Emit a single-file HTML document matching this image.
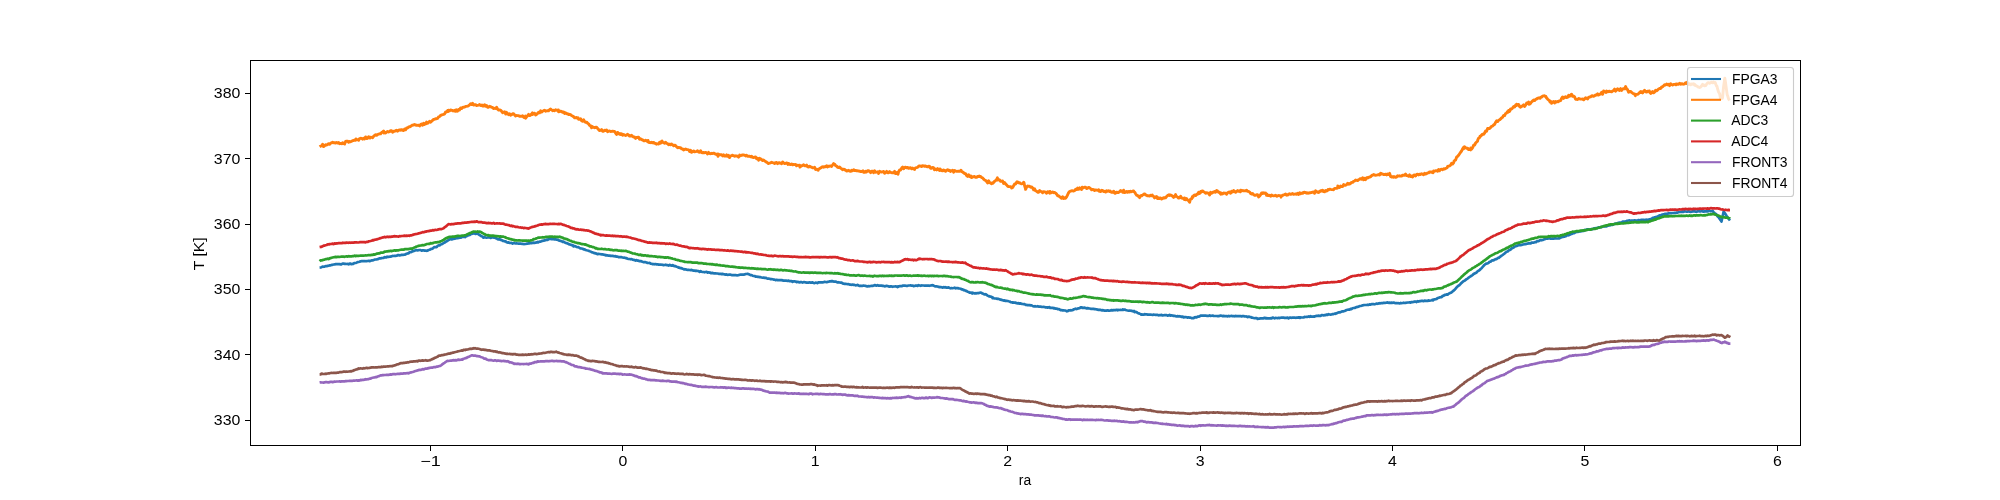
<!DOCTYPE html>
<html><head><meta charset="utf-8"><style>
html,body{margin:0;padding:0;background:#fff;}
svg{display:block;filter:grayscale(0);}
text{font-family:"Liberation Sans",sans-serif;fill:#000;}
</style></head><body>
<svg width="2000" height="500" viewBox="0 0 2000 500">
<rect x="0" y="0" width="2000" height="500" fill="#fff"/>
<defs><clipPath id="ax"><rect x="250" y="60" width="1550" height="385"/></clipPath></defs>
<g clip-path="url(#ax)" fill="none" stroke-width="2.08" stroke-linejoin="round" stroke-linecap="butt">
<path d="M319.6,267.6 L320.6,267.5 L321.6,267.2 L322.6,266.6 L323.6,266.8 L324.6,266.6 L325.6,266.1 L326.6,266.2 L327.6,265.9 L328.6,265.7 L329.6,265.4 L330.6,265.3 L331.6,264.9 L332.6,264.8 L333.6,264.5 L334.6,264.5 L335.0,264.3 L335.6,264.2 L336.6,264.1 L337.6,264.2 L338.6,264.2 L339.6,264.1 L340.6,264.4 L341.6,264.3 L342.6,263.5 L343.6,263.6 L344.6,263.9 L345.6,263.9 L346.6,264.0 L347.6,263.9 L348.6,264.3 L349.6,263.6 L350.6,263.7 L351.6,264.2 L352.6,263.8 L353.2,263.8 L353.6,263.5 L354.6,263.0 L355.6,263.0 L356.6,262.7 L357.6,262.1 L358.6,262.0 L359.6,261.8 L360.6,261.3 L361.6,261.2 L362.6,261.2 L363.6,261.1 L364.6,261.0 L365.6,261.2 L366.6,261.2 L367.6,261.0 L368.6,260.8 L369.6,261.1 L370.0,260.8 L370.6,260.9 L371.6,260.3 L372.6,260.5 L373.6,260.1 L374.6,259.6 L375.6,259.5 L376.6,259.4 L377.6,259.2 L378.6,258.7 L379.6,258.4 L380.6,258.5 L381.6,258.1 L382.6,258.0 L383.6,257.9 L384.6,257.2 L385.6,257.3 L386.6,257.3 L386.8,256.9 L387.6,256.7 L388.6,256.9 L389.6,256.7 L390.6,256.7 L391.6,256.3 L392.6,255.9 L393.6,256.0 L394.6,255.8 L395.6,255.9 L396.6,255.7 L397.6,255.2 L398.6,255.1 L399.6,255.4 L400.6,255.2 L401.6,254.8 L402.6,254.8 L403.6,254.8 L404.6,254.6 L405.0,254.7 L405.6,254.3 L406.6,253.8 L407.6,253.4 L408.6,253.3 L409.6,252.2 L410.6,252.2 L411.6,251.9 L412.6,251.2 L413.6,251.1 L414.6,250.5 L415.6,250.4 L416.2,250.0 L416.6,250.2 L417.6,250.3 L418.6,250.2 L419.6,250.0 L420.6,250.0 L421.6,250.7 L422.6,250.4 L423.6,250.3 L424.6,250.6 L425.6,250.5 L426.6,250.8 L427.4,250.7 L427.6,250.6 L428.6,250.0 L429.6,249.8 L430.6,249.1 L431.6,248.9 L432.6,248.7 L433.6,247.6 L434.6,247.0 L435.6,247.1 L436.6,247.1 L437.6,245.9 L438.6,245.4 L439.6,245.3 L440.6,244.6 L441.4,244.3 L441.6,244.2 L442.6,243.8 L443.6,243.0 L444.6,242.6 L445.6,241.9 L446.6,241.2 L447.6,240.7 L448.6,240.0 L449.6,239.6 L449.8,239.3 L450.6,239.1 L451.6,239.5 L452.6,239.0 L453.6,238.8 L454.6,238.7 L455.6,238.4 L456.6,238.2 L457.6,238.2 L458.6,238.0 L459.6,237.5 L460.6,237.7 L461.6,237.2 L462.6,237.0 L463.6,236.8 L464.6,236.7 L465.2,237.0 L465.6,236.3 L466.6,236.1 L467.6,235.3 L468.6,235.3 L469.6,235.0 L470.6,234.4 L471.6,233.9 L472.6,233.7 L473.6,233.3 L474.6,233.5 L475.6,233.9 L476.6,233.7 L477.6,233.7 L477.8,233.9 L478.6,234.4 L479.6,235.0 L480.6,235.6 L481.6,236.3 L482.6,236.6 L483.4,237.6 L483.6,237.3 L484.6,237.2 L485.6,237.5 L486.6,237.7 L487.6,237.5 L488.6,237.4 L489.6,237.2 L490.6,238.0 L491.6,237.6 L492.6,237.2 L493.2,237.2 L493.6,237.6 L494.6,237.6 L495.6,238.2 L496.6,238.4 L497.6,239.1 L498.6,239.4 L499.6,239.0 L500.6,239.9 L501.6,239.9 L502.6,240.8 L503.6,240.9 L504.6,241.3 L505.6,241.3 L506.6,242.2 L507.6,242.6 L508.6,242.3 L509.6,242.9 L510.0,242.9 L510.6,243.0 L511.6,242.9 L512.6,243.6 L513.6,243.1 L514.6,243.3 L515.6,243.5 L516.6,243.4 L517.6,243.5 L518.6,243.6 L519.6,243.7 L520.6,243.6 L521.6,243.8 L522.6,243.9 L523.6,244.0 L524.0,244.1 L524.6,244.0 L525.6,244.0 L526.6,243.7 L527.6,243.6 L528.6,243.4 L529.6,243.3 L530.6,243.0 L531.6,243.2 L532.6,242.8 L533.6,242.7 L534.6,242.8 L535.6,242.7 L536.6,242.4 L537.6,241.9 L538.0,242.4 L538.6,242.2 L539.6,241.6 L540.6,241.7 L541.6,241.1 L542.6,240.8 L543.6,240.7 L544.6,240.4 L545.6,240.2 L546.6,239.5 L547.6,239.9 L548.6,239.2 L549.6,238.7 L550.0,239.0 L550.6,238.9 L551.6,239.1 L552.6,239.1 L553.6,239.2 L554.6,239.4 L555.6,239.3 L556.6,239.7 L557.0,239.5 L557.6,239.7 L558.6,240.2 L559.6,240.7 L560.6,240.9 L561.6,241.2 L562.6,241.8 L563.6,241.7 L564.6,242.3 L565.6,242.9 L566.6,243.0 L567.6,243.6 L568.6,244.0 L569.6,244.5 L570.6,244.6 L571.0,244.8 L571.6,245.2 L572.6,245.0 L573.6,246.4 L574.6,246.0 L575.6,246.3 L576.6,247.0 L577.6,247.2 L578.6,247.2 L579.6,248.0 L580.6,248.4 L581.6,248.5 L582.6,248.8 L583.6,249.3 L584.6,249.4 L585.6,250.0 L586.6,250.3 L587.6,250.5 L588.6,250.7 L589.6,251.3 L590.6,251.5 L591.6,252.2 L592.6,252.4 L593.6,252.9 L594.6,253.1 L595.6,253.4 L596.2,253.4 L596.6,253.8 L597.6,254.2 L598.6,253.9 L599.6,254.0 L600.6,254.2 L601.6,254.3 L602.6,254.4 L603.6,254.7 L604.6,254.8 L605.6,255.3 L606.6,255.2 L607.6,255.4 L608.6,255.7 L609.6,255.5 L610.6,256.0 L611.6,255.8 L612.6,255.9 L613.6,256.1 L614.6,256.3 L615.6,256.2 L616.6,256.7 L617.6,256.5 L618.6,257.2 L619.6,257.1 L620.6,257.1 L621.6,257.2 L622.6,257.5 L623.6,257.7 L624.2,257.6 L624.6,257.7 L625.6,258.1 L626.6,258.2 L627.6,258.7 L628.6,259.0 L629.6,259.0 L630.6,259.3 L631.6,259.1 L632.6,259.7 L633.6,259.8 L634.6,260.1 L635.6,260.6 L636.6,260.0 L637.6,260.7 L638.6,260.7 L639.6,261.2 L640.6,261.1 L641.6,261.4 L642.6,261.8 L643.6,262.1 L644.6,262.2 L645.6,262.2 L646.6,262.5 L647.6,263.0 L648.6,263.0 L649.6,262.9 L650.6,263.6 L651.6,263.8 L652.6,264.1 L653.6,264.0 L654.6,264.3 L655.6,264.0 L656.6,264.4 L657.6,264.3 L658.6,264.6 L659.6,264.7 L660.6,264.5 L661.6,264.7 L662.6,264.8 L663.6,265.1 L664.6,265.0 L665.6,264.7 L666.6,265.1 L667.6,265.2 L668.6,265.6 L669.6,264.9 L670.6,265.2 L671.6,265.7 L672.6,265.2 L673.2,265.3 L673.6,265.7 L674.6,266.2 L675.6,266.2 L676.6,266.8 L677.6,267.0 L678.6,267.6 L679.6,267.7 L680.6,268.2 L681.6,268.2 L682.6,268.7 L683.6,269.0 L684.4,269.5 L684.6,269.4 L685.6,269.3 L686.6,269.7 L687.6,269.9 L688.6,269.8 L689.6,270.0 L690.6,270.1 L691.6,269.9 L692.6,270.4 L693.6,270.6 L694.6,270.5 L695.6,271.0 L696.6,270.7 L697.6,271.0 L698.6,271.1 L699.6,271.8 L700.6,271.2 L701.6,271.7 L702.6,272.0 L703.6,272.0 L704.6,272.3 L705.6,272.0 L706.6,271.8 L707.6,272.6 L708.6,272.3 L709.6,272.6 L710.6,272.6 L711.0,273.1 L711.6,273.1 L712.6,272.9 L713.6,273.3 L714.6,273.3 L715.6,273.3 L716.6,273.5 L717.6,273.5 L718.6,273.8 L719.6,273.8 L720.6,273.8 L721.6,274.2 L722.6,273.9 L723.6,274.2 L724.6,274.4 L725.6,274.7 L726.6,274.4 L727.6,274.9 L728.6,274.7 L729.6,274.7 L730.6,274.7 L731.6,275.1 L732.6,275.1 L733.6,275.0 L734.6,275.1 L734.8,275.2 L735.6,275.1 L736.6,275.3 L737.6,275.3 L738.6,275.1 L739.6,274.8 L740.6,274.6 L741.6,274.6 L742.6,274.6 L743.6,274.7 L744.6,274.4 L745.6,274.0 L746.6,274.0 L747.4,273.8 L747.6,273.8 L748.6,274.2 L749.6,274.6 L750.6,275.2 L751.6,275.1 L752.6,275.7 L753.6,276.0 L754.6,276.0 L755.6,276.6 L756.6,276.7 L757.2,276.6 L757.6,276.8 L758.6,276.9 L759.6,277.1 L760.6,277.2 L761.6,277.5 L762.6,277.7 L763.6,277.6 L764.6,277.9 L765.6,277.8 L766.6,278.3 L767.6,278.6 L768.6,278.6 L769.6,278.8 L770.6,279.1 L771.6,279.0 L772.6,279.2 L773.6,279.5 L774.0,279.7 L774.6,279.6 L775.6,280.2 L776.6,279.8 L777.6,280.1 L778.6,280.2 L779.6,280.1 L780.6,280.0 L781.6,280.1 L782.6,280.4 L783.6,280.7 L784.6,280.7 L785.6,280.7 L786.6,280.7 L787.6,281.0 L788.6,280.6 L789.6,281.2 L790.6,281.2 L791.6,281.1 L792.6,281.9 L793.6,281.3 L794.6,281.4 L795.6,281.5 L796.6,282.1 L797.6,281.8 L798.6,282.2 L799.6,282.3 L800.0,282.3 L800.6,282.0 L801.6,282.1 L802.6,282.6 L803.6,282.1 L804.6,282.2 L805.6,282.4 L806.6,282.6 L807.6,282.5 L808.6,282.6 L809.6,282.3 L810.6,282.7 L811.6,282.7 L812.6,282.3 L813.6,283.0 L814.6,283.1 L815.6,282.6 L816.6,282.8 L817.6,283.1 L818.2,282.5 L818.6,282.4 L819.6,282.4 L820.6,282.4 L821.6,282.3 L822.6,282.4 L823.6,282.2 L824.6,281.8 L825.6,282.0 L826.6,282.2 L827.6,281.9 L828.6,281.7 L829.6,281.4 L830.6,281.5 L831.6,281.0 L832.2,281.3 L832.6,281.2 L833.6,281.6 L834.6,281.7 L835.6,281.6 L836.6,282.0 L837.6,282.4 L838.6,282.2 L839.6,282.5 L840.6,282.6 L841.6,282.7 L842.6,283.4 L843.6,283.7 L844.6,283.8 L845.6,283.8 L846.6,284.0 L847.6,284.2 L848.6,284.2 L849.6,284.6 L850.6,284.7 L851.6,284.8 L852.6,284.6 L853.6,284.9 L854.6,284.9 L855.6,285.4 L856.6,285.2 L857.6,284.9 L858.6,285.5 L859.6,285.9 L860.6,285.7 L861.6,285.9 L862.6,285.8 L863.6,285.5 L864.6,285.7 L865.6,285.9 L866.6,286.2 L867.2,286.4 L867.6,286.4 L868.6,286.1 L869.6,286.3 L870.6,286.0 L871.6,285.8 L872.6,286.0 L873.6,285.6 L874.6,285.1 L875.6,285.4 L876.6,285.7 L877.6,285.1 L878.6,285.7 L879.6,285.7 L880.6,285.6 L881.6,285.6 L882.6,285.9 L883.6,285.9 L884.6,286.3 L885.6,286.2 L886.6,285.8 L887.6,286.0 L888.6,286.4 L889.6,286.7 L890.6,286.4 L891.6,286.4 L892.6,286.8 L893.6,286.5 L894.6,286.5 L895.6,286.3 L896.6,286.5 L897.6,287.1 L898.0,286.4 L898.6,286.6 L899.6,286.1 L900.6,286.2 L901.6,286.2 L902.6,285.7 L903.6,285.7 L904.6,285.7 L905.6,285.7 L906.6,285.9 L907.6,285.8 L908.6,285.5 L909.6,285.5 L910.6,285.4 L911.6,285.7 L912.6,285.5 L913.6,286.1 L914.6,286.0 L915.6,285.6 L916.6,285.5 L917.6,285.9 L918.6,285.2 L919.6,285.5 L920.6,285.8 L921.6,285.4 L922.6,285.5 L923.6,285.5 L924.6,285.7 L925.6,285.6 L926.6,285.7 L927.6,285.7 L928.6,285.6 L929.6,285.8 L930.6,285.5 L931.6,285.3 L932.6,285.2 L933.0,285.3 L933.6,285.6 L934.6,286.2 L935.6,286.3 L936.6,286.4 L937.6,286.5 L938.6,286.9 L939.6,287.1 L940.0,287.2 L940.6,287.0 L941.6,287.3 L942.6,287.6 L943.6,287.1 L944.6,287.5 L945.6,287.2 L946.6,287.7 L947.6,287.6 L948.6,287.4 L949.6,287.9 L950.6,288.3 L951.6,288.0 L952.6,288.2 L953.6,288.0 L954.6,287.7 L955.6,288.3 L956.6,288.1 L957.6,288.0 L958.6,288.5 L959.6,288.5 L960.6,288.7 L961.6,289.4 L962.6,289.4 L963.6,290.1 L964.6,290.2 L965.6,290.8 L966.6,290.9 L967.6,291.8 L968.6,292.0 L969.6,292.6 L970.6,292.5 L971.6,293.0 L972.2,293.5 L972.6,292.7 L973.6,293.0 L974.6,293.4 L975.6,293.2 L976.6,293.3 L977.6,293.0 L978.6,293.1 L979.6,292.8 L980.6,292.6 L981.6,293.0 L982.6,293.6 L983.6,294.0 L984.6,294.4 L985.6,294.2 L986.6,294.9 L987.6,295.6 L988.6,296.1 L989.6,296.4 L990.6,296.7 L991.6,296.8 L992.6,298.1 L993.2,297.7 L993.6,298.3 L994.6,298.5 L995.6,298.5 L996.6,298.6 L997.6,298.9 L998.6,298.9 L999.6,299.4 L1000.6,299.6 L1001.6,299.9 L1002.6,300.2 L1003.6,300.6 L1004.6,300.4 L1005.6,301.0 L1006.6,300.8 L1007.6,301.0 L1008.6,301.3 L1009.6,301.5 L1010.6,302.1 L1011.6,302.3 L1012.6,302.6 L1012.8,302.4 L1013.6,302.6 L1014.6,302.6 L1015.6,302.7 L1016.6,303.2 L1017.6,303.3 L1018.6,303.2 L1019.6,303.7 L1020.6,303.4 L1021.6,303.9 L1022.6,304.0 L1023.6,304.2 L1024.6,304.2 L1025.6,304.8 L1026.6,304.9 L1027.6,305.2 L1028.6,305.2 L1029.6,305.1 L1030.6,305.4 L1031.6,305.4 L1032.6,305.9 L1033.6,306.3 L1034.6,306.3 L1035.2,306.2 L1035.6,306.3 L1036.6,306.5 L1037.6,306.2 L1038.6,306.6 L1039.6,306.7 L1040.6,306.7 L1041.6,306.8 L1042.6,307.0 L1043.6,306.9 L1044.6,307.0 L1045.6,307.4 L1046.6,307.3 L1047.6,307.7 L1048.6,307.3 L1049.6,307.2 L1050.0,307.8 L1050.6,307.9 L1051.6,307.8 L1052.6,307.8 L1053.6,308.3 L1054.6,308.2 L1055.6,308.7 L1056.6,308.5 L1057.6,309.1 L1058.6,309.0 L1059.6,309.5 L1060.6,310.1 L1061.6,310.0 L1062.6,310.4 L1063.6,310.3 L1064.6,310.5 L1065.6,310.5 L1066.6,311.3 L1066.8,311.1 L1067.6,311.2 L1068.6,310.4 L1069.6,310.4 L1070.6,310.2 L1071.6,310.3 L1072.6,310.1 L1073.6,309.4 L1074.6,309.1 L1075.6,308.7 L1076.6,309.1 L1077.6,308.6 L1078.6,308.3 L1079.6,308.2 L1080.6,307.4 L1081.6,307.4 L1082.2,307.8 L1082.6,307.7 L1083.6,307.8 L1084.6,307.7 L1085.6,308.1 L1086.6,308.5 L1087.6,308.0 L1088.6,308.4 L1089.6,308.5 L1090.6,308.8 L1091.6,308.8 L1092.6,308.9 L1093.6,308.9 L1094.6,309.2 L1095.6,309.2 L1096.6,309.4 L1097.6,309.6 L1098.6,309.9 L1099.6,309.7 L1100.6,309.9 L1101.6,310.3 L1102.6,310.2 L1103.6,310.3 L1104.6,310.7 L1105.6,310.7 L1106.0,310.7 L1106.6,310.7 L1107.6,310.3 L1108.6,310.6 L1109.6,310.7 L1110.6,310.5 L1111.6,310.0 L1112.6,310.4 L1113.6,310.1 L1114.6,310.1 L1115.6,310.1 L1116.6,309.8 L1117.6,310.3 L1118.6,309.9 L1119.6,310.0 L1120.6,309.9 L1121.6,310.0 L1122.6,309.9 L1122.8,309.4 L1123.6,309.8 L1124.6,309.5 L1125.6,310.0 L1126.6,310.3 L1127.6,310.5 L1128.6,310.7 L1129.6,310.5 L1130.6,310.7 L1131.6,310.8 L1132.6,311.2 L1133.6,311.4 L1134.0,311.0 L1134.6,312.1 L1135.6,311.8 L1136.6,312.2 L1137.6,312.9 L1138.6,313.3 L1139.6,313.8 L1140.6,314.0 L1141.0,314.6 L1141.6,314.3 L1142.6,314.7 L1143.6,314.7 L1144.6,314.2 L1145.6,314.3 L1146.6,314.3 L1147.6,314.6 L1148.6,314.6 L1149.6,314.7 L1150.6,314.5 L1151.6,314.8 L1152.6,315.0 L1153.6,314.5 L1154.6,314.7 L1155.6,314.9 L1156.6,314.8 L1157.6,314.9 L1158.6,315.3 L1159.6,315.2 L1160.6,315.2 L1161.6,314.9 L1162.6,315.5 L1163.6,315.2 L1164.6,315.0 L1165.6,315.1 L1166.6,315.1 L1167.6,315.7 L1168.6,315.3 L1169.0,315.3 L1169.6,314.9 L1170.6,315.6 L1171.6,315.4 L1172.6,315.5 L1173.6,316.0 L1174.6,315.8 L1175.6,316.2 L1176.6,316.4 L1177.6,316.0 L1178.6,316.4 L1179.6,316.2 L1180.6,316.6 L1181.6,317.0 L1182.6,316.6 L1183.6,317.4 L1184.6,317.1 L1185.6,317.0 L1186.6,317.3 L1187.6,317.6 L1188.6,317.3 L1189.6,317.7 L1190.6,317.6 L1191.6,318.2 L1192.6,318.1 L1192.8,318.0 L1193.6,318.1 L1194.6,317.3 L1195.6,317.2 L1196.6,317.4 L1197.6,316.7 L1198.6,316.7 L1199.6,316.2 L1200.6,315.7 L1201.2,315.6 L1201.6,315.7 L1202.6,315.6 L1203.6,315.6 L1204.6,315.6 L1205.6,315.5 L1206.6,315.8 L1207.6,315.9 L1208.6,315.9 L1209.6,315.4 L1210.6,316.0 L1211.6,315.8 L1212.6,315.6 L1213.6,315.9 L1214.6,316.0 L1215.6,316.0 L1216.6,316.0 L1217.6,316.1 L1218.6,316.1 L1219.6,315.9 L1220.6,315.5 L1221.6,315.8 L1222.6,316.1 L1223.6,315.9 L1224.6,316.1 L1225.6,316.2 L1226.6,316.0 L1227.6,316.4 L1228.6,315.9 L1229.6,316.3 L1230.6,316.0 L1231.6,315.9 L1232.6,316.2 L1233.6,316.0 L1234.6,316.3 L1235.6,315.9 L1236.6,316.2 L1237.6,316.0 L1238.6,316.1 L1239.6,316.1 L1240.6,316.0 L1241.6,316.4 L1242.6,316.0 L1243.6,316.1 L1244.6,316.5 L1245.6,316.5 L1246.0,316.4 L1246.6,316.5 L1247.6,317.1 L1248.6,316.6 L1249.6,316.9 L1250.6,317.0 L1251.6,317.6 L1252.6,317.7 L1253.6,318.0 L1254.6,318.2 L1255.6,318.1 L1256.6,318.2 L1257.2,318.3 L1257.6,318.9 L1258.6,318.7 L1259.6,318.6 L1260.6,318.3 L1261.6,318.4 L1262.6,318.3 L1263.6,318.3 L1264.6,317.8 L1265.6,318.3 L1266.6,318.2 L1267.6,318.3 L1268.6,318.3 L1269.6,318.4 L1270.6,318.2 L1271.6,318.3 L1272.6,317.6 L1273.6,317.9 L1274.6,318.4 L1275.6,317.8 L1276.6,318.0 L1277.6,318.2 L1278.6,317.8 L1279.6,318.1 L1280.6,317.7 L1281.6,317.5 L1282.6,317.6 L1283.6,317.5 L1284.6,317.9 L1285.6,317.8 L1286.6,317.9 L1287.6,317.6 L1288.6,318.3 L1289.6,317.7 L1290.6,317.7 L1291.6,317.8 L1292.6,317.6 L1293.6,317.5 L1294.6,317.6 L1295.6,317.8 L1296.6,317.7 L1297.6,317.7 L1298.6,317.4 L1299.6,317.4 L1300.0,317.9 L1300.6,317.4 L1301.6,317.5 L1302.6,317.5 L1303.6,317.5 L1304.6,316.9 L1305.6,317.0 L1306.6,316.9 L1307.6,316.9 L1308.6,316.4 L1309.6,316.8 L1310.6,316.2 L1311.6,316.7 L1312.6,316.7 L1313.6,316.6 L1314.0,316.3 L1314.6,316.6 L1315.6,316.1 L1316.6,315.9 L1317.6,315.8 L1318.6,315.7 L1319.6,315.8 L1320.6,315.8 L1321.6,315.1 L1322.6,315.2 L1323.6,315.4 L1324.6,315.1 L1325.6,315.1 L1326.6,314.5 L1327.6,314.9 L1328.6,314.2 L1329.6,314.5 L1330.6,314.6 L1331.6,314.5 L1332.6,314.1 L1333.6,314.1 L1334.6,313.6 L1335.0,313.6 L1335.6,313.8 L1336.6,313.2 L1337.6,312.9 L1338.6,312.3 L1339.6,312.4 L1340.6,312.1 L1341.6,311.6 L1342.6,311.3 L1343.6,311.4 L1344.6,310.9 L1345.6,310.5 L1346.6,310.0 L1347.6,309.8 L1348.6,309.6 L1349.6,309.6 L1350.6,308.9 L1351.6,309.1 L1352.6,308.2 L1353.6,308.0 L1354.6,308.0 L1355.6,307.5 L1356.6,307.1 L1357.6,306.9 L1358.6,306.7 L1359.6,306.0 L1360.6,306.0 L1361.6,305.7 L1362.6,305.3 L1363.0,305.4 L1363.6,305.1 L1364.6,305.0 L1365.6,305.0 L1366.6,305.0 L1367.6,304.7 L1368.6,304.9 L1369.6,304.3 L1370.6,304.7 L1371.6,304.1 L1372.6,304.1 L1373.6,304.1 L1374.6,304.3 L1375.6,304.0 L1376.6,303.6 L1377.6,303.8 L1378.6,303.4 L1379.6,303.2 L1380.6,303.3 L1381.6,303.1 L1382.6,303.2 L1383.6,302.8 L1384.6,302.8 L1385.6,302.8 L1386.6,302.6 L1386.8,302.5 L1387.6,302.4 L1388.6,302.8 L1389.6,302.7 L1390.6,302.8 L1391.6,302.7 L1392.6,302.8 L1393.6,302.6 L1394.6,302.9 L1395.6,303.1 L1396.6,303.0 L1397.6,303.2 L1398.6,303.2 L1399.6,303.4 L1400.6,303.2 L1400.8,302.9 L1401.6,303.2 L1402.6,303.0 L1403.6,302.7 L1404.6,303.0 L1405.6,302.8 L1406.6,302.7 L1407.6,302.5 L1408.6,302.5 L1409.6,302.4 L1410.6,302.6 L1411.6,302.0 L1412.6,302.1 L1413.6,302.0 L1414.6,301.5 L1415.6,301.5 L1416.6,302.1 L1417.6,301.2 L1418.6,301.6 L1419.6,301.2 L1420.6,301.1 L1421.6,300.8 L1422.6,300.9 L1423.6,301.2 L1424.6,300.6 L1425.6,300.9 L1426.6,300.8 L1427.6,301.0 L1428.6,300.4 L1429.6,300.7 L1430.6,300.5 L1431.6,300.2 L1432.6,299.8 L1433.0,300.4 L1433.6,299.6 L1434.6,299.4 L1435.6,299.2 L1436.6,298.9 L1437.6,298.1 L1438.6,297.8 L1439.6,297.4 L1440.6,297.2 L1441.6,297.1 L1442.6,295.8 L1443.6,296.0 L1444.6,294.8 L1445.6,295.0 L1446.6,294.3 L1447.6,294.6 L1448.6,293.8 L1449.6,293.2 L1450.6,292.8 L1451.2,292.6 L1451.6,292.4 L1452.6,291.4 L1453.6,290.6 L1454.6,289.8 L1455.6,288.7 L1456.6,287.4 L1457.6,286.4 L1458.6,285.6 L1459.6,285.0 L1460.6,283.8 L1461.6,282.8 L1462.4,282.2 L1462.6,281.8 L1463.6,281.1 L1464.6,280.7 L1465.6,279.9 L1466.6,279.1 L1467.6,278.6 L1468.6,277.7 L1469.6,277.0 L1470.6,276.3 L1471.6,275.8 L1472.6,275.0 L1473.6,274.0 L1474.6,273.5 L1475.6,273.0 L1476.6,272.5 L1477.6,271.2 L1478.6,270.8 L1479.2,270.2 L1479.6,270.1 L1480.6,269.0 L1481.6,268.2 L1482.6,267.0 L1483.6,265.8 L1484.6,264.8 L1485.6,264.0 L1486.6,263.5 L1487.6,263.4 L1488.6,262.8 L1489.6,261.8 L1490.6,261.6 L1491.6,260.8 L1492.6,260.3 L1493.6,260.3 L1494.6,259.8 L1495.6,259.0 L1496.6,259.1 L1497.6,258.1 L1498.6,257.6 L1498.8,257.8 L1499.6,257.2 L1500.6,256.4 L1501.6,255.7 L1502.6,255.0 L1503.6,254.2 L1504.6,253.5 L1505.6,252.5 L1506.6,251.8 L1507.6,251.5 L1508.6,250.5 L1509.6,250.1 L1510.6,249.5 L1511.6,248.5 L1512.6,247.9 L1513.6,247.5 L1514.6,246.5 L1515.0,246.5 L1515.6,246.3 L1516.6,245.9 L1517.6,245.6 L1518.6,245.2 L1519.6,245.0 L1520.6,245.1 L1521.6,244.9 L1522.6,244.5 L1523.6,244.5 L1524.6,244.1 L1525.6,244.2 L1526.6,243.8 L1527.6,243.6 L1528.6,243.4 L1529.6,243.2 L1530.6,243.5 L1531.6,242.5 L1532.6,242.6 L1533.6,242.6 L1534.6,242.3 L1535.6,241.9 L1536.0,242.2 L1536.6,241.5 L1537.6,241.1 L1538.6,241.2 L1539.6,240.5 L1540.6,240.0 L1541.6,240.3 L1542.6,240.0 L1543.6,239.7 L1544.6,239.1 L1545.6,238.9 L1546.6,238.4 L1547.2,238.7 L1547.6,238.6 L1548.6,238.5 L1549.6,238.0 L1550.6,238.6 L1551.6,238.7 L1552.6,238.6 L1553.6,238.6 L1554.6,238.4 L1555.6,238.3 L1556.6,238.5 L1557.6,238.5 L1558.4,238.4 L1558.6,238.3 L1559.6,238.3 L1560.6,237.4 L1561.6,237.3 L1562.6,236.8 L1563.6,236.8 L1564.6,236.6 L1565.6,236.2 L1566.6,235.7 L1567.6,235.0 L1568.6,235.3 L1569.6,234.7 L1570.6,234.2 L1571.6,233.9 L1572.6,233.5 L1573.6,233.3 L1574.6,232.9 L1575.6,232.4 L1576.6,231.7 L1577.6,231.8 L1578.0,231.8 L1578.6,231.7 L1579.6,231.3 L1580.6,231.3 L1581.6,231.2 L1582.6,230.7 L1583.6,230.9 L1584.6,230.0 L1585.6,229.9 L1586.6,229.8 L1587.6,229.3 L1588.6,229.4 L1589.6,229.6 L1590.6,229.4 L1591.6,229.0 L1592.6,229.1 L1593.6,228.6 L1594.6,228.3 L1595.6,228.2 L1596.6,228.0 L1597.6,227.9 L1598.6,227.3 L1599.6,227.6 L1600.6,227.1 L1601.6,227.2 L1602.6,226.5 L1603.6,226.5 L1604.6,226.4 L1605.6,226.4 L1606.0,225.9 L1606.6,226.3 L1607.6,225.8 L1608.6,225.4 L1609.6,225.5 L1610.6,225.0 L1611.6,224.9 L1612.6,224.9 L1613.6,224.4 L1614.6,223.9 L1615.6,223.6 L1616.6,223.6 L1617.6,223.3 L1618.6,222.8 L1619.6,222.6 L1620.6,222.6 L1621.6,222.7 L1622.6,221.5 L1623.6,221.9 L1624.6,221.5 L1625.6,221.4 L1626.6,221.2 L1627.0,220.9 L1627.6,220.7 L1628.6,220.5 L1629.6,220.4 L1630.6,221.0 L1631.6,220.6 L1632.6,220.5 L1633.6,220.5 L1634.6,220.3 L1635.6,220.6 L1636.6,220.7 L1637.6,220.6 L1638.6,220.0 L1639.6,220.6 L1640.6,220.1 L1641.6,219.8 L1642.6,219.9 L1643.6,219.9 L1644.6,220.1 L1645.6,219.8 L1646.6,219.7 L1647.6,219.9 L1648.0,220.3 L1648.6,219.5 L1649.6,219.4 L1650.6,219.0 L1651.6,219.1 L1652.6,217.9 L1653.6,218.1 L1654.6,217.3 L1655.6,217.1 L1656.6,216.8 L1657.6,217.1 L1658.6,216.0 L1659.6,215.4 L1660.6,215.7 L1661.6,214.9 L1662.6,214.6 L1663.6,214.3 L1664.6,214.0 L1664.8,213.9 L1665.6,213.9 L1666.6,213.8 L1667.6,213.7 L1668.6,213.4 L1669.6,213.2 L1670.6,213.0 L1671.6,213.2 L1672.6,213.0 L1673.6,213.0 L1674.6,212.9 L1675.6,213.0 L1676.6,212.6 L1677.6,212.6 L1678.6,212.1 L1679.6,212.0 L1680.6,212.0 L1681.6,211.7 L1682.6,212.0 L1683.0,211.5 L1683.6,211.8 L1684.6,211.3 L1685.6,211.5 L1686.6,211.6 L1687.6,211.6 L1688.6,211.3 L1689.6,211.7 L1690.6,211.8 L1691.6,211.7 L1692.6,211.4 L1693.6,211.4 L1694.6,211.3 L1695.6,211.6 L1696.6,211.8 L1697.6,211.3 L1698.6,211.1 L1699.6,211.4 L1700.6,211.5 L1701.6,210.8 L1702.6,211.4 L1703.6,211.7 L1704.6,211.4 L1705.6,211.4 L1706.6,211.3 L1707.6,211.4 L1708.6,211.0 L1709.6,211.0 L1710.6,211.2 L1711.6,211.0 L1712.4,211.2 L1712.6,210.9 L1713.6,212.3 L1714.6,213.1 L1715.6,213.8 L1716.6,214.6 L1717.6,216.4 L1718.6,217.2 L1719.6,218.7 L1720.6,220.1 L1721.5,221.5 L1721.6,220.9 L1722.6,216.5 L1723.6,211.7 L1724.6,212.9 L1725.6,214.2 L1726.6,216.1 L1727.6,217.2 L1728.6,218.6 L1729.6,220.0 L1730.0,220.5" stroke="#1f77b4" stroke-width="2.7"/>
<path d="M319.6,146.8 L320.6,146.1 L321.6,145.9 L322.6,144.3 L323.6,146.6 L324.6,145.9 L325.6,144.7 L326.6,145.1 L327.6,144.5 L328.6,143.7 L329.6,144.3 L330.6,143.2 L331.6,142.9 L332.6,142.3 L333.6,142.8 L334.6,142.6 L335.6,143.1 L336.6,142.5 L337.6,143.1 L338.6,142.6 L339.6,143.7 L340.6,143.4 L341.6,143.7 L342.0,143.7 L342.6,142.7 L343.6,143.5 L344.6,144.0 L345.6,141.5 L346.6,141.2 L347.6,141.1 L348.6,142.2 L349.6,141.5 L350.6,141.8 L351.6,141.3 L352.6,140.7 L353.6,140.5 L354.6,140.0 L355.6,140.3 L356.0,139.0 L356.6,139.3 L357.6,139.6 L358.6,140.3 L359.6,138.6 L360.6,138.3 L361.6,138.4 L362.6,139.2 L363.6,138.3 L364.6,139.0 L365.6,136.9 L366.6,138.6 L367.6,138.3 L368.6,136.7 L369.6,137.5 L370.0,138.0 L370.6,137.1 L371.6,137.3 L372.6,137.8 L373.6,136.2 L374.6,135.5 L375.6,134.8 L376.6,135.3 L377.6,134.5 L378.6,134.1 L379.6,133.8 L380.6,133.9 L381.6,132.5 L382.6,131.9 L383.6,131.0 L384.0,133.0 L384.6,132.3 L385.6,133.0 L386.6,132.0 L387.6,131.4 L388.6,132.0 L389.6,131.6 L390.6,130.7 L391.6,130.8 L392.6,132.3 L393.6,131.3 L394.6,131.3 L395.6,130.7 L396.6,130.3 L397.6,131.2 L398.6,130.4 L399.6,129.9 L400.6,130.2 L401.6,129.6 L402.6,130.1 L403.6,130.6 L404.6,128.9 L405.6,129.8 L406.6,128.0 L407.6,128.0 L408.6,126.9 L409.6,126.8 L410.6,126.4 L411.6,125.6 L412.0,125.3 L412.6,125.2 L413.6,125.0 L414.6,124.4 L415.6,125.0 L416.6,125.3 L417.6,125.4 L418.6,125.1 L419.6,126.0 L420.6,124.6 L421.6,124.0 L422.6,125.2 L423.6,123.3 L424.6,124.4 L425.6,123.1 L426.0,123.8 L426.6,122.1 L427.6,123.3 L428.6,122.2 L429.6,121.2 L430.6,122.3 L431.6,121.3 L432.6,120.3 L433.6,119.4 L434.6,119.3 L435.6,118.7 L436.6,118.7 L437.6,118.3 L438.6,116.9 L439.6,116.5 L440.0,116.3 L440.6,115.3 L441.6,115.0 L442.6,114.6 L443.6,114.3 L444.6,113.9 L445.6,111.9 L446.6,112.0 L447.6,110.6 L448.4,111.5 L448.6,110.3 L449.6,110.7 L450.6,110.0 L451.6,110.1 L452.6,110.8 L453.6,110.6 L454.6,111.1 L455.4,110.1 L455.6,111.3 L456.6,109.9 L457.6,111.1 L458.6,109.5 L459.6,109.9 L460.6,107.9 L461.6,108.6 L462.6,107.4 L463.6,107.2 L464.6,107.1 L465.6,106.4 L466.6,106.4 L467.6,106.2 L468.6,105.7 L469.6,104.9 L470.6,103.7 L470.8,103.9 L471.6,104.4 L472.6,103.3 L473.6,105.1 L474.6,104.6 L475.6,104.7 L476.6,105.5 L477.6,105.4 L478.6,105.2 L479.6,104.6 L480.6,105.5 L481.6,105.6 L482.0,104.9 L482.6,106.1 L483.6,106.0 L484.6,104.7 L485.6,106.2 L486.6,105.6 L487.6,107.2 L488.6,107.2 L489.6,106.3 L490.6,106.6 L491.6,107.4 L492.6,107.4 L493.6,108.6 L494.6,108.4 L495.6,108.0 L496.0,108.5 L496.6,107.3 L497.6,109.2 L498.6,110.0 L499.6,109.9 L500.6,110.1 L501.6,111.3 L502.6,112.7 L503.6,112.1 L504.6,111.8 L505.6,113.9 L506.6,112.4 L507.2,114.1 L507.6,113.5 L508.6,114.6 L509.6,113.7 L510.6,115.2 L511.6,114.7 L512.6,113.7 L513.6,113.7 L514.6,114.9 L515.6,116.0 L516.6,115.5 L517.6,115.6 L518.6,115.6 L519.6,116.4 L520.6,116.3 L521.6,116.4 L522.6,115.8 L523.6,117.3 L524.6,117.6 L525.4,116.1 L525.6,118.2 L526.6,116.8 L527.6,115.7 L528.6,114.4 L529.6,115.6 L530.6,115.1 L531.6,114.0 L532.4,112.9 L532.6,114.6 L533.6,113.4 L534.6,113.2 L535.6,115.0 L536.6,114.3 L537.6,113.4 L538.6,112.3 L539.6,112.8 L540.6,110.8 L541.6,112.0 L542.6,111.2 L543.6,110.7 L544.6,110.3 L545.6,111.3 L546.6,110.8 L547.6,110.6 L548.6,110.8 L549.6,109.6 L550.0,109.3 L550.6,109.0 L551.6,109.9 L552.6,110.7 L553.6,110.2 L554.6,110.8 L555.6,109.8 L556.6,110.3 L557.6,110.2 L558.4,110.0 L558.6,111.9 L559.6,111.7 L560.6,111.1 L561.6,111.5 L562.6,112.3 L563.6,111.9 L564.6,113.4 L565.6,112.8 L566.6,113.7 L567.6,113.7 L568.6,114.5 L569.6,114.3 L570.6,114.6 L571.0,115.1 L571.6,115.5 L572.6,116.1 L573.6,116.6 L574.6,117.9 L575.6,117.8 L576.6,117.5 L577.6,118.4 L578.0,117.7 L578.6,119.3 L579.6,119.4 L580.6,118.8 L581.6,120.7 L582.6,121.3 L583.6,119.8 L584.6,121.6 L585.6,122.4 L586.6,122.1 L587.6,123.2 L588.6,123.9 L589.6,125.4 L590.6,125.8 L591.6,127.8 L592.0,126.3 L592.6,127.4 L593.6,127.2 L594.6,127.7 L595.6,127.3 L596.6,127.3 L597.6,128.4 L598.6,129.7 L599.6,130.6 L600.4,130.4 L600.6,130.3 L601.6,129.6 L602.6,131.2 L603.6,131.2 L604.6,130.2 L605.6,130.6 L606.6,130.1 L607.6,131.7 L608.6,131.2 L609.6,131.0 L610.2,131.3 L610.6,131.5 L611.6,131.3 L612.6,131.1 L613.6,131.4 L614.6,131.4 L615.6,133.1 L616.6,134.5 L617.6,132.4 L618.6,133.8 L619.6,134.3 L620.0,133.6 L620.6,134.4 L621.6,133.8 L622.6,135.3 L623.6,134.4 L624.6,135.0 L625.6,135.5 L626.6,134.9 L627.6,134.3 L628.6,135.2 L629.6,136.1 L630.6,135.8 L631.2,136.0 L631.6,135.4 L632.6,136.4 L633.6,137.1 L634.6,137.0 L635.6,138.4 L636.6,137.5 L637.6,137.3 L638.6,137.3 L639.6,139.2 L640.6,138.8 L641.6,139.8 L642.6,139.8 L643.6,140.8 L644.6,140.9 L645.6,140.2 L646.6,140.9 L647.6,141.7 L648.0,140.5 L648.6,142.3 L649.6,142.5 L650.6,142.7 L651.6,142.3 L652.6,142.9 L653.6,142.4 L654.6,143.4 L655.6,143.4 L656.4,144.1 L656.6,143.6 L657.6,143.8 L658.6,144.0 L659.6,142.2 L660.6,143.3 L661.6,141.2 L662.0,141.0 L662.6,142.4 L663.6,142.7 L664.6,143.2 L665.6,142.2 L666.6,143.4 L667.6,143.7 L668.6,144.7 L669.6,144.1 L670.6,144.7 L671.6,144.1 L671.8,144.6 L672.6,144.7 L673.6,145.8 L674.6,145.1 L675.6,145.6 L676.6,146.8 L677.6,147.8 L678.6,147.4 L679.6,147.7 L680.6,147.6 L681.6,148.9 L682.6,148.9 L683.6,149.9 L684.6,149.4 L685.6,149.0 L686.6,149.5 L687.6,149.6 L688.6,149.8 L689.6,151.6 L690.0,151.5 L690.6,150.3 L691.6,152.3 L692.6,151.5 L693.6,150.9 L694.6,151.8 L695.6,151.6 L696.6,151.3 L697.6,150.8 L698.6,152.1 L699.6,152.3 L700.6,150.7 L701.6,152.7 L702.6,152.9 L703.6,152.4 L704.0,152.8 L704.6,152.6 L705.6,152.4 L706.6,152.8 L707.6,154.0 L708.6,152.4 L709.6,153.6 L710.6,153.7 L711.6,153.3 L712.6,153.5 L713.6,153.1 L714.6,153.6 L715.6,154.2 L716.6,154.5 L717.6,153.9 L718.0,156.3 L718.6,154.2 L719.6,154.8 L720.6,154.7 L721.6,154.7 L722.6,155.9 L723.6,154.9 L724.6,156.1 L725.6,156.1 L726.6,154.9 L727.6,156.3 L728.6,155.4 L729.6,157.6 L730.6,155.8 L731.6,155.6 L732.6,155.2 L733.6,155.7 L734.6,156.2 L734.8,156.0 L735.6,155.8 L736.6,156.0 L737.6,156.2 L738.6,157.1 L739.6,155.1 L740.6,155.7 L741.6,155.4 L742.6,154.9 L743.6,155.0 L744.6,155.1 L745.6,156.0 L746.0,155.4 L746.6,155.3 L747.6,156.2 L748.6,156.3 L749.6,156.2 L750.6,156.8 L751.6,156.3 L752.6,157.4 L753.6,157.5 L754.6,157.2 L755.6,157.0 L756.6,158.8 L757.6,158.2 L758.6,160.2 L759.6,158.2 L760.0,159.2 L760.6,158.7 L761.6,159.7 L762.6,160.5 L763.6,160.0 L764.6,160.9 L765.6,161.6 L766.6,162.1 L767.6,162.9 L768.4,163.5 L768.6,163.4 L769.6,163.1 L770.6,162.8 L771.6,162.3 L772.6,162.6 L773.6,162.8 L774.6,163.5 L775.6,162.9 L776.6,162.4 L777.6,163.6 L778.6,162.8 L779.6,162.8 L780.6,163.2 L781.6,163.7 L782.6,162.0 L783.6,162.8 L784.6,163.6 L785.6,163.3 L786.6,163.0 L787.6,163.3 L788.0,164.4 L788.6,163.4 L789.6,164.3 L790.6,164.6 L791.6,164.0 L792.6,164.8 L793.6,164.4 L794.6,164.6 L795.6,164.4 L796.6,165.8 L797.6,165.3 L798.6,165.4 L799.6,165.2 L800.0,167.1 L800.6,166.4 L801.6,165.8 L802.6,165.4 L803.6,164.8 L804.6,165.8 L805.6,165.8 L806.6,165.1 L807.6,166.9 L808.6,167.0 L809.6,166.2 L810.6,166.8 L811.6,167.2 L812.6,167.8 L813.6,167.9 L814.6,167.3 L815.6,169.5 L816.6,169.1 L817.6,170.0 L818.2,170.2 L818.6,169.0 L819.6,168.6 L820.6,168.0 L821.0,167.8 L821.6,167.2 L822.6,166.8 L823.6,167.2 L824.6,166.6 L825.6,166.7 L826.6,165.8 L827.6,167.0 L828.0,166.3 L828.6,166.3 L829.6,166.2 L830.6,165.9 L831.6,166.4 L832.6,165.0 L833.6,163.6 L834.3,164.2 L834.6,164.1 L835.6,165.7 L836.6,166.1 L837.6,167.1 L837.8,167.4 L838.6,167.6 L839.6,167.1 L840.6,168.1 L841.6,168.8 L842.6,169.8 L843.6,169.2 L844.6,169.4 L845.6,170.3 L846.2,170.4 L846.6,171.1 L847.6,170.6 L848.6,170.3 L849.6,171.2 L850.6,171.4 L851.6,170.3 L852.6,170.7 L853.6,169.7 L854.6,170.6 L855.6,170.4 L856.6,170.8 L857.6,170.8 L858.6,171.0 L859.6,171.2 L860.6,171.6 L861.6,171.5 L862.6,171.1 L863.0,170.7 L863.6,172.3 L864.6,172.4 L865.6,171.3 L866.6,171.9 L867.6,170.7 L868.6,170.7 L869.6,171.5 L870.6,172.6 L871.6,171.1 L872.6,171.2 L873.6,172.7 L874.6,170.7 L875.6,172.2 L876.6,172.1 L877.6,171.8 L878.4,172.0 L878.6,173.5 L879.6,171.3 L880.6,171.9 L881.6,172.0 L882.6,171.8 L883.6,171.5 L884.6,173.3 L885.6,172.5 L886.6,171.4 L886.8,172.1 L887.6,172.7 L888.6,172.7 L889.6,171.6 L890.6,172.4 L891.6,172.7 L892.6,172.7 L893.6,172.7 L894.6,171.4 L895.6,173.6 L896.6,172.6 L897.6,173.6 L898.0,174.2 L898.6,171.7 L899.6,169.9 L900.6,170.0 L901.6,168.3 L902.2,167.4 L902.6,167.1 L903.6,168.8 L904.6,167.6 L905.6,167.1 L906.6,167.8 L907.6,167.4 L908.6,168.3 L909.6,168.0 L910.6,167.7 L911.6,168.8 L912.6,168.1 L913.6,169.0 L914.6,169.4 L914.8,168.5 L915.6,167.8 L916.6,167.6 L917.6,167.4 L918.6,166.2 L919.0,166.0 L919.6,165.9 L920.6,166.2 L921.6,166.5 L922.6,165.7 L923.6,165.9 L924.6,166.3 L925.6,166.0 L926.6,166.5 L927.6,166.8 L928.6,166.6 L928.8,166.2 L929.6,166.4 L930.6,168.3 L931.6,168.2 L932.6,167.4 L933.6,167.9 L934.4,169.8 L934.6,169.7 L935.6,169.1 L936.6,169.9 L937.6,168.6 L938.6,169.8 L939.6,170.4 L940.0,169.0 L940.6,169.7 L941.6,170.6 L942.6,170.9 L943.6,169.9 L944.6,170.5 L945.6,171.3 L946.6,170.2 L947.6,169.7 L948.6,170.5 L949.6,170.3 L950.6,171.4 L951.6,170.7 L952.6,170.2 L953.6,172.2 L954.6,170.5 L955.6,171.1 L956.6,171.3 L957.6,171.4 L958.6,171.1 L959.6,171.4 L960.6,171.0 L961.0,170.2 L961.6,171.4 L962.6,172.0 L963.6,172.7 L964.6,173.5 L965.6,173.7 L966.6,175.6 L967.6,176.4 L968.6,174.7 L969.6,176.7 L970.6,176.9 L970.8,175.9 L971.6,177.6 L972.6,176.8 L973.6,176.8 L974.6,176.5 L975.6,177.4 L976.6,177.3 L977.6,176.5 L978.6,176.6 L979.2,176.0 L979.6,176.4 L980.6,176.5 L981.6,177.6 L982.6,177.8 L983.6,179.1 L984.6,180.0 L985.6,180.4 L986.6,181.5 L987.6,183.0 L988.6,180.8 L989.6,182.7 L990.6,183.0 L991.6,183.7 L991.8,183.3 L992.6,183.4 L993.6,182.4 L994.6,181.3 L995.6,180.6 L996.6,179.5 L997.4,177.8 L997.6,180.0 L998.6,179.7 L999.6,180.0 L1000.6,181.3 L1001.6,181.3 L1002.6,181.0 L1003.6,183.5 L1004.6,182.5 L1005.6,184.0 L1006.6,184.8 L1007.6,186.1 L1008.6,186.6 L1009.6,186.6 L1010.6,186.7 L1011.4,187.4 L1011.6,188.1 L1012.6,187.5 L1013.6,185.7 L1014.6,184.0 L1015.6,184.0 L1016.6,182.2 L1017.0,181.8 L1017.6,182.0 L1018.6,182.7 L1019.6,182.8 L1020.6,183.5 L1021.6,183.9 L1022.6,183.7 L1023.6,182.2 L1024.0,182.7 L1024.6,185.8 L1025.4,188.3 L1025.6,189.4 L1026.6,187.1 L1027.6,186.0 L1028.2,186.1 L1028.6,186.4 L1029.6,186.3 L1030.6,187.3 L1031.6,187.0 L1032.6,187.8 L1033.6,189.7 L1034.6,188.8 L1035.6,190.8 L1036.6,191.3 L1037.6,192.0 L1038.0,192.3 L1038.6,192.2 L1039.6,190.6 L1040.6,191.4 L1041.6,191.7 L1042.6,192.7 L1043.6,191.6 L1044.6,191.9 L1045.6,192.2 L1046.6,193.3 L1047.6,191.7 L1048.6,191.9 L1049.6,193.1 L1050.0,191.5 L1050.6,193.0 L1051.6,192.6 L1052.6,191.9 L1053.6,192.7 L1054.6,192.4 L1055.6,193.1 L1056.6,194.1 L1057.6,195.7 L1058.6,195.7 L1059.6,196.7 L1060.5,197.2 L1060.6,197.5 L1061.6,198.3 L1062.6,196.7 L1063.6,198.4 L1064.6,197.8 L1065.4,198.3 L1065.6,198.2 L1066.6,196.8 L1067.6,194.8 L1068.6,192.7 L1069.6,191.5 L1070.6,191.1 L1071.6,190.8 L1072.6,190.8 L1073.6,191.0 L1074.6,190.4 L1075.2,190.3 L1075.6,189.3 L1076.6,189.6 L1077.6,188.1 L1078.6,189.3 L1079.6,187.9 L1080.6,188.8 L1081.6,189.4 L1082.2,187.2 L1082.6,188.2 L1083.6,187.7 L1084.6,187.2 L1085.6,187.1 L1086.4,188.0 L1086.6,188.6 L1087.6,188.2 L1088.6,187.4 L1089.6,187.9 L1090.6,188.6 L1091.6,189.8 L1092.6,189.4 L1093.6,189.7 L1094.6,190.5 L1095.6,189.9 L1096.6,190.2 L1097.6,190.4 L1098.6,189.7 L1099.0,191.2 L1099.6,191.2 L1100.6,191.5 L1101.6,190.3 L1102.6,190.5 L1103.6,191.6 L1104.6,191.3 L1105.6,192.0 L1106.6,190.7 L1107.6,191.3 L1108.6,190.8 L1109.6,191.5 L1110.2,191.0 L1110.6,191.7 L1111.6,192.4 L1112.6,192.4 L1113.6,191.2 L1114.6,193.2 L1115.6,193.2 L1115.8,192.4 L1116.6,192.2 L1117.6,192.5 L1118.6,192.5 L1119.6,191.6 L1120.6,190.6 L1121.6,191.4 L1122.6,191.1 L1122.8,192.4 L1123.6,190.2 L1124.6,192.6 L1125.6,192.2 L1126.6,191.4 L1127.6,192.3 L1128.6,191.5 L1129.6,192.1 L1130.6,191.2 L1131.6,191.7 L1132.6,191.2 L1133.6,190.9 L1134.0,191.7 L1134.6,192.1 L1135.6,193.8 L1136.6,195.3 L1137.6,195.4 L1138.6,196.5 L1139.6,197.6 L1140.6,195.6 L1141.6,195.9 L1142.4,195.1 L1142.6,195.1 L1143.6,194.4 L1144.6,193.9 L1145.6,194.9 L1146.6,195.3 L1147.6,195.9 L1148.6,195.8 L1149.6,196.0 L1150.6,195.3 L1151.6,195.8 L1152.2,195.0 L1152.6,195.7 L1153.6,196.4 L1154.6,197.9 L1155.6,196.9 L1156.6,196.5 L1157.6,198.6 L1158.6,197.8 L1159.2,198.6 L1159.6,198.4 L1160.6,197.9 L1161.6,199.1 L1162.6,198.5 L1163.6,197.7 L1164.6,198.0 L1164.8,197.6 L1165.6,197.7 L1166.6,196.5 L1167.6,195.6 L1168.6,195.0 L1169.0,194.8 L1169.6,195.4 L1170.6,194.9 L1171.6,195.6 L1172.6,196.1 L1173.6,197.4 L1174.6,196.7 L1175.6,194.6 L1176.0,196.2 L1176.6,196.4 L1177.6,197.1 L1178.6,198.1 L1179.6,197.8 L1180.6,196.3 L1181.6,198.1 L1182.6,198.2 L1183.6,198.6 L1184.4,199.4 L1184.6,198.0 L1185.6,199.8 L1186.6,198.6 L1187.6,200.1 L1188.6,200.7 L1189.6,202.3 L1190.0,200.7 L1190.6,199.1 L1191.6,198.9 L1192.6,196.4 L1192.8,197.4 L1193.6,195.6 L1194.6,194.9 L1195.6,195.6 L1196.6,194.3 L1197.6,194.3 L1198.6,192.3 L1199.6,193.5 L1200.6,191.6 L1201.2,192.1 L1201.6,191.1 L1202.6,190.9 L1203.6,191.8 L1204.6,192.3 L1205.6,193.3 L1206.6,192.7 L1207.6,193.1 L1208.6,193.2 L1209.6,194.9 L1210.6,192.3 L1211.6,193.3 L1212.6,192.2 L1213.6,192.2 L1214.6,191.5 L1215.6,192.2 L1216.6,190.5 L1217.6,191.1 L1218.6,192.3 L1219.6,192.3 L1220.6,194.0 L1220.8,194.3 L1221.6,193.1 L1222.6,193.9 L1223.6,193.0 L1224.6,193.2 L1225.6,193.1 L1226.6,194.1 L1227.6,192.8 L1228.6,192.2 L1229.6,192.0 L1230.6,193.2 L1231.6,191.3 L1232.0,192.0 L1232.6,192.0 L1233.6,190.5 L1234.6,191.5 L1235.6,192.2 L1236.6,191.5 L1237.6,190.6 L1238.6,191.4 L1239.6,191.1 L1240.4,191.8 L1240.6,190.2 L1241.6,190.4 L1242.6,190.7 L1243.6,190.7 L1244.6,190.9 L1245.6,190.8 L1246.0,190.5 L1246.6,190.2 L1247.6,191.4 L1248.6,191.4 L1249.6,192.1 L1250.2,192.7 L1250.6,193.5 L1251.6,194.1 L1252.6,193.4 L1253.6,194.6 L1254.6,195.3 L1255.6,195.2 L1256.6,194.7 L1257.6,194.8 L1258.6,197.0 L1259.6,196.0 L1260.6,194.7 L1261.6,192.9 L1262.6,193.4 L1262.8,193.0 L1263.6,192.8 L1264.6,193.4 L1265.6,193.0 L1266.6,195.3 L1267.0,194.1 L1267.6,195.5 L1268.6,195.6 L1269.6,195.3 L1270.6,196.2 L1271.6,195.1 L1272.6,195.7 L1273.6,195.9 L1274.6,195.6 L1275.6,195.3 L1276.6,196.3 L1277.6,195.9 L1278.6,195.5 L1279.6,195.6 L1280.6,195.8 L1281.0,197.2 L1281.6,195.8 L1282.6,195.4 L1283.6,194.8 L1284.6,194.6 L1285.6,194.1 L1286.6,195.2 L1287.6,195.0 L1288.6,194.2 L1289.6,193.8 L1290.6,194.4 L1291.6,194.1 L1292.6,193.5 L1293.6,194.4 L1294.6,194.2 L1295.6,193.9 L1296.6,194.3 L1297.6,193.3 L1298.6,194.4 L1299.6,192.8 L1300.0,193.7 L1300.6,193.7 L1301.6,193.1 L1302.6,193.4 L1303.6,192.4 L1304.6,192.2 L1305.6,192.9 L1306.6,192.6 L1307.0,193.3 L1307.6,192.9 L1308.6,193.2 L1309.6,192.8 L1310.6,192.7 L1311.6,192.5 L1312.6,192.1 L1313.6,191.9 L1314.6,193.3 L1315.6,190.8 L1316.6,191.7 L1317.6,192.3 L1318.2,191.8 L1318.6,192.4 L1319.6,191.8 L1320.6,190.6 L1321.6,191.0 L1322.6,190.2 L1323.6,191.6 L1324.6,191.7 L1325.6,190.5 L1326.6,191.0 L1327.6,190.3 L1328.0,189.6 L1328.6,190.0 L1329.6,189.1 L1330.6,189.4 L1331.6,189.6 L1332.6,189.6 L1333.6,189.7 L1334.6,188.4 L1335.6,188.4 L1336.6,188.3 L1337.6,188.1 L1337.8,186.0 L1338.6,186.9 L1339.6,187.5 L1340.6,186.0 L1341.6,186.5 L1342.6,186.5 L1343.6,184.6 L1344.6,185.2 L1345.6,185.2 L1346.6,184.7 L1347.6,183.4 L1348.6,184.2 L1349.0,183.5 L1349.6,184.1 L1350.6,183.4 L1351.6,182.4 L1352.6,182.4 L1353.6,181.4 L1354.6,181.0 L1355.6,180.0 L1356.6,180.4 L1357.6,180.6 L1358.6,179.7 L1359.6,179.2 L1360.2,178.6 L1360.6,178.6 L1361.6,179.2 L1362.6,177.8 L1363.6,179.8 L1364.6,178.4 L1365.6,179.6 L1365.8,179.0 L1366.6,177.7 L1367.6,178.0 L1368.6,177.3 L1369.6,177.0 L1370.6,176.8 L1371.6,175.6 L1372.6,175.1 L1372.8,175.2 L1373.6,174.5 L1374.6,175.1 L1375.6,175.2 L1376.6,175.1 L1377.6,174.9 L1378.6,174.5 L1379.6,175.1 L1380.6,173.2 L1381.6,174.1 L1382.6,174.0 L1383.6,174.6 L1384.0,174.4 L1384.6,174.6 L1385.6,174.2 L1386.6,174.9 L1387.6,173.9 L1388.6,174.6 L1389.6,173.4 L1390.6,176.5 L1391.6,177.1 L1392.6,176.6 L1393.6,177.2 L1393.8,176.6 L1394.6,176.7 L1395.6,177.4 L1396.6,176.9 L1397.6,175.8 L1398.6,176.1 L1399.6,175.8 L1400.6,176.1 L1401.6,176.0 L1402.6,175.2 L1403.6,175.1 L1404.6,175.2 L1405.6,174.1 L1406.6,175.6 L1407.6,175.6 L1408.6,176.3 L1409.6,174.9 L1410.6,176.6 L1411.6,176.0 L1412.0,176.6 L1412.6,177.0 L1413.6,175.1 L1414.6,174.9 L1415.6,176.0 L1416.6,174.4 L1417.6,174.2 L1418.6,174.9 L1419.6,174.1 L1420.4,174.5 L1420.6,174.2 L1421.6,173.8 L1422.6,174.2 L1423.6,174.8 L1424.6,173.3 L1425.6,174.0 L1426.6,173.7 L1427.6,172.9 L1428.6,172.9 L1429.6,171.9 L1430.6,171.9 L1431.6,172.3 L1432.6,172.0 L1433.0,172.7 L1433.6,171.0 L1434.6,171.3 L1435.6,170.8 L1436.6,170.8 L1437.6,171.3 L1438.6,169.6 L1439.6,170.6 L1440.6,169.4 L1441.6,169.3 L1442.6,169.8 L1443.6,168.8 L1444.6,169.1 L1445.6,168.5 L1446.6,168.0 L1447.0,167.8 L1447.6,166.5 L1448.6,166.2 L1449.6,165.9 L1450.6,165.1 L1451.6,163.3 L1452.6,163.9 L1453.6,162.8 L1454.0,161.3 L1454.6,160.6 L1455.6,160.0 L1456.6,157.2 L1457.6,156.3 L1458.6,155.2 L1459.6,153.7 L1460.6,152.2 L1461.6,151.0 L1462.6,148.8 L1463.6,147.4 L1463.8,148.7 L1464.6,146.8 L1465.6,147.7 L1466.6,148.3 L1467.6,148.2 L1468.6,149.6 L1469.6,149.2 L1470.6,149.9 L1470.8,148.0 L1471.6,149.1 L1472.6,147.7 L1473.6,145.2 L1474.6,145.0 L1475.6,143.0 L1476.6,142.0 L1477.6,141.1 L1477.8,139.8 L1478.6,138.2 L1479.6,137.6 L1480.0,136.4 L1480.6,136.1 L1481.6,135.1 L1482.6,134.1 L1483.6,134.2 L1484.6,133.0 L1485.6,131.0 L1486.6,131.2 L1487.6,128.5 L1488.4,128.4 L1488.6,128.5 L1489.6,128.5 L1490.6,127.4 L1491.6,126.4 L1492.6,126.0 L1493.6,124.9 L1494.6,124.4 L1495.6,122.3 L1496.6,120.9 L1496.8,121.5 L1497.6,121.6 L1498.6,120.3 L1499.6,119.8 L1500.6,118.9 L1501.6,117.9 L1502.6,117.2 L1503.6,115.4 L1504.6,115.6 L1505.6,113.5 L1506.6,113.1 L1507.6,111.5 L1508.0,112.3 L1508.6,110.5 L1509.6,111.4 L1510.6,108.9 L1511.6,109.0 L1512.6,107.9 L1513.6,106.6 L1514.6,107.0 L1515.6,105.1 L1516.4,105.5 L1516.6,104.1 L1517.6,104.8 L1518.6,104.5 L1519.6,106.5 L1520.6,107.2 L1521.6,106.4 L1522.6,105.8 L1523.6,104.9 L1524.6,106.5 L1525.6,105.1 L1526.6,103.1 L1527.6,103.6 L1528.6,101.9 L1529.0,104.2 L1529.6,104.1 L1530.6,103.3 L1531.6,101.8 L1532.6,101.0 L1533.6,100.0 L1534.6,100.6 L1535.6,99.3 L1536.6,99.0 L1537.6,98.3 L1538.6,97.9 L1539.6,98.1 L1540.2,98.3 L1540.6,97.3 L1541.6,97.0 L1542.6,96.2 L1543.6,95.9 L1544.6,95.8 L1545.6,96.8 L1545.8,96.4 L1546.6,98.0 L1547.6,99.1 L1548.6,100.0 L1549.6,100.9 L1550.0,101.9 L1550.6,101.3 L1551.6,103.2 L1552.6,102.1 L1553.6,101.6 L1554.6,103.0 L1555.6,101.5 L1556.6,102.0 L1557.6,101.4 L1558.4,101.7 L1558.6,101.1 L1559.6,100.9 L1560.6,100.7 L1561.6,98.3 L1562.6,97.0 L1563.6,98.4 L1564.0,97.4 L1564.6,97.6 L1565.6,96.7 L1566.6,97.5 L1567.6,97.4 L1568.6,95.3 L1569.6,96.2 L1570.6,95.1 L1571.6,94.2 L1571.7,95.0 L1572.6,96.3 L1573.6,96.0 L1574.6,96.9 L1575.6,99.3 L1576.6,99.4 L1577.6,99.5 L1578.6,98.5 L1579.6,98.8 L1580.6,99.1 L1581.6,99.1 L1582.6,99.0 L1583.6,99.8 L1584.6,98.9 L1585.6,97.8 L1586.4,98.1 L1586.6,98.5 L1587.6,98.9 L1588.6,97.3 L1589.6,97.0 L1590.6,96.8 L1591.6,96.0 L1592.0,95.7 L1592.6,95.9 L1593.6,96.4 L1594.6,95.7 L1595.6,95.0 L1596.6,95.1 L1597.6,93.8 L1598.6,94.9 L1599.6,94.4 L1600.6,93.8 L1601.6,92.4 L1602.6,94.3 L1603.6,91.0 L1604.6,91.8 L1605.6,91.6 L1606.0,92.4 L1606.6,91.0 L1607.6,91.9 L1608.6,91.5 L1609.6,91.2 L1610.6,91.7 L1611.6,91.9 L1612.6,91.1 L1613.6,90.5 L1614.6,89.1 L1615.6,91.2 L1616.6,89.9 L1617.6,88.8 L1618.6,89.9 L1619.6,90.5 L1620.0,89.4 L1620.6,88.6 L1621.6,90.4 L1622.6,89.1 L1623.6,88.6 L1624.6,88.8 L1625.6,86.5 L1626.6,88.8 L1627.6,89.7 L1628.6,92.2 L1629.6,91.5 L1629.8,91.7 L1630.6,91.5 L1631.6,92.3 L1632.6,93.1 L1633.6,93.8 L1634.6,94.0 L1635.4,95.7 L1635.6,94.7 L1636.6,94.4 L1637.6,94.4 L1638.6,93.6 L1639.6,92.5 L1640.6,91.6 L1641.0,92.6 L1641.6,91.7 L1642.6,92.9 L1643.6,91.4 L1644.6,90.4 L1645.6,91.6 L1646.6,92.1 L1647.6,91.1 L1648.6,91.2 L1649.4,91.0 L1649.6,92.3 L1650.6,93.3 L1650.8,93.4 L1651.6,92.6 L1652.6,91.5 L1653.6,92.8 L1654.6,92.1 L1655.6,90.3 L1656.6,90.7 L1657.6,90.0 L1658.6,89.0 L1659.6,88.5 L1660.6,88.6 L1661.6,86.9 L1662.0,87.1 L1662.6,86.8 L1663.6,85.8 L1664.6,84.7 L1664.8,84.8 L1665.6,85.0 L1666.6,84.1 L1667.6,84.7 L1668.6,84.3 L1669.6,85.6 L1670.6,83.8 L1671.6,84.5 L1672.6,85.1 L1673.6,84.5 L1674.6,84.4 L1675.6,84.3 L1676.0,84.8 L1676.6,83.9 L1677.6,84.4 L1678.6,84.3 L1679.6,83.3 L1680.6,84.2 L1681.6,83.7 L1682.6,84.0 L1683.6,84.2 L1684.6,83.8 L1685.6,82.7 L1686.6,83.5 L1687.2,82.3 L1687.6,82.9 L1688.6,84.5 L1689.6,83.7 L1690.6,84.8 L1691.6,83.9 L1692.6,84.2 L1693.6,83.7 L1694.6,85.1 L1694.8,84.4 L1695.6,85.4 L1696.6,86.0 L1697.6,86.6 L1698.6,87.1 L1699.6,87.5 L1700.6,86.9 L1701.6,85.9 L1702.6,84.4 L1703.6,85.4 L1704.4,85.8 L1704.6,85.2 L1705.6,85.6 L1706.6,84.1 L1707.6,82.9 L1708.6,82.6 L1709.6,83.3 L1710.6,82.7 L1711.6,82.1 L1712.6,82.8 L1713.6,82.0 L1714.6,83.0 L1715.2,82.6 L1715.6,83.7 L1716.6,86.3 L1717.0,86.3 L1717.6,89.0 L1718.6,92.0 L1719.6,93.7 L1720.6,98.6 L1721.6,97.1 L1722.4,98.3 L1722.6,97.1 L1723.6,86.5 L1724.6,79.8 L1724.8,78.1 L1725.6,83.1 L1726.6,90.6 L1727.2,94.9 L1727.6,95.7 L1728.6,99.0 L1729.6,100.6" stroke="#ff7f0e" stroke-width="2.9"/>
<path d="M319.6,261.2 L320.6,260.3 L321.6,260.5 L322.6,260.1 L323.6,259.8 L324.6,259.6 L325.6,259.1 L326.6,259.1 L327.6,258.7 L328.6,259.1 L329.6,258.4 L330.6,258.1 L331.6,257.8 L332.6,257.5 L333.6,257.2 L334.6,257.0 L335.0,257.1 L335.6,256.9 L336.6,257.1 L337.6,256.8 L338.6,256.8 L339.6,257.0 L340.6,256.8 L341.6,256.6 L342.6,256.6 L343.6,256.7 L344.6,256.8 L345.6,256.5 L346.6,256.4 L347.6,256.6 L348.6,256.2 L349.6,256.3 L350.6,256.4 L351.6,256.3 L352.6,256.2 L353.6,256.2 L354.6,255.6 L355.6,256.2 L356.0,255.9 L356.6,255.7 L357.6,255.9 L358.6,255.9 L359.6,255.7 L360.6,255.5 L361.6,255.6 L362.6,255.6 L363.6,255.7 L364.6,255.5 L365.6,255.4 L366.6,255.5 L367.6,255.2 L368.6,255.0 L369.6,255.2 L370.6,255.1 L371.6,254.9 L372.6,254.8 L372.8,254.9 L373.6,254.3 L374.6,254.6 L375.6,254.3 L376.6,253.7 L377.6,253.7 L378.6,253.3 L379.6,253.3 L380.6,252.6 L381.6,252.6 L382.6,252.6 L383.6,252.4 L384.6,251.6 L385.6,251.6 L386.6,251.5 L386.8,251.3 L387.6,251.5 L388.6,251.0 L389.6,251.1 L390.6,250.8 L391.6,251.1 L392.6,250.8 L393.6,250.6 L394.6,250.3 L395.6,250.7 L396.6,250.4 L397.6,250.3 L398.6,250.3 L399.6,250.0 L400.6,249.8 L401.6,249.6 L402.6,249.5 L403.6,249.7 L404.6,249.2 L405.6,249.2 L406.6,249.2 L407.6,249.1 L408.6,249.1 L409.6,248.7 L410.6,248.5 L411.6,248.6 L412.0,248.8 L412.6,248.4 L413.6,247.9 L414.6,247.4 L415.6,247.0 L416.6,246.5 L417.6,246.2 L418.6,245.8 L419.6,245.7 L420.6,245.5 L421.6,245.4 L422.6,245.1 L423.6,245.3 L424.6,244.9 L425.6,244.7 L426.6,244.0 L427.6,244.0 L428.6,243.8 L429.6,243.8 L430.6,243.1 L431.6,243.5 L432.6,243.2 L433.6,242.7 L434.6,242.5 L435.6,242.4 L436.6,242.3 L437.6,242.2 L438.6,242.2 L439.6,241.7 L440.0,241.7 L440.6,241.3 L441.6,241.0 L442.6,240.3 L443.6,239.9 L444.6,239.0 L445.6,238.6 L446.6,237.9 L447.6,237.8 L448.4,237.2 L448.6,237.0 L449.6,236.9 L450.6,236.9 L451.6,236.7 L452.6,236.5 L453.6,236.6 L454.6,236.8 L455.6,236.3 L456.6,236.1 L457.6,235.9 L458.6,235.8 L459.6,236.0 L460.6,235.9 L461.6,235.7 L462.6,235.6 L463.6,235.5 L464.6,235.4 L465.2,235.1 L465.6,235.1 L466.6,234.7 L467.6,234.1 L468.6,233.7 L469.6,233.2 L470.6,232.8 L471.6,232.5 L472.6,231.9 L473.6,231.5 L474.6,231.7 L475.6,231.7 L476.6,231.9 L477.6,231.4 L478.6,231.8 L479.6,231.7 L480.6,231.8 L481.6,232.5 L482.6,233.1 L483.6,233.7 L484.6,234.1 L485.6,234.9 L486.2,235.0 L486.6,235.0 L487.6,235.3 L488.6,235.2 L489.6,235.7 L490.6,235.6 L491.6,235.9 L492.6,235.6 L493.6,235.7 L494.6,235.9 L495.6,236.1 L496.6,236.0 L497.6,236.2 L498.6,236.3 L499.6,236.6 L500.6,236.4 L501.6,236.7 L502.6,236.6 L503.0,236.6 L503.6,236.8 L504.6,237.0 L505.6,237.5 L506.6,238.0 L507.6,238.2 L508.6,238.5 L509.6,239.0 L510.6,239.1 L511.6,239.4 L512.6,239.7 L513.6,239.8 L514.2,240.3 L514.6,240.0 L515.6,240.4 L516.6,240.3 L517.6,240.5 L518.6,240.4 L519.6,240.3 L520.6,240.5 L521.6,240.5 L522.6,240.6 L523.6,240.6 L524.6,240.7 L525.6,240.7 L526.6,240.6 L527.6,240.8 L528.6,240.5 L529.6,240.9 L530.6,240.4 L531.6,240.3 L532.6,240.0 L533.6,239.1 L534.6,239.1 L535.6,238.7 L536.6,238.2 L537.6,238.0 L538.0,237.7 L538.6,237.5 L539.6,237.6 L540.6,237.5 L541.6,237.5 L542.6,237.2 L543.6,237.4 L544.6,237.3 L545.6,236.9 L546.6,236.9 L547.6,236.9 L548.6,236.7 L549.6,237.0 L550.0,236.7 L550.6,236.6 L551.6,236.6 L552.6,236.7 L553.6,237.1 L554.6,236.7 L555.6,236.8 L556.6,236.8 L557.6,236.8 L558.6,237.1 L559.6,236.7 L559.8,236.9 L560.6,237.1 L561.6,237.5 L562.6,237.6 L563.6,238.4 L564.6,238.5 L565.6,238.9 L566.6,239.1 L567.6,239.5 L568.6,240.1 L569.6,240.5 L570.6,240.8 L571.6,241.3 L572.6,241.6 L573.6,241.8 L574.6,242.3 L575.2,242.5 L575.6,242.5 L576.6,242.8 L577.6,243.1 L578.6,243.2 L579.6,243.3 L580.6,243.7 L581.6,244.1 L582.6,244.0 L583.6,244.2 L584.6,244.4 L585.0,244.7 L585.6,244.4 L586.6,245.1 L587.6,245.5 L588.6,245.6 L589.6,246.3 L590.6,246.4 L591.6,246.6 L592.6,247.1 L593.6,247.1 L594.6,247.6 L595.6,248.3 L596.6,248.2 L597.6,249.0 L598.6,248.8 L599.6,249.0 L600.6,249.0 L601.6,248.7 L602.6,249.0 L603.6,249.2 L604.6,249.1 L605.6,249.2 L606.6,249.5 L607.6,249.5 L608.6,249.4 L609.6,249.6 L610.6,249.9 L611.6,249.8 L612.6,250.1 L613.6,250.3 L614.6,250.2 L615.6,250.1 L616.6,250.1 L617.6,250.4 L618.6,250.6 L619.6,250.6 L620.6,250.8 L621.6,250.7 L622.6,250.9 L623.6,250.9 L624.6,251.0 L625.6,250.9 L626.6,251.1 L627.6,251.6 L628.6,251.8 L629.6,252.1 L630.6,252.6 L631.6,252.8 L632.6,253.5 L633.6,253.5 L634.6,253.5 L635.6,254.0 L636.6,254.2 L637.6,254.3 L638.6,254.9 L639.6,254.9 L640.6,254.6 L641.6,255.3 L642.6,255.2 L643.6,255.6 L644.6,255.4 L645.6,255.4 L646.6,255.9 L647.6,255.6 L648.6,255.9 L649.6,256.2 L650.6,256.1 L651.6,256.1 L652.6,256.3 L653.6,256.5 L654.6,256.3 L655.6,256.6 L656.6,256.7 L657.6,257.1 L658.6,256.8 L659.6,256.8 L660.6,257.1 L661.6,257.0 L662.6,257.2 L663.6,257.3 L664.6,257.6 L665.6,257.4 L666.6,257.6 L667.6,257.3 L668.6,257.6 L669.0,258.0 L669.6,257.8 L670.6,258.1 L671.6,258.3 L672.6,258.8 L673.6,259.0 L674.6,259.0 L675.6,259.6 L676.6,259.8 L677.6,260.1 L678.6,260.1 L679.6,260.7 L680.6,260.8 L681.6,261.0 L682.6,261.2 L683.6,261.5 L684.4,261.8 L684.6,261.7 L685.6,262.0 L686.6,262.0 L687.6,262.2 L688.6,262.2 L689.6,262.2 L690.6,262.0 L691.6,262.4 L692.6,262.6 L693.6,262.6 L694.6,262.7 L695.6,262.6 L696.6,262.7 L697.6,262.7 L698.6,263.2 L699.6,263.1 L700.6,263.1 L701.6,263.1 L702.6,263.3 L703.6,263.6 L704.6,263.6 L705.6,263.5 L706.6,263.9 L707.6,264.0 L708.6,264.0 L709.6,264.1 L710.6,264.2 L711.0,264.2 L711.6,264.3 L712.6,264.2 L713.6,264.6 L714.6,264.6 L715.6,265.0 L716.6,264.5 L717.6,265.0 L718.6,265.2 L719.6,265.1 L720.6,265.4 L721.6,265.5 L722.6,265.6 L723.6,265.6 L724.6,265.8 L725.6,266.1 L726.6,266.2 L727.6,266.2 L728.6,266.3 L729.6,266.5 L730.6,266.7 L731.6,266.5 L732.6,266.6 L733.6,266.9 L734.6,266.9 L735.6,267.1 L736.6,267.3 L737.6,267.5 L738.6,267.4 L739.0,267.7 L739.6,267.4 L740.6,267.8 L741.6,267.5 L742.6,267.6 L743.6,268.0 L744.6,267.9 L745.6,267.9 L746.6,268.0 L747.6,268.2 L748.6,268.2 L749.6,268.2 L750.6,268.5 L751.6,268.2 L752.6,268.3 L753.6,268.4 L754.6,268.7 L755.6,268.7 L756.6,268.8 L757.6,268.7 L758.6,268.8 L759.6,269.0 L760.6,268.8 L761.6,269.1 L762.6,269.1 L763.6,269.0 L764.6,269.1 L765.6,269.2 L766.6,269.5 L767.6,269.7 L768.6,269.4 L769.6,269.4 L770.6,269.2 L771.6,269.6 L772.6,269.6 L773.6,269.5 L774.0,269.8 L774.6,269.5 L775.6,269.8 L776.6,269.9 L777.6,269.7 L778.6,270.1 L779.6,270.2 L780.6,269.9 L781.6,269.9 L782.6,270.3 L783.6,270.3 L784.6,270.1 L785.6,270.3 L786.6,270.4 L787.6,270.5 L788.6,270.7 L789.6,270.7 L790.6,271.0 L790.8,270.9 L791.6,270.9 L792.6,271.2 L793.6,271.4 L794.6,271.5 L795.6,271.4 L796.6,271.9 L797.6,272.0 L798.6,272.4 L799.6,272.3 L800.0,272.5 L800.6,272.5 L801.6,272.7 L802.6,272.5 L803.6,272.4 L804.6,272.6 L805.6,272.5 L806.6,272.6 L807.6,272.6 L808.6,272.6 L809.6,272.9 L810.6,272.6 L811.6,272.7 L812.6,272.7 L813.6,272.8 L814.6,272.6 L815.6,272.7 L816.6,272.8 L817.6,272.9 L818.6,272.8 L819.6,272.8 L820.6,272.8 L821.6,273.0 L822.6,273.2 L823.6,273.0 L824.6,273.0 L825.6,273.1 L826.6,272.9 L827.6,273.0 L828.6,273.0 L829.6,273.1 L830.6,273.1 L831.6,273.0 L832.6,273.3 L833.6,273.5 L834.6,273.2 L835.6,273.3 L836.6,273.3 L837.6,273.4 L837.8,273.1 L838.6,273.7 L839.6,273.6 L840.6,274.0 L841.6,274.0 L842.6,274.1 L843.6,274.3 L844.6,274.7 L845.6,274.6 L846.6,274.9 L847.6,275.0 L848.6,274.9 L849.6,275.4 L850.6,275.3 L851.6,275.3 L852.6,275.5 L853.6,275.2 L854.6,275.4 L855.6,275.7 L856.6,275.6 L857.6,275.2 L858.6,275.0 L859.6,275.4 L860.6,275.8 L861.6,275.6 L862.6,275.7 L863.6,275.8 L864.6,275.6 L865.6,275.8 L866.6,276.0 L867.6,276.0 L868.6,276.0 L869.6,275.9 L870.6,276.1 L871.6,276.0 L872.6,276.3 L872.8,276.5 L873.6,276.0 L874.6,275.7 L875.6,276.0 L876.6,276.1 L877.6,276.2 L878.6,276.1 L879.6,275.8 L880.6,275.8 L881.6,276.1 L882.6,275.7 L883.6,276.1 L884.6,275.8 L885.6,276.0 L886.6,275.9 L887.6,275.9 L888.6,275.9 L889.6,275.6 L890.6,275.8 L891.6,275.7 L892.6,275.8 L893.6,275.9 L894.6,275.6 L895.6,275.5 L896.6,275.5 L897.6,275.6 L898.6,275.7 L899.6,275.5 L900.6,275.7 L901.6,275.6 L902.6,275.5 L903.6,275.3 L904.6,275.6 L905.6,275.6 L906.6,275.3 L907.6,275.7 L908.6,275.8 L909.6,275.6 L910.6,275.7 L911.6,276.0 L912.6,275.8 L913.6,275.5 L914.6,275.7 L915.6,275.6 L916.6,275.7 L917.6,275.3 L918.6,275.8 L919.6,275.6 L920.6,275.8 L921.6,275.7 L922.6,275.9 L923.6,275.7 L924.6,275.7 L925.6,275.9 L926.6,276.0 L927.6,275.8 L928.6,276.1 L929.6,275.9 L930.6,275.8 L931.6,276.1 L932.6,275.8 L933.6,276.1 L934.6,275.9 L935.6,276.0 L936.6,275.8 L937.6,275.9 L938.6,276.2 L939.6,276.0 L940.6,276.0 L941.6,276.0 L942.6,276.1 L943.6,275.9 L944.6,275.9 L945.6,276.1 L946.6,276.1 L947.6,276.2 L948.6,276.4 L949.6,276.5 L950.6,276.6 L951.6,276.9 L952.6,277.0 L953.6,277.1 L954.6,277.0 L955.6,277.0 L956.6,277.0 L957.6,277.2 L958.6,277.1 L959.6,277.4 L960.6,278.0 L961.6,278.6 L962.6,278.9 L963.6,279.0 L964.6,279.6 L965.6,279.8 L966.6,280.5 L967.6,280.8 L968.6,281.3 L969.6,282.0 L970.6,282.2 L970.8,282.4 L971.6,282.1 L972.6,282.1 L973.6,282.4 L974.6,282.5 L975.6,282.2 L976.6,282.3 L977.6,282.1 L978.6,282.3 L979.6,282.5 L980.6,282.4 L981.6,282.3 L982.6,282.2 L983.6,282.5 L984.6,282.6 L984.8,282.6 L985.6,282.9 L986.6,283.0 L987.6,283.9 L988.6,284.0 L989.6,284.4 L990.6,284.9 L991.6,284.9 L992.6,285.6 L993.6,286.0 L994.6,286.5 L995.6,287.0 L996.0,287.1 L996.6,286.8 L997.6,287.2 L998.6,287.5 L999.6,287.7 L1000.6,287.7 L1001.6,287.8 L1002.6,288.3 L1003.6,288.5 L1004.6,288.6 L1005.6,288.5 L1006.6,289.2 L1007.6,288.7 L1008.6,289.3 L1009.6,289.8 L1010.6,289.7 L1011.6,289.9 L1012.6,289.9 L1012.8,290.3 L1013.6,290.1 L1014.6,290.5 L1015.6,290.7 L1016.6,290.8 L1017.6,291.3 L1018.6,291.1 L1019.6,291.5 L1020.6,291.8 L1021.6,291.9 L1022.6,292.3 L1023.6,292.6 L1024.6,292.6 L1025.6,292.8 L1026.6,293.0 L1027.6,293.2 L1028.6,293.6 L1029.6,293.7 L1030.6,294.0 L1031.6,294.1 L1032.4,294.2 L1032.6,294.4 L1033.6,294.2 L1034.6,294.5 L1035.6,294.7 L1036.6,294.4 L1037.6,294.6 L1038.6,294.5 L1039.6,294.7 L1040.6,294.6 L1041.6,294.9 L1042.6,294.9 L1043.6,295.1 L1044.6,295.4 L1045.6,295.2 L1046.6,295.4 L1047.6,295.3 L1048.6,295.4 L1049.6,295.3 L1050.0,295.2 L1050.6,295.6 L1051.6,296.1 L1052.6,296.1 L1053.6,296.2 L1054.6,296.7 L1055.6,296.6 L1056.6,296.8 L1057.6,296.9 L1058.6,297.2 L1059.6,297.5 L1060.6,298.0 L1061.6,297.9 L1062.6,298.0 L1063.6,298.3 L1064.6,298.6 L1065.6,298.5 L1066.6,299.0 L1067.5,299.3 L1067.6,299.2 L1068.6,299.1 L1069.6,298.6 L1070.6,298.4 L1071.6,298.7 L1072.6,298.5 L1073.6,297.9 L1074.6,298.0 L1075.6,297.8 L1076.6,297.7 L1077.6,297.5 L1078.6,297.2 L1079.6,297.1 L1080.6,296.9 L1081.6,296.7 L1082.6,296.3 L1083.6,296.0 L1084.6,296.4 L1085.6,296.4 L1086.6,296.8 L1087.6,297.0 L1088.6,297.1 L1089.6,297.1 L1090.6,297.3 L1091.6,297.6 L1092.6,297.5 L1093.6,297.9 L1094.6,298.0 L1095.6,298.0 L1096.6,298.3 L1097.6,298.1 L1098.6,298.5 L1099.6,298.4 L1100.6,298.5 L1101.6,298.6 L1102.6,299.0 L1103.6,298.9 L1104.6,299.2 L1105.6,299.1 L1106.6,299.6 L1107.6,299.9 L1108.6,299.8 L1109.6,300.1 L1110.6,300.1 L1111.6,300.4 L1112.6,300.3 L1113.0,300.1 L1113.6,300.6 L1114.6,300.4 L1115.6,300.3 L1116.6,300.4 L1117.6,300.3 L1118.6,300.6 L1119.6,300.5 L1120.6,301.0 L1121.6,300.9 L1122.6,300.6 L1123.6,300.7 L1124.6,300.9 L1125.6,300.7 L1126.6,301.1 L1127.6,301.1 L1128.6,301.1 L1129.6,301.2 L1130.6,301.4 L1131.6,301.6 L1132.6,301.6 L1133.6,301.5 L1134.6,301.7 L1135.6,301.5 L1136.6,301.7 L1137.6,301.6 L1138.6,301.9 L1139.6,301.6 L1140.6,301.7 L1141.6,301.9 L1142.6,302.1 L1143.6,301.8 L1144.6,302.0 L1145.6,302.2 L1146.6,302.3 L1147.6,302.2 L1148.0,302.3 L1148.6,302.3 L1149.6,302.6 L1150.6,302.5 L1151.6,302.2 L1152.6,302.1 L1153.6,302.5 L1154.6,302.7 L1155.6,302.6 L1156.6,302.7 L1157.6,302.6 L1158.6,302.5 L1159.6,302.8 L1160.6,302.8 L1161.6,302.9 L1162.6,302.6 L1163.6,302.9 L1164.6,302.8 L1165.6,303.0 L1166.6,302.9 L1167.6,302.9 L1168.6,302.9 L1169.6,303.3 L1170.6,303.1 L1171.6,303.0 L1172.6,303.0 L1173.6,303.1 L1174.6,303.5 L1175.6,303.0 L1176.6,303.2 L1177.6,303.5 L1178.6,303.6 L1178.8,303.4 L1179.6,303.7 L1180.6,303.8 L1181.6,304.0 L1182.6,304.0 L1183.6,304.4 L1184.6,304.4 L1185.6,304.8 L1186.6,304.5 L1187.6,305.0 L1188.6,304.8 L1189.6,305.0 L1190.6,305.4 L1191.4,305.4 L1191.6,305.5 L1192.6,305.2 L1193.6,305.5 L1194.6,305.2 L1195.6,304.9 L1196.6,305.0 L1197.6,304.9 L1198.6,304.6 L1199.6,304.7 L1200.6,304.8 L1201.6,304.5 L1202.6,304.3 L1203.6,304.1 L1204.0,304.2 L1204.6,303.9 L1205.6,303.7 L1206.6,304.1 L1207.6,304.1 L1208.6,304.6 L1209.6,304.4 L1210.6,304.3 L1211.6,304.3 L1212.6,304.6 L1213.6,304.5 L1214.6,304.6 L1215.6,304.7 L1216.6,304.8 L1217.6,304.8 L1218.0,304.8 L1218.6,305.0 L1219.6,304.9 L1220.6,304.3 L1221.6,304.9 L1222.6,304.4 L1223.6,304.5 L1224.6,304.1 L1225.6,304.2 L1226.6,304.1 L1227.6,304.0 L1228.6,304.0 L1229.6,303.9 L1230.6,303.6 L1231.6,303.8 L1232.6,304.0 L1233.6,304.1 L1234.6,304.0 L1235.6,304.1 L1236.6,304.2 L1237.6,304.2 L1238.6,304.2 L1239.6,304.8 L1240.6,304.6 L1241.6,304.7 L1242.6,304.7 L1243.6,305.1 L1244.6,305.2 L1245.6,305.0 L1246.0,305.2 L1246.6,305.1 L1247.6,305.7 L1248.6,305.8 L1249.6,305.7 L1250.6,306.2 L1251.6,306.3 L1252.6,306.5 L1253.6,306.7 L1254.6,306.7 L1255.6,306.9 L1256.6,307.3 L1257.6,307.4 L1258.6,307.5 L1259.6,307.9 L1260.6,307.6 L1261.6,307.5 L1262.6,307.5 L1263.6,307.7 L1264.6,307.7 L1265.6,307.6 L1266.6,307.7 L1267.6,307.3 L1268.6,307.5 L1269.6,307.4 L1270.6,307.5 L1271.6,307.6 L1272.6,307.2 L1273.6,307.9 L1274.6,307.3 L1275.6,307.5 L1276.6,307.5 L1277.6,307.5 L1278.6,307.4 L1279.6,307.0 L1280.6,307.2 L1281.6,307.5 L1282.6,307.2 L1283.6,307.2 L1284.6,307.0 L1285.6,307.5 L1286.6,307.4 L1287.6,307.2 L1288.0,307.3 L1288.6,307.2 L1289.6,307.0 L1290.6,307.0 L1291.6,307.0 L1292.6,307.0 L1293.6,307.0 L1294.6,306.8 L1295.6,306.6 L1296.6,306.6 L1297.6,306.4 L1298.6,306.2 L1299.6,306.5 L1300.0,306.2 L1300.6,306.3 L1301.6,306.4 L1302.6,306.1 L1303.6,306.3 L1304.6,306.2 L1305.6,306.1 L1306.6,306.2 L1307.6,306.0 L1308.6,305.7 L1309.6,306.0 L1310.6,305.9 L1311.2,306.1 L1311.6,306.0 L1312.6,305.6 L1313.6,305.5 L1314.6,305.5 L1315.6,305.2 L1316.6,304.9 L1317.6,304.7 L1318.6,304.4 L1319.6,304.2 L1320.6,304.1 L1321.0,303.9 L1321.6,303.9 L1322.6,303.6 L1323.6,303.4 L1324.6,303.2 L1325.6,303.3 L1326.6,303.5 L1327.6,303.3 L1328.6,302.9 L1329.6,302.7 L1330.6,302.9 L1331.6,302.8 L1332.6,302.4 L1333.6,302.6 L1334.6,302.4 L1335.6,302.4 L1336.6,302.2 L1337.6,302.1 L1338.6,301.9 L1339.6,301.6 L1340.6,301.6 L1341.6,301.4 L1342.0,301.6 L1342.6,301.1 L1343.6,300.6 L1344.6,300.5 L1345.6,300.2 L1346.6,299.8 L1347.6,299.3 L1348.6,298.5 L1349.6,298.2 L1350.6,297.8 L1351.6,297.5 L1352.6,296.7 L1353.6,296.6 L1354.6,296.2 L1355.6,295.9 L1356.6,295.9 L1357.6,296.0 L1358.6,295.7 L1359.6,295.7 L1360.6,295.5 L1361.6,295.3 L1362.6,295.2 L1363.6,294.9 L1364.6,295.0 L1365.6,294.6 L1366.6,294.5 L1367.6,294.5 L1368.6,294.2 L1369.6,294.2 L1370.0,294.3 L1370.6,294.0 L1371.6,293.9 L1372.6,294.0 L1373.6,293.8 L1374.6,293.4 L1375.6,293.3 L1376.6,293.6 L1377.6,293.3 L1378.6,292.9 L1379.6,292.9 L1380.6,293.0 L1381.6,292.7 L1382.6,292.8 L1383.6,292.7 L1384.6,292.6 L1385.6,292.3 L1386.6,292.4 L1387.6,292.5 L1388.6,292.0 L1389.6,292.2 L1390.6,292.3 L1391.6,292.4 L1392.6,292.5 L1393.6,292.5 L1394.6,292.7 L1395.6,293.1 L1396.6,293.3 L1397.6,293.5 L1398.0,293.5 L1398.6,293.5 L1399.6,293.3 L1400.6,293.2 L1401.6,293.3 L1402.6,293.4 L1403.6,293.3 L1404.6,293.0 L1405.6,293.1 L1406.6,293.0 L1407.6,293.2 L1408.6,293.0 L1409.2,293.1 L1409.6,293.1 L1410.6,292.9 L1411.6,292.9 L1412.6,292.3 L1413.6,292.0 L1414.6,292.3 L1415.6,292.2 L1416.6,292.0 L1417.6,291.6 L1418.6,291.5 L1419.6,291.3 L1420.6,290.9 L1421.6,290.8 L1422.6,290.8 L1423.2,290.5 L1423.6,290.8 L1424.6,290.2 L1425.6,290.2 L1426.6,290.3 L1427.6,289.9 L1428.6,289.7 L1429.6,289.5 L1430.6,289.5 L1431.6,289.7 L1432.6,289.4 L1433.6,289.3 L1434.6,289.0 L1435.6,289.0 L1436.6,288.8 L1437.6,288.5 L1438.6,288.4 L1439.6,288.4 L1440.6,288.4 L1441.4,288.1 L1441.6,288.1 L1442.6,287.9 L1443.6,287.0 L1444.6,286.5 L1445.6,286.5 L1446.6,285.9 L1447.6,285.4 L1448.6,285.1 L1449.6,284.5 L1450.6,284.2 L1451.6,283.7 L1452.6,283.4 L1453.6,282.7 L1454.6,282.3 L1455.6,282.0 L1456.6,281.5 L1456.8,281.6 L1457.6,280.7 L1458.6,279.7 L1459.6,278.9 L1460.6,277.9 L1461.6,276.8 L1462.6,275.9 L1463.6,275.0 L1464.6,274.1 L1465.6,273.3 L1466.6,272.5 L1467.6,271.5 L1468.0,271.3 L1468.6,270.8 L1469.6,270.0 L1470.6,269.7 L1471.6,269.0 L1472.6,268.1 L1473.6,267.6 L1474.6,267.1 L1475.6,266.4 L1476.6,265.9 L1477.6,265.2 L1478.6,264.6 L1479.6,263.9 L1480.6,263.4 L1481.6,262.5 L1482.6,261.9 L1483.6,260.8 L1484.6,260.4 L1485.6,259.7 L1486.6,258.9 L1487.6,258.1 L1488.6,257.4 L1489.0,256.9 L1489.6,256.5 L1490.6,255.9 L1491.2,255.5 L1491.6,255.5 L1492.6,254.7 L1493.6,254.5 L1494.6,253.7 L1495.6,253.3 L1496.6,253.0 L1497.6,252.7 L1498.6,252.0 L1499.6,251.3 L1500.6,251.2 L1501.6,250.7 L1502.4,250.1 L1502.6,250.0 L1503.6,249.6 L1504.6,249.2 L1505.6,248.7 L1506.6,247.9 L1507.6,247.9 L1508.6,247.1 L1509.6,246.5 L1510.6,246.1 L1511.6,245.5 L1512.6,245.3 L1513.6,244.6 L1514.6,243.9 L1515.0,243.6 L1515.6,243.5 L1516.6,243.2 L1517.6,243.1 L1518.6,242.6 L1519.6,242.7 L1520.6,242.1 L1521.6,241.8 L1522.6,241.7 L1523.6,241.0 L1524.6,240.9 L1525.6,240.8 L1526.6,240.4 L1527.6,240.2 L1528.6,239.9 L1529.6,239.5 L1530.6,239.3 L1531.6,238.8 L1532.6,238.5 L1533.6,238.7 L1534.6,238.0 L1535.6,237.8 L1536.6,237.8 L1537.6,237.5 L1538.6,237.0 L1538.8,236.9 L1539.6,237.0 L1540.6,236.8 L1541.6,236.9 L1542.6,236.8 L1543.6,236.8 L1544.6,236.8 L1545.6,236.8 L1546.6,236.9 L1547.6,236.8 L1548.6,236.2 L1549.6,236.6 L1550.6,236.2 L1551.6,236.1 L1552.6,236.4 L1553.6,236.1 L1554.6,236.1 L1555.6,236.3 L1556.6,236.0 L1557.6,235.9 L1558.6,236.0 L1559.6,236.1 L1559.8,236.0 L1560.6,235.4 L1561.6,235.2 L1562.6,234.9 L1563.6,234.9 L1564.6,234.4 L1565.6,234.1 L1566.6,233.8 L1567.6,233.3 L1568.6,233.0 L1569.6,232.7 L1570.6,232.2 L1571.6,232.0 L1572.4,231.8 L1572.6,231.5 L1573.6,231.7 L1574.6,231.5 L1575.6,231.5 L1576.6,231.1 L1577.6,231.1 L1578.6,231.1 L1579.6,230.9 L1580.6,230.6 L1581.6,230.6 L1582.6,230.6 L1583.6,230.3 L1584.6,230.2 L1585.6,230.4 L1586.6,229.9 L1587.6,229.8 L1588.6,229.5 L1589.6,229.5 L1590.6,229.7 L1591.6,229.3 L1592.6,229.0 L1593.6,228.9 L1594.6,228.9 L1594.8,229.0 L1595.6,228.6 L1596.6,228.5 L1597.6,228.0 L1598.6,227.8 L1599.6,227.5 L1600.6,227.3 L1601.6,226.8 L1602.6,226.5 L1603.6,226.3 L1604.6,225.8 L1605.6,225.7 L1606.6,225.4 L1607.6,225.2 L1608.6,224.8 L1608.8,224.7 L1609.6,224.6 L1610.6,224.4 L1611.6,224.4 L1612.6,224.4 L1613.6,224.3 L1614.6,224.0 L1615.6,224.0 L1616.6,223.6 L1617.6,224.0 L1618.6,223.7 L1619.6,223.7 L1620.6,223.4 L1621.6,223.5 L1622.6,223.5 L1623.6,223.4 L1624.6,223.0 L1625.6,223.2 L1626.6,223.0 L1627.6,222.8 L1628.6,222.9 L1629.6,222.7 L1630.6,222.6 L1631.6,222.4 L1632.6,222.5 L1633.6,222.3 L1634.0,222.3 L1634.6,222.1 L1635.6,222.2 L1636.6,222.3 L1637.6,222.4 L1638.6,222.2 L1639.6,222.3 L1640.6,222.1 L1641.6,221.9 L1642.6,222.1 L1643.6,221.9 L1644.6,222.1 L1645.6,222.1 L1646.6,221.9 L1647.6,221.9 L1648.0,222.3 L1648.6,221.7 L1649.6,221.4 L1650.6,221.1 L1651.6,220.7 L1652.6,220.4 L1653.6,220.1 L1654.6,219.3 L1655.6,219.6 L1656.6,218.9 L1657.6,218.5 L1658.6,218.4 L1659.6,218.0 L1660.6,217.5 L1661.6,217.4 L1662.6,216.9 L1663.6,216.6 L1664.6,216.1 L1664.8,216.2 L1665.6,216.3 L1666.6,216.3 L1667.6,216.3 L1668.6,216.3 L1669.6,216.2 L1670.6,216.1 L1671.6,216.1 L1672.6,216.3 L1673.6,216.1 L1674.6,216.1 L1675.6,216.0 L1676.6,216.0 L1677.6,216.0 L1678.6,215.9 L1679.6,215.9 L1680.6,215.8 L1681.6,215.7 L1682.6,215.9 L1683.6,215.9 L1684.6,215.9 L1685.6,215.8 L1686.6,215.6 L1687.6,215.8 L1688.6,215.8 L1689.6,215.4 L1690.6,215.8 L1691.6,215.7 L1692.6,215.8 L1693.6,215.4 L1694.6,215.3 L1695.6,215.6 L1696.6,215.2 L1697.6,215.4 L1698.6,215.3 L1699.6,215.3 L1700.6,215.1 L1701.6,215.3 L1702.6,215.5 L1703.6,215.4 L1704.0,215.4 L1704.6,215.2 L1705.6,215.3 L1706.6,215.0 L1707.6,214.9 L1708.6,214.4 L1709.6,214.5 L1710.6,214.2 L1711.6,214.3 L1712.6,214.1 L1713.6,213.8 L1713.8,213.9 L1714.6,214.4 L1715.6,214.7 L1716.6,215.1 L1717.6,215.3 L1718.6,215.7 L1719.6,216.1 L1720.6,216.6 L1720.8,216.9 L1721.6,216.9 L1722.6,217.1 L1723.6,217.1 L1724.6,217.5 L1725.6,217.6 L1726.6,217.6 L1727.6,217.8 L1728.6,218.2 L1729.6,218.3 L1730.0,218.7" stroke="#2ca02c" stroke-width="2.7"/>
<path d="M319.6,247.1 L320.6,246.9 L321.6,246.8 L322.6,246.3 L323.6,245.7 L324.6,245.6 L325.6,245.2 L326.6,245.0 L327.6,244.4 L328.6,244.4 L329.4,244.1 L329.6,244.3 L330.6,244.0 L331.6,244.0 L332.6,243.6 L333.6,244.1 L334.6,243.4 L335.6,243.7 L336.6,243.4 L337.6,243.3 L338.6,243.2 L339.6,243.1 L340.6,243.2 L341.6,243.0 L342.0,243.2 L342.6,242.7 L343.6,242.9 L344.6,242.8 L345.6,243.0 L346.6,242.5 L347.6,242.7 L348.6,242.8 L349.6,242.5 L350.6,242.8 L351.6,242.6 L352.6,242.7 L353.6,242.7 L354.6,242.4 L355.6,242.3 L356.6,242.4 L357.6,242.5 L358.6,242.5 L359.6,242.2 L360.6,242.2 L361.6,242.1 L362.6,242.1 L363.6,242.1 L364.6,242.1 L365.6,242.4 L366.6,241.9 L367.2,242.0 L367.6,242.0 L368.6,241.4 L369.6,241.2 L370.6,241.0 L371.6,240.8 L372.6,240.2 L373.6,240.3 L374.6,239.8 L375.6,239.6 L376.6,239.4 L377.6,239.1 L378.6,238.8 L379.6,238.4 L380.6,238.1 L381.6,237.8 L382.6,237.4 L383.6,237.4 L384.0,237.0 L384.6,236.9 L385.6,237.3 L386.6,236.9 L387.6,236.7 L388.6,237.1 L389.6,236.7 L390.6,236.9 L391.6,236.6 L392.6,236.6 L393.6,236.3 L394.6,236.2 L395.6,236.3 L396.6,236.4 L397.6,236.5 L398.6,236.7 L399.6,236.1 L400.6,236.3 L401.6,236.0 L402.6,236.0 L403.6,235.8 L404.6,235.7 L405.6,235.8 L406.6,235.7 L407.6,235.8 L408.6,235.6 L409.2,235.9 L409.6,235.6 L410.6,235.4 L411.6,235.3 L412.6,234.9 L413.6,234.6 L414.6,234.3 L415.6,234.1 L416.6,234.0 L417.6,233.7 L418.6,233.4 L419.6,233.2 L420.6,232.8 L421.6,232.7 L422.6,232.1 L423.6,232.3 L424.6,231.9 L425.6,231.6 L426.0,231.6 L426.6,231.4 L427.6,231.2 L428.6,231.2 L429.6,230.9 L430.6,230.6 L431.6,230.6 L432.6,230.1 L433.6,230.4 L434.6,230.0 L435.6,229.8 L436.6,230.0 L437.6,229.8 L438.6,229.3 L439.6,229.2 L440.6,229.1 L441.6,229.1 L442.6,228.6 L442.8,228.6 L443.6,228.2 L444.6,227.3 L445.6,226.7 L446.6,225.9 L447.6,224.9 L448.4,224.4 L448.6,224.1 L449.6,224.3 L450.6,224.5 L451.6,224.0 L452.6,224.2 L453.6,224.1 L454.6,223.8 L455.6,223.7 L456.6,223.6 L457.6,223.4 L458.6,223.3 L459.6,223.3 L460.6,223.3 L461.6,223.2 L462.6,222.8 L463.6,223.0 L464.6,222.6 L465.6,222.6 L466.6,222.6 L467.6,222.4 L468.6,222.3 L469.6,222.2 L470.6,222.0 L471.6,221.9 L472.6,221.8 L473.6,221.9 L474.6,221.6 L475.0,221.9 L475.6,221.7 L476.6,221.3 L477.6,221.8 L478.6,222.2 L479.6,222.1 L480.6,222.1 L481.6,222.2 L482.6,222.6 L483.6,222.7 L484.6,222.7 L485.6,222.8 L486.6,223.1 L487.6,223.1 L488.6,222.9 L489.0,223.2 L489.6,223.2 L490.6,223.2 L491.6,223.3 L492.6,223.3 L493.6,222.9 L494.6,223.6 L495.6,223.5 L496.6,223.4 L497.6,223.4 L498.6,223.5 L499.6,223.4 L500.6,223.6 L501.6,223.6 L502.6,223.6 L503.0,223.6 L503.6,223.8 L504.6,224.3 L505.6,224.6 L506.6,224.7 L507.6,224.9 L508.6,225.0 L509.6,225.5 L510.6,225.9 L511.6,225.6 L512.6,226.3 L513.6,226.1 L514.6,226.6 L515.6,227.0 L516.6,226.8 L517.6,226.9 L518.6,227.3 L519.6,227.5 L520.6,227.4 L521.6,227.8 L522.6,227.6 L523.6,228.1 L524.6,227.9 L525.6,228.0 L526.6,228.2 L527.6,228.3 L528.2,228.6 L528.6,228.5 L529.6,228.0 L530.6,227.6 L531.6,227.1 L532.6,226.9 L533.6,226.7 L534.6,226.4 L535.6,226.1 L536.6,225.8 L537.6,225.5 L538.6,225.0 L539.6,224.7 L540.6,224.7 L540.8,224.6 L541.6,224.4 L542.6,224.6 L543.6,224.2 L544.6,224.2 L545.6,223.9 L546.6,224.2 L547.6,224.0 L548.6,224.1 L549.6,223.9 L550.0,223.8 L550.6,223.8 L551.6,224.0 L552.6,223.8 L553.6,223.8 L554.6,223.9 L555.6,224.0 L556.6,224.0 L557.6,224.2 L558.6,223.9 L559.6,224.1 L560.6,223.8 L561.2,224.0 L561.6,224.1 L562.6,224.7 L563.6,224.9 L564.6,225.1 L565.6,225.6 L566.6,226.0 L567.6,226.2 L568.6,226.6 L569.6,226.9 L570.6,227.8 L571.6,227.8 L572.6,228.3 L573.6,228.3 L574.6,228.7 L575.2,229.1 L575.6,229.1 L576.6,229.4 L577.6,229.2 L578.6,229.6 L579.6,229.8 L580.6,229.6 L581.6,230.0 L582.6,229.8 L583.6,230.1 L584.6,230.2 L585.6,230.5 L586.6,230.3 L587.6,230.5 L587.8,230.7 L588.6,230.6 L589.6,231.2 L590.6,231.4 L591.6,231.8 L592.6,232.4 L593.6,232.7 L594.6,233.4 L595.6,233.6 L596.6,233.9 L597.6,234.1 L598.6,234.4 L599.6,234.8 L600.4,234.8 L600.6,235.4 L601.6,235.1 L602.6,235.1 L603.6,235.2 L604.6,235.5 L605.6,235.6 L606.6,235.4 L607.6,235.6 L608.6,235.6 L609.6,235.5 L610.6,235.8 L611.6,235.8 L612.6,235.7 L613.6,236.1 L614.6,235.8 L615.6,236.1 L616.6,236.0 L617.6,236.1 L618.6,236.2 L619.6,236.4 L620.6,236.2 L621.6,236.4 L622.6,236.8 L623.6,236.5 L624.6,236.6 L625.6,236.8 L626.6,236.7 L627.0,236.9 L627.6,236.9 L628.6,237.3 L629.6,237.5 L630.6,237.6 L631.6,238.2 L632.6,238.3 L633.6,238.5 L634.6,238.7 L635.6,239.0 L636.6,239.3 L637.6,239.7 L638.6,240.1 L639.6,240.0 L640.6,240.4 L641.6,240.9 L642.6,241.0 L643.6,241.3 L644.6,241.7 L645.6,241.8 L646.6,242.1 L647.6,242.3 L648.0,242.7 L648.6,242.6 L649.6,242.4 L650.6,242.7 L651.6,242.5 L652.6,242.9 L653.6,242.9 L654.6,242.8 L655.6,242.9 L656.6,242.7 L657.6,243.2 L658.6,243.1 L659.6,243.1 L660.6,243.4 L661.6,243.2 L662.6,243.3 L663.6,243.3 L664.6,243.3 L665.6,243.9 L666.6,243.6 L667.6,243.7 L668.6,243.9 L669.6,243.4 L670.6,243.9 L671.6,244.0 L672.6,243.9 L673.2,244.2 L673.6,243.9 L674.6,244.4 L675.6,244.8 L676.6,244.6 L677.6,244.9 L678.6,245.3 L679.6,245.6 L680.6,245.7 L681.6,246.1 L682.6,246.3 L683.6,246.3 L684.6,246.7 L685.6,246.8 L686.6,246.9 L687.6,247.1 L688.6,247.8 L689.6,247.9 L690.0,248.3 L690.6,247.8 L691.6,248.0 L692.6,248.2 L693.6,248.2 L694.6,248.4 L695.6,248.4 L696.6,248.4 L697.6,248.2 L698.6,248.5 L699.6,249.0 L700.6,248.9 L701.6,249.1 L702.6,248.9 L703.6,249.0 L704.0,248.9 L704.6,249.2 L705.6,249.2 L706.6,249.3 L707.6,249.6 L708.6,249.2 L709.6,249.5 L710.6,249.3 L711.6,249.7 L712.6,249.5 L713.6,249.7 L714.6,249.7 L715.6,250.0 L716.6,249.8 L717.6,249.8 L718.6,249.8 L719.6,250.1 L720.6,250.0 L721.6,250.1 L722.6,250.2 L723.6,250.4 L724.6,250.2 L725.6,250.5 L726.6,250.7 L727.6,250.3 L728.6,250.8 L729.6,251.0 L730.6,250.6 L731.6,250.8 L732.0,250.6 L732.6,250.9 L733.6,250.9 L734.6,251.1 L735.6,251.0 L736.6,251.2 L737.6,251.3 L738.6,251.4 L739.6,251.5 L740.6,251.7 L741.6,251.6 L742.6,251.9 L743.6,252.1 L744.6,251.8 L745.6,252.3 L746.6,252.2 L747.6,252.3 L748.6,252.4 L749.6,252.5 L750.6,252.7 L751.6,252.9 L752.6,252.9 L753.6,253.4 L754.6,253.3 L755.6,253.6 L756.6,253.9 L757.6,253.7 L758.6,254.2 L759.6,254.5 L760.6,254.3 L761.6,254.6 L762.6,254.7 L763.6,254.9 L764.6,255.0 L765.6,255.1 L766.6,255.5 L767.6,255.7 L768.4,255.7 L768.6,255.9 L769.6,255.9 L770.6,255.9 L771.6,255.7 L772.6,256.2 L773.6,256.1 L774.6,255.6 L775.6,255.8 L776.6,256.0 L777.6,256.2 L778.6,256.3 L779.6,256.1 L780.6,256.2 L781.6,256.3 L782.6,256.1 L783.6,256.4 L784.6,256.3 L785.6,256.4 L786.6,256.4 L787.6,256.3 L788.6,256.4 L789.6,256.6 L790.6,256.6 L791.6,256.6 L792.6,256.9 L793.6,256.7 L794.6,256.6 L795.6,256.8 L796.6,256.8 L797.6,256.9 L798.6,257.1 L799.6,257.1 L800.0,257.2 L800.6,257.1 L801.6,257.0 L802.6,257.2 L803.6,257.0 L804.6,257.1 L805.6,256.9 L806.6,257.1 L807.6,257.0 L808.6,257.1 L809.6,257.4 L810.6,257.4 L811.6,257.2 L812.6,257.1 L813.6,257.2 L814.6,257.2 L815.6,257.0 L816.6,257.1 L817.6,257.1 L818.6,257.1 L819.6,257.4 L820.6,257.1 L821.6,257.1 L822.6,257.3 L823.6,257.1 L824.6,257.0 L825.6,257.1 L826.6,257.3 L827.6,257.3 L828.6,257.3 L829.6,257.2 L830.6,257.1 L831.6,257.4 L832.6,257.1 L833.6,257.2 L834.6,257.1 L835.6,257.2 L836.4,257.3 L836.6,257.5 L837.6,257.2 L838.6,258.1 L839.6,258.0 L840.6,258.4 L841.6,258.7 L842.6,258.7 L843.6,259.1 L844.6,259.4 L845.6,259.6 L846.6,259.7 L847.6,260.1 L848.6,260.2 L849.6,260.1 L850.6,260.6 L851.6,260.5 L852.6,260.3 L853.6,260.6 L854.6,261.1 L855.6,261.2 L856.6,261.1 L857.6,260.9 L858.6,261.2 L859.6,261.5 L860.6,261.5 L861.6,261.5 L862.6,261.5 L863.6,261.9 L864.6,261.8 L865.6,262.0 L866.6,262.1 L867.2,262.4 L867.6,262.1 L868.6,262.1 L869.6,261.8 L870.6,262.3 L871.6,262.2 L872.6,262.1 L873.6,261.8 L874.6,262.0 L875.6,262.1 L876.6,262.4 L877.6,262.2 L878.6,262.2 L879.6,262.2 L880.6,262.3 L881.6,261.9 L882.6,262.0 L883.6,261.9 L884.6,262.1 L885.6,262.1 L886.6,262.1 L887.6,262.0 L888.6,262.1 L889.6,262.0 L890.6,262.4 L891.6,262.0 L892.6,262.5 L893.6,262.4 L894.6,261.9 L895.6,262.2 L896.6,262.2 L897.6,261.9 L898.6,262.2 L899.4,262.1 L899.6,262.1 L900.6,261.4 L901.6,261.0 L902.6,260.6 L903.6,260.0 L904.6,259.4 L905.0,259.3 L905.6,259.2 L906.6,259.5 L907.6,259.1 L908.6,259.8 L909.6,259.6 L910.6,259.8 L911.6,259.9 L912.6,259.7 L913.6,260.3 L914.6,259.8 L915.6,260.1 L916.2,260.2 L916.6,260.1 L917.6,259.6 L918.6,258.9 L919.0,259.1 L919.6,258.6 L920.6,259.0 L921.6,259.0 L922.6,259.3 L923.6,259.1 L924.6,259.1 L925.6,259.0 L926.6,259.0 L927.6,259.1 L928.6,259.3 L929.6,259.0 L930.6,259.2 L931.6,259.1 L932.6,259.3 L933.0,259.3 L933.6,259.3 L934.6,259.7 L935.6,260.2 L936.6,260.6 L937.6,260.9 L938.6,261.1 L939.6,261.0 L940.6,261.0 L941.6,261.4 L942.6,261.6 L943.6,261.5 L944.6,261.7 L945.6,261.5 L946.6,261.6 L947.6,261.9 L948.6,261.6 L949.6,261.9 L950.6,262.0 L951.6,262.0 L952.6,262.3 L953.6,262.0 L954.6,262.1 L955.6,261.9 L956.6,262.2 L957.6,262.3 L958.6,262.4 L959.6,262.5 L960.6,262.6 L961.6,262.6 L962.6,262.4 L963.6,262.8 L964.6,262.9 L965.2,262.7 L965.6,263.0 L966.6,263.9 L967.6,264.3 L968.6,264.9 L969.6,265.4 L970.6,265.8 L971.6,266.3 L972.6,267.0 L973.6,267.4 L974.6,267.4 L975.6,267.6 L976.6,267.7 L977.6,268.0 L978.6,267.8 L979.6,268.4 L980.6,268.0 L981.6,268.2 L982.6,268.5 L983.6,268.4 L984.6,268.5 L985.6,268.7 L986.6,268.4 L987.6,268.9 L988.6,268.9 L989.0,269.1 L989.6,269.2 L990.6,269.3 L991.6,269.5 L992.6,269.6 L993.6,269.6 L994.6,269.6 L995.6,269.8 L996.6,269.6 L997.6,269.8 L998.6,270.1 L999.6,270.1 L1000.6,269.9 L1001.6,270.1 L1002.6,270.4 L1003.6,270.4 L1004.6,270.6 L1005.6,270.2 L1005.8,270.3 L1006.6,270.9 L1007.6,271.4 L1008.6,272.1 L1009.6,272.6 L1010.6,273.2 L1011.6,273.7 L1012.6,274.4 L1012.8,274.5 L1013.6,274.3 L1014.6,273.9 L1015.6,274.0 L1016.6,273.7 L1017.6,273.5 L1018.4,273.3 L1018.6,273.1 L1019.6,273.5 L1020.6,273.5 L1021.6,273.5 L1022.6,274.1 L1023.6,273.9 L1024.6,274.2 L1025.6,274.4 L1026.6,274.6 L1027.6,274.3 L1028.6,274.5 L1029.6,274.9 L1030.6,274.8 L1031.6,274.6 L1032.6,275.2 L1033.6,275.4 L1034.6,275.6 L1035.6,275.6 L1036.6,275.7 L1037.6,275.9 L1038.6,276.0 L1039.6,276.0 L1040.6,276.3 L1041.6,276.4 L1042.6,276.4 L1043.6,276.8 L1044.6,276.9 L1045.6,277.0 L1046.6,276.6 L1047.6,277.2 L1048.6,277.3 L1049.6,277.3 L1050.0,277.6 L1050.6,277.4 L1051.6,278.1 L1052.6,278.1 L1053.6,278.2 L1054.6,278.8 L1055.6,278.8 L1056.6,279.0 L1057.6,279.0 L1058.6,279.5 L1059.6,279.9 L1060.6,280.1 L1061.6,279.9 L1062.6,280.6 L1063.6,280.8 L1064.6,280.9 L1065.6,281.0 L1066.6,281.0 L1066.8,281.2 L1067.6,281.0 L1068.6,280.9 L1069.6,280.6 L1070.6,280.2 L1071.6,279.7 L1072.6,279.7 L1073.6,279.3 L1074.6,279.4 L1075.6,278.7 L1076.6,278.7 L1077.6,278.5 L1078.6,277.9 L1079.6,278.0 L1080.6,277.5 L1080.8,277.4 L1081.6,277.4 L1082.6,277.5 L1083.6,277.7 L1084.6,277.2 L1085.6,277.6 L1086.6,277.5 L1087.6,277.4 L1088.6,277.5 L1089.6,277.5 L1090.6,277.5 L1091.6,277.6 L1092.0,277.4 L1092.6,278.0 L1093.6,278.1 L1094.6,278.1 L1095.6,278.2 L1096.6,278.8 L1097.6,279.0 L1098.6,279.5 L1099.6,279.8 L1100.6,280.2 L1101.6,280.2 L1101.8,280.4 L1102.6,280.3 L1103.6,280.4 L1104.6,280.7 L1105.6,280.5 L1106.6,280.6 L1107.6,280.6 L1108.6,280.8 L1109.6,280.9 L1110.6,280.9 L1111.6,280.8 L1112.6,281.1 L1113.6,280.9 L1114.6,281.1 L1115.6,281.2 L1116.6,281.3 L1117.6,281.0 L1118.6,281.7 L1119.6,281.6 L1120.6,281.8 L1121.6,282.0 L1122.6,281.5 L1123.6,281.6 L1124.6,281.8 L1125.6,282.0 L1126.6,281.8 L1127.6,281.9 L1128.6,282.2 L1129.6,282.0 L1130.6,282.2 L1131.6,282.4 L1132.6,282.3 L1133.6,282.5 L1134.0,282.4 L1134.6,282.2 L1135.6,282.4 L1136.6,282.5 L1137.6,282.5 L1138.6,282.6 L1139.6,282.7 L1140.6,282.8 L1141.6,282.8 L1142.6,282.7 L1143.6,282.8 L1144.6,282.8 L1145.6,282.9 L1146.6,283.2 L1147.6,282.8 L1148.6,283.1 L1149.6,282.9 L1150.6,283.1 L1151.6,283.4 L1152.6,283.2 L1153.6,283.5 L1154.6,283.2 L1155.6,283.4 L1156.6,283.4 L1157.6,283.5 L1158.6,283.5 L1159.6,283.6 L1160.6,283.7 L1161.6,283.9 L1162.6,283.8 L1163.6,283.8 L1164.6,283.8 L1165.6,283.8 L1166.6,283.7 L1167.6,283.8 L1168.6,284.1 L1169.0,283.8 L1169.6,284.2 L1170.6,284.1 L1171.6,284.1 L1172.6,284.2 L1173.6,284.5 L1174.6,284.5 L1175.6,284.6 L1176.6,284.9 L1177.6,285.0 L1178.6,284.6 L1179.6,285.0 L1180.2,284.8 L1180.6,284.8 L1181.6,285.2 L1182.6,285.8 L1183.6,285.9 L1184.6,286.1 L1185.6,286.7 L1186.6,286.9 L1187.6,287.1 L1188.6,287.7 L1189.6,287.8 L1190.6,287.9 L1191.4,288.1 L1191.6,288.1 L1192.6,287.6 L1193.6,287.2 L1194.6,286.6 L1195.6,285.9 L1196.6,285.2 L1197.6,284.9 L1198.6,284.2 L1199.6,283.5 L1199.8,283.3 L1200.6,283.5 L1201.6,283.6 L1202.6,283.6 L1203.6,283.3 L1204.6,283.8 L1205.6,283.2 L1206.6,283.5 L1207.6,283.7 L1208.6,283.7 L1209.6,283.4 L1210.6,283.6 L1211.6,283.7 L1212.6,283.6 L1213.6,283.3 L1214.6,283.7 L1215.6,283.2 L1216.6,283.5 L1217.6,283.3 L1218.0,283.4 L1218.6,283.6 L1219.6,284.1 L1220.6,284.2 L1221.6,284.7 L1222.2,285.1 L1222.6,284.9 L1223.6,284.9 L1224.6,284.8 L1225.6,284.6 L1226.6,284.6 L1227.6,284.6 L1228.6,284.6 L1229.6,284.8 L1230.6,284.6 L1231.6,284.3 L1232.6,284.2 L1233.6,284.1 L1234.6,283.8 L1235.6,284.3 L1236.6,284.1 L1237.6,283.7 L1238.6,283.9 L1239.6,284.2 L1240.6,283.9 L1241.6,283.8 L1242.6,283.7 L1243.6,283.5 L1244.6,283.4 L1245.6,283.4 L1246.0,283.5 L1246.6,283.6 L1247.6,284.1 L1248.6,284.5 L1249.6,284.7 L1250.6,285.0 L1251.6,285.1 L1252.6,285.3 L1253.6,286.1 L1254.6,286.2 L1255.6,286.6 L1256.6,286.6 L1257.6,286.7 L1258.6,287.5 L1259.6,287.0 L1260.6,287.3 L1261.6,287.2 L1262.6,287.3 L1263.6,287.4 L1264.6,287.4 L1265.6,287.0 L1266.6,287.4 L1267.6,287.0 L1268.6,287.4 L1269.6,287.2 L1270.6,287.1 L1271.6,287.2 L1272.6,287.1 L1273.6,287.3 L1274.6,287.4 L1275.6,287.4 L1276.6,287.3 L1277.6,287.5 L1278.6,287.4 L1279.6,287.6 L1280.6,287.4 L1281.6,287.2 L1282.6,287.3 L1283.6,287.2 L1284.6,287.3 L1285.2,287.3 L1285.6,287.3 L1286.6,287.2 L1287.6,287.0 L1288.6,286.9 L1289.6,286.6 L1290.6,286.5 L1291.6,286.1 L1292.6,286.2 L1293.6,286.1 L1294.6,286.5 L1295.6,285.8 L1296.6,285.8 L1297.6,285.7 L1298.6,285.3 L1299.6,285.5 L1300.0,285.4 L1300.6,285.2 L1301.6,285.0 L1302.6,285.4 L1303.6,285.1 L1304.6,285.5 L1305.6,285.3 L1306.6,285.4 L1307.6,285.3 L1308.6,285.6 L1309.6,285.4 L1310.6,285.5 L1311.2,285.3 L1311.6,285.0 L1312.6,284.7 L1313.6,284.6 L1314.6,284.5 L1315.6,284.1 L1316.6,284.4 L1317.6,283.7 L1318.6,283.6 L1319.6,283.3 L1320.6,282.8 L1321.0,283.1 L1321.6,283.0 L1322.6,282.9 L1323.6,282.6 L1324.6,282.6 L1325.6,282.6 L1326.6,282.7 L1327.6,282.2 L1328.6,282.5 L1329.6,282.5 L1330.6,282.2 L1331.6,282.0 L1332.6,282.3 L1333.6,282.0 L1334.6,282.1 L1335.6,282.0 L1336.6,282.0 L1337.6,281.7 L1338.6,281.3 L1339.6,281.7 L1340.6,281.4 L1341.6,281.1 L1342.6,280.5 L1343.6,280.4 L1344.6,279.6 L1345.6,279.3 L1346.6,278.9 L1347.6,278.2 L1348.6,277.8 L1349.6,277.3 L1350.6,276.7 L1351.6,276.6 L1351.8,276.2 L1352.6,276.0 L1353.6,276.0 L1354.6,275.9 L1355.6,275.8 L1356.6,275.6 L1357.6,275.4 L1358.6,275.0 L1359.6,275.3 L1360.6,275.3 L1361.6,274.8 L1362.6,274.5 L1363.6,274.7 L1364.6,274.5 L1365.6,273.7 L1366.6,274.1 L1367.2,273.9 L1367.6,273.8 L1368.6,274.1 L1369.6,273.7 L1370.6,273.3 L1371.6,273.0 L1372.6,273.0 L1373.6,272.4 L1374.6,272.4 L1375.6,272.0 L1376.6,272.0 L1377.6,271.6 L1378.6,271.2 L1379.6,271.3 L1380.6,270.9 L1381.2,271.0 L1381.6,270.6 L1382.6,270.7 L1383.6,270.5 L1384.6,270.8 L1385.6,270.4 L1386.6,270.5 L1387.6,270.6 L1388.6,270.5 L1389.6,270.4 L1390.6,270.4 L1391.0,270.4 L1391.6,270.5 L1392.6,270.6 L1393.6,270.5 L1394.6,271.2 L1395.6,271.1 L1396.6,271.7 L1397.6,271.7 L1398.0,272.2 L1398.6,271.8 L1399.6,271.6 L1400.6,271.6 L1401.6,271.2 L1402.6,271.3 L1403.6,271.2 L1404.6,271.1 L1405.6,270.7 L1406.6,270.6 L1407.6,271.0 L1408.6,270.8 L1409.6,270.6 L1410.6,270.6 L1411.6,270.4 L1412.6,270.4 L1413.6,270.5 L1414.6,270.2 L1415.6,270.3 L1416.6,270.0 L1417.6,269.7 L1418.6,269.8 L1419.0,269.9 L1419.6,269.7 L1420.6,269.7 L1421.6,269.6 L1422.6,269.8 L1423.6,269.7 L1424.6,269.6 L1425.6,269.3 L1426.6,269.4 L1427.6,269.4 L1428.6,269.2 L1429.6,269.1 L1430.6,268.9 L1431.6,269.1 L1432.6,268.9 L1433.6,268.9 L1434.6,268.7 L1435.6,268.9 L1436.6,268.5 L1437.2,268.3 L1437.6,268.3 L1438.6,267.9 L1439.6,267.6 L1440.6,266.9 L1441.6,266.4 L1442.6,266.0 L1443.6,265.5 L1444.6,264.8 L1445.6,264.8 L1446.6,264.4 L1447.0,263.9 L1447.6,263.7 L1448.6,263.5 L1449.6,263.1 L1450.6,263.0 L1451.6,262.5 L1452.6,262.4 L1453.6,261.8 L1454.6,261.5 L1455.4,261.3 L1455.6,261.1 L1456.6,260.5 L1457.6,259.6 L1458.6,258.6 L1459.6,257.6 L1460.6,256.3 L1461.0,256.5 L1461.6,255.7 L1462.6,255.3 L1463.6,254.7 L1464.6,253.6 L1465.6,252.9 L1466.6,252.2 L1467.6,251.1 L1468.6,250.4 L1469.4,249.9 L1469.6,249.9 L1470.6,249.5 L1471.6,248.8 L1472.6,248.4 L1473.6,247.7 L1474.6,247.0 L1475.6,246.7 L1476.6,246.1 L1477.6,245.4 L1478.6,245.2 L1479.6,244.4 L1480.0,244.2 L1480.6,243.9 L1481.6,243.1 L1482.6,242.7 L1483.6,242.0 L1484.6,241.4 L1485.6,240.7 L1486.6,239.9 L1487.6,239.2 L1488.6,238.7 L1489.6,238.3 L1490.6,237.5 L1491.2,237.1 L1491.6,237.0 L1492.6,236.6 L1493.6,235.7 L1494.6,235.5 L1495.6,235.2 L1496.6,234.5 L1497.6,234.1 L1498.6,233.8 L1499.6,233.2 L1500.6,233.0 L1501.6,232.3 L1502.6,232.0 L1503.6,231.8 L1504.6,231.2 L1505.2,230.5 L1505.6,230.4 L1506.6,229.9 L1507.6,229.6 L1508.6,228.9 L1509.6,228.7 L1510.6,228.4 L1511.6,227.9 L1512.6,227.1 L1513.6,226.7 L1514.6,226.2 L1515.6,225.6 L1516.6,225.5 L1517.6,224.7 L1517.8,224.5 L1518.6,224.6 L1519.6,224.5 L1520.6,224.5 L1521.6,224.3 L1522.6,223.9 L1523.6,223.5 L1524.6,223.7 L1525.6,223.6 L1526.6,223.6 L1527.6,222.9 L1528.6,222.8 L1529.6,223.1 L1530.6,222.9 L1531.6,222.7 L1532.6,222.4 L1533.6,222.4 L1534.6,222.0 L1535.6,221.7 L1536.6,221.7 L1537.6,221.6 L1538.6,221.5 L1539.6,221.4 L1540.6,220.8 L1541.6,221.0 L1542.6,220.9 L1543.6,220.4 L1544.4,220.5 L1544.6,220.5 L1545.6,220.8 L1546.6,220.7 L1547.6,220.9 L1548.6,221.0 L1549.6,221.4 L1550.6,221.5 L1551.6,221.6 L1552.6,222.0 L1552.8,221.9 L1553.6,221.5 L1554.6,221.5 L1555.6,221.2 L1556.6,220.8 L1557.6,220.3 L1558.6,220.3 L1559.6,219.8 L1560.6,219.3 L1561.6,219.2 L1562.6,219.2 L1563.6,218.6 L1564.6,218.4 L1565.6,218.3 L1566.6,217.8 L1566.8,217.6 L1567.6,217.7 L1568.6,217.7 L1569.6,217.5 L1570.6,217.6 L1571.6,217.5 L1572.6,217.3 L1573.6,217.5 L1574.6,217.4 L1575.6,217.2 L1576.6,217.2 L1577.6,217.2 L1578.6,217.1 L1579.6,217.0 L1580.6,216.8 L1581.6,217.0 L1582.6,217.0 L1583.6,216.9 L1584.6,216.7 L1585.6,216.8 L1586.6,216.8 L1587.6,216.5 L1588.6,216.7 L1589.6,216.5 L1590.6,216.4 L1591.6,216.5 L1592.6,216.3 L1593.6,216.0 L1594.6,216.3 L1595.6,216.1 L1596.6,216.2 L1597.6,216.2 L1598.6,216.0 L1599.6,216.0 L1600.6,216.0 L1601.6,216.0 L1602.6,215.7 L1603.6,215.7 L1604.6,215.8 L1605.6,216.0 L1606.0,215.7 L1606.6,215.6 L1607.6,215.1 L1608.6,214.9 L1609.6,214.5 L1610.6,214.0 L1611.6,213.9 L1612.6,213.5 L1613.6,212.9 L1614.6,212.9 L1615.6,212.6 L1616.6,212.3 L1617.2,212.1 L1617.6,211.9 L1618.6,211.9 L1619.6,211.9 L1620.6,211.8 L1621.6,211.7 L1622.6,211.9 L1623.6,211.6 L1624.6,211.6 L1625.6,211.8 L1626.6,211.5 L1627.0,211.3 L1627.6,211.7 L1628.6,212.0 L1629.6,212.3 L1630.6,212.3 L1631.6,212.8 L1632.6,213.1 L1633.6,213.7 L1634.0,213.6 L1634.6,213.4 L1635.6,213.3 L1636.6,213.3 L1637.6,213.0 L1638.6,212.9 L1639.6,213.0 L1640.6,212.8 L1641.6,212.7 L1642.6,212.3 L1643.6,212.4 L1644.6,211.9 L1645.6,212.3 L1646.6,211.9 L1647.6,211.9 L1648.6,211.9 L1649.6,211.5 L1650.6,211.7 L1651.6,211.4 L1652.6,211.4 L1653.6,211.1 L1654.6,210.9 L1655.6,211.1 L1656.6,210.8 L1657.6,210.7 L1658.6,210.4 L1659.6,210.6 L1660.6,210.2 L1661.6,210.1 L1662.0,210.0 L1662.6,210.1 L1663.6,210.1 L1664.6,210.0 L1665.6,210.0 L1666.6,209.8 L1667.6,210.1 L1668.6,210.1 L1669.6,209.8 L1670.6,209.6 L1671.6,209.8 L1672.6,209.5 L1673.6,209.7 L1674.6,209.7 L1675.6,209.6 L1676.6,209.8 L1677.6,209.8 L1678.6,209.5 L1679.6,209.4 L1680.6,209.5 L1681.6,209.5 L1682.6,209.1 L1683.6,209.2 L1684.6,209.2 L1685.6,208.9 L1686.6,209.0 L1687.6,209.3 L1688.6,208.9 L1689.6,209.1 L1690.0,208.9 L1690.6,209.1 L1691.6,209.0 L1692.6,209.1 L1693.6,208.7 L1694.6,208.9 L1695.6,208.8 L1696.6,209.0 L1697.6,208.9 L1698.6,208.8 L1699.6,208.7 L1700.6,208.7 L1701.6,208.8 L1702.6,208.6 L1703.6,208.6 L1704.6,208.5 L1705.6,208.5 L1706.6,208.7 L1707.6,208.4 L1708.6,208.7 L1709.6,208.6 L1710.6,208.2 L1711.6,208.2 L1712.6,208.4 L1713.6,208.3 L1714.6,208.4 L1715.6,208.5 L1716.6,208.4 L1717.6,208.3 L1718.0,208.3 L1718.6,208.7 L1719.6,208.7 L1720.6,209.2 L1721.6,209.5 L1722.6,209.4 L1723.6,209.8 L1724.6,210.0 L1725.6,209.7 L1726.6,210.0 L1727.6,210.1 L1728.6,209.9 L1729.6,210.1 L1730.0,210.1" stroke="#d62728" stroke-width="2.7"/>
<path d="M319.6,382.5 L320.6,382.3 L321.6,382.5 L322.6,382.5 L323.6,382.6 L324.6,382.3 L325.6,382.2 L326.6,382.1 L327.6,382.3 L328.6,382.4 L329.6,382.1 L330.6,381.8 L331.6,381.8 L332.6,382.1 L333.6,381.9 L334.6,381.5 L335.6,381.7 L336.6,381.5 L337.6,381.5 L338.6,381.5 L339.6,381.4 L340.6,381.6 L341.6,381.4 L342.6,381.3 L343.6,381.4 L344.6,381.4 L345.6,381.0 L346.6,381.1 L347.6,381.0 L348.6,381.0 L349.6,380.8 L350.6,380.9 L351.6,380.9 L352.6,380.8 L353.6,380.6 L354.6,380.7 L355.6,380.5 L356.6,380.4 L357.6,380.6 L358.6,380.3 L358.8,380.7 L359.6,380.5 L360.6,379.9 L361.6,380.1 L362.6,379.8 L363.6,379.8 L364.6,379.7 L365.6,379.2 L366.6,379.4 L367.6,379.2 L368.6,379.2 L369.6,378.6 L370.6,378.6 L371.6,378.0 L372.6,377.8 L373.6,377.5 L374.6,377.5 L375.6,377.1 L376.6,377.1 L377.6,376.5 L378.6,376.2 L379.6,375.9 L380.6,375.4 L381.2,375.3 L381.6,375.5 L382.6,375.1 L383.6,375.1 L384.6,375.0 L385.6,375.0 L386.6,374.8 L387.6,374.8 L388.6,374.8 L389.6,374.7 L390.6,374.4 L391.6,374.6 L392.6,374.2 L393.6,374.1 L394.6,374.1 L395.6,374.3 L396.6,374.0 L397.6,373.9 L398.6,373.8 L399.6,373.9 L400.6,373.6 L401.6,373.5 L402.6,373.7 L403.6,373.4 L404.6,373.4 L405.6,373.4 L406.6,373.2 L407.6,373.2 L408.6,373.3 L409.2,373.0 L409.6,372.8 L410.6,372.4 L411.6,372.3 L412.6,372.0 L413.6,371.7 L414.6,371.3 L415.6,371.0 L416.6,370.7 L417.6,370.4 L418.6,370.2 L419.0,369.9 L419.6,369.9 L420.6,370.0 L421.6,369.6 L422.6,369.1 L423.6,369.4 L424.6,369.0 L425.6,368.6 L426.6,368.7 L427.6,368.4 L428.6,368.1 L429.6,367.9 L430.6,367.7 L431.6,367.7 L432.6,367.6 L433.6,367.2 L434.6,367.2 L435.6,367.2 L436.6,366.5 L437.6,366.6 L438.6,366.3 L439.6,366.0 L440.0,365.9 L440.6,365.7 L441.6,365.0 L442.6,364.1 L443.6,363.4 L444.6,362.8 L445.6,362.0 L446.6,361.3 L447.0,361.0 L447.6,360.9 L448.6,361.0 L449.6,360.8 L450.6,360.6 L451.6,360.6 L452.6,360.3 L453.6,360.2 L454.6,360.3 L455.6,360.2 L456.6,360.3 L457.6,359.9 L458.6,359.6 L459.6,360.0 L460.6,359.8 L461.6,359.4 L462.4,359.7 L462.6,359.4 L463.6,358.7 L464.6,358.5 L465.6,358.1 L466.6,357.9 L467.6,357.2 L468.6,356.8 L469.6,356.4 L470.6,355.9 L471.6,355.4 L472.2,355.3 L472.6,355.5 L473.6,355.6 L474.6,355.6 L475.6,355.7 L476.6,356.1 L477.6,356.1 L478.6,356.3 L479.6,356.3 L480.6,357.0 L481.6,357.3 L482.6,357.5 L483.6,358.2 L484.6,358.7 L485.6,358.6 L486.6,359.4 L487.6,359.8 L488.6,360.1 L489.6,360.0 L490.6,360.1 L491.6,360.2 L492.6,360.5 L493.6,360.7 L494.6,360.3 L495.6,360.3 L496.6,360.9 L497.6,360.5 L498.6,360.6 L499.6,360.8 L500.6,360.9 L501.6,361.1 L502.6,361.0 L503.6,360.9 L504.6,361.2 L505.6,361.2 L506.6,361.5 L507.2,361.3 L507.6,361.2 L508.6,361.6 L509.6,362.3 L510.6,362.4 L511.6,362.5 L512.6,363.1 L513.6,363.5 L514.2,363.9 L514.6,363.6 L515.6,363.8 L516.6,363.9 L517.6,363.7 L518.6,363.8 L519.6,364.1 L520.6,364.1 L521.6,364.0 L522.6,364.0 L523.6,364.1 L524.6,364.0 L525.6,364.0 L526.6,363.9 L527.6,364.1 L528.2,364.1 L528.6,364.4 L529.6,363.7 L530.6,363.7 L531.6,363.4 L532.6,362.9 L533.6,362.9 L534.6,362.1 L535.6,362.2 L536.6,362.1 L537.6,361.3 L538.0,361.4 L538.6,361.7 L539.6,361.5 L540.6,361.3 L541.6,361.4 L542.6,361.3 L543.6,361.4 L544.6,361.3 L545.6,361.2 L546.6,361.1 L547.6,361.1 L548.6,361.3 L549.6,361.1 L550.0,361.1 L550.6,361.0 L551.6,360.8 L552.6,360.9 L553.6,361.2 L554.6,361.1 L555.6,361.0 L556.6,360.9 L557.6,361.2 L558.6,361.1 L559.6,361.2 L560.6,361.2 L561.6,361.3 L562.6,361.3 L563.6,361.4 L564.0,361.4 L564.6,361.8 L565.6,362.1 L566.6,362.4 L567.6,362.9 L568.6,363.4 L569.6,363.8 L570.6,364.3 L571.6,364.9 L572.6,365.0 L573.6,365.3 L574.6,366.2 L575.2,366.3 L575.6,366.5 L576.6,366.4 L577.6,367.0 L578.6,367.1 L579.6,367.2 L580.6,367.3 L581.6,367.6 L582.6,367.8 L583.6,368.0 L584.6,368.0 L585.6,368.6 L586.6,368.6 L587.6,368.8 L588.6,369.0 L589.6,368.9 L590.6,369.5 L591.6,369.6 L592.0,369.7 L592.6,369.9 L593.6,370.1 L594.6,370.7 L595.6,370.8 L596.6,371.0 L597.6,371.4 L598.6,371.8 L599.6,372.3 L600.6,372.4 L601.6,372.6 L602.6,373.3 L603.2,373.1 L603.6,373.5 L604.6,373.4 L605.6,373.3 L606.6,373.4 L607.6,373.6 L608.6,373.7 L609.6,373.6 L610.6,373.8 L611.6,374.0 L612.6,373.7 L613.6,373.6 L614.6,373.7 L615.6,373.7 L616.6,373.9 L617.6,373.9 L618.6,373.9 L619.6,374.2 L620.6,373.8 L621.6,374.0 L622.6,374.6 L623.6,374.5 L624.6,374.4 L625.6,374.5 L626.6,374.7 L627.6,374.6 L628.6,374.6 L629.6,374.4 L630.6,374.7 L631.2,374.6 L631.6,374.7 L632.6,375.0 L633.6,375.4 L634.6,375.7 L635.6,376.2 L636.6,376.2 L637.6,376.7 L638.6,377.3 L639.6,377.3 L640.6,377.8 L641.6,378.1 L642.6,378.4 L643.6,378.6 L644.6,378.6 L645.6,379.1 L646.6,379.4 L647.6,379.5 L648.0,379.8 L648.6,379.8 L649.6,379.8 L650.6,380.1 L651.6,380.1 L652.6,380.1 L653.6,380.1 L654.6,380.2 L655.6,380.3 L656.6,380.4 L657.6,380.5 L658.6,380.5 L659.6,380.7 L660.6,380.8 L661.6,380.8 L662.6,380.7 L663.6,380.8 L664.6,381.0 L665.6,381.0 L666.6,381.1 L667.6,380.8 L668.6,380.8 L669.6,381.3 L670.6,381.4 L671.6,381.6 L672.6,381.6 L673.6,381.6 L674.6,381.6 L675.6,381.5 L676.0,381.8 L676.6,381.7 L677.6,382.1 L678.6,382.3 L679.6,382.5 L680.6,382.8 L681.6,382.8 L682.6,383.1 L683.6,383.2 L684.6,383.5 L685.6,384.0 L686.6,383.9 L687.6,384.4 L688.6,384.5 L689.6,384.7 L690.6,384.9 L691.6,384.9 L692.6,385.3 L693.6,385.7 L694.6,385.6 L695.6,385.9 L696.6,386.0 L697.6,386.4 L698.4,386.3 L698.6,386.7 L699.6,386.5 L700.6,386.4 L701.6,386.9 L702.6,386.8 L703.6,386.8 L704.6,386.8 L705.6,386.7 L706.6,386.8 L707.6,387.0 L708.6,387.1 L709.6,387.1 L710.6,387.0 L711.6,387.0 L712.6,387.1 L713.6,387.3 L714.6,387.4 L715.6,387.2 L716.6,387.2 L717.6,387.5 L718.6,387.5 L719.6,387.5 L720.6,387.2 L721.6,387.4 L722.6,387.4 L723.6,387.6 L724.6,387.3 L725.6,387.8 L726.6,387.7 L727.6,387.8 L728.6,387.6 L729.6,387.8 L730.6,388.0 L731.6,387.6 L732.0,387.9 L732.6,388.0 L733.6,387.9 L734.6,388.2 L735.6,388.0 L736.6,388.3 L737.6,388.3 L738.6,388.3 L739.6,388.6 L740.6,388.5 L741.6,388.6 L742.6,388.3 L743.6,388.4 L744.6,388.7 L745.6,388.7 L746.6,388.6 L747.6,388.8 L748.6,388.6 L749.6,388.8 L750.6,388.7 L751.6,388.9 L752.6,388.9 L753.6,388.9 L754.6,389.0 L755.6,389.4 L756.6,389.0 L757.6,389.1 L758.6,389.4 L759.6,389.2 L760.0,389.6 L760.6,389.5 L761.6,389.8 L762.6,390.2 L763.6,390.7 L764.6,390.9 L765.6,391.2 L766.6,391.5 L767.6,391.5 L768.6,392.0 L769.6,392.7 L769.8,392.6 L770.6,392.6 L771.6,392.7 L772.6,392.5 L773.6,392.7 L774.6,392.6 L775.6,392.8 L776.6,392.7 L777.6,392.8 L778.6,392.9 L779.6,392.9 L780.6,393.1 L781.6,393.1 L782.6,393.1 L783.6,393.3 L784.6,392.9 L785.6,392.9 L786.6,393.3 L787.6,393.4 L788.6,393.6 L789.6,393.5 L790.6,393.5 L791.6,393.3 L792.6,393.6 L793.6,393.6 L794.6,393.4 L795.6,393.5 L796.6,393.6 L797.6,393.7 L798.6,393.3 L799.6,393.8 L800.0,393.8 L800.6,393.8 L801.6,393.9 L802.6,393.9 L803.6,393.7 L804.6,393.9 L805.6,393.9 L806.6,393.8 L807.6,394.0 L808.6,394.2 L809.6,393.7 L810.6,393.7 L811.6,393.7 L812.6,394.3 L813.6,394.0 L814.6,394.0 L815.6,393.9 L816.6,393.9 L817.6,393.8 L818.6,394.1 L819.6,394.2 L820.6,393.8 L821.6,394.0 L822.6,394.1 L823.6,394.2 L824.6,394.2 L825.6,394.4 L826.6,394.4 L827.6,394.4 L828.6,394.5 L829.6,394.1 L830.6,394.2 L831.6,394.5 L832.6,394.4 L833.6,394.4 L834.6,394.1 L835.6,394.1 L836.6,394.5 L837.6,394.5 L838.6,394.4 L839.6,394.4 L840.6,394.2 L841.6,394.5 L842.0,394.7 L842.6,394.8 L843.6,394.7 L844.6,394.7 L845.6,394.7 L846.6,395.2 L847.6,395.4 L848.6,395.1 L849.6,395.4 L850.6,395.4 L851.6,395.4 L852.6,395.3 L853.6,395.7 L854.6,395.9 L855.6,395.7 L856.6,395.9 L857.6,395.7 L858.6,396.5 L859.6,396.5 L860.6,396.5 L861.6,396.6 L862.6,396.6 L863.6,396.8 L864.4,396.9 L864.6,396.9 L865.6,397.0 L866.6,397.1 L867.6,397.3 L868.6,396.9 L869.6,397.3 L870.6,397.2 L871.6,397.2 L872.6,397.1 L873.6,397.6 L874.6,397.4 L875.6,397.5 L876.6,397.7 L877.6,397.6 L878.6,397.8 L879.6,397.8 L880.6,398.0 L881.6,398.1 L882.6,397.9 L883.6,398.2 L884.6,398.1 L885.6,398.2 L886.6,398.3 L886.8,398.4 L887.6,398.1 L888.6,398.3 L889.6,398.4 L890.6,398.1 L891.6,398.4 L892.6,397.9 L893.6,398.0 L894.6,397.9 L895.6,397.8 L896.6,397.7 L897.6,397.8 L898.6,397.8 L899.6,397.6 L900.6,397.8 L900.8,397.9 L901.6,397.3 L902.6,397.5 L903.6,397.2 L904.6,397.0 L905.6,397.1 L906.6,396.7 L907.6,396.4 L907.8,396.3 L908.6,396.2 L909.6,396.8 L910.6,396.9 L911.6,397.2 L912.6,397.5 L913.6,397.8 L914.6,398.2 L915.6,398.3 L916.2,398.5 L916.6,398.2 L917.6,398.3 L918.6,398.3 L919.6,397.9 L920.6,398.4 L921.6,397.9 L922.6,397.8 L923.6,398.2 L924.6,398.2 L925.6,397.7 L926.6,397.7 L927.6,398.2 L928.6,397.7 L929.6,397.4 L930.6,397.5 L931.6,397.9 L932.6,397.6 L933.6,397.6 L934.6,397.6 L935.6,397.5 L936.6,397.3 L937.2,397.1 L937.6,397.4 L938.6,397.3 L939.6,397.6 L940.6,398.0 L941.6,398.0 L942.6,398.0 L943.6,398.2 L944.6,398.4 L945.6,398.6 L946.6,398.4 L947.6,398.7 L948.6,399.1 L949.6,399.1 L950.6,399.0 L951.6,399.1 L952.6,399.1 L953.6,399.4 L954.6,399.9 L955.6,399.8 L956.6,399.8 L957.6,400.0 L958.6,400.2 L959.6,400.3 L960.6,400.4 L961.0,400.4 L961.6,400.7 L962.6,401.1 L963.6,400.9 L964.6,401.2 L965.6,401.6 L966.6,401.4 L967.6,401.8 L968.6,402.0 L969.6,402.3 L970.6,402.4 L970.8,402.4 L971.6,402.6 L972.6,402.5 L973.6,402.4 L974.6,402.5 L975.6,403.0 L976.6,402.7 L977.6,403.1 L978.6,403.2 L979.6,403.2 L980.6,403.2 L981.6,403.2 L982.0,403.3 L982.6,403.5 L983.6,403.8 L984.6,404.6 L985.6,404.8 L986.6,405.6 L987.6,405.9 L988.6,406.2 L989.0,406.5 L989.6,406.7 L990.6,406.4 L991.6,406.7 L992.6,406.8 L993.6,407.1 L994.6,407.3 L995.6,407.4 L996.6,407.4 L997.6,407.6 L998.6,408.0 L999.6,408.2 L1000.2,408.1 L1000.6,408.0 L1001.6,408.6 L1002.6,408.9 L1003.6,409.2 L1004.6,409.7 L1005.6,409.9 L1006.6,410.0 L1007.6,410.3 L1008.6,411.0 L1009.6,411.1 L1010.6,411.5 L1011.6,411.7 L1012.6,411.9 L1013.6,412.4 L1014.6,412.9 L1015.6,413.0 L1016.6,413.1 L1017.0,413.4 L1017.6,413.4 L1018.6,413.6 L1019.6,413.8 L1020.6,414.1 L1021.6,413.9 L1022.6,413.9 L1023.6,414.1 L1024.6,414.2 L1025.6,414.2 L1026.6,414.3 L1027.6,414.4 L1028.6,414.4 L1029.6,414.7 L1030.6,414.7 L1031.6,414.7 L1032.6,415.0 L1033.6,415.0 L1034.6,415.4 L1035.6,415.3 L1036.6,415.3 L1037.6,415.3 L1038.6,415.4 L1039.6,415.7 L1040.6,415.6 L1041.6,415.9 L1042.6,415.6 L1043.6,416.0 L1044.6,416.2 L1045.6,416.2 L1046.6,416.3 L1047.6,416.5 L1048.6,416.3 L1049.6,416.4 L1050.0,416.6 L1050.6,416.9 L1051.6,417.0 L1052.6,417.0 L1053.6,417.3 L1054.6,417.5 L1055.6,417.4 L1056.6,417.3 L1057.6,417.8 L1058.6,417.9 L1059.6,418.2 L1060.6,418.3 L1061.6,418.5 L1062.6,418.9 L1063.6,419.0 L1064.6,419.1 L1065.6,419.6 L1066.6,419.4 L1066.8,419.5 L1067.6,419.7 L1068.6,419.4 L1069.6,419.3 L1070.6,419.8 L1071.6,419.6 L1072.6,419.7 L1073.6,419.7 L1074.6,419.7 L1075.6,419.6 L1076.6,419.6 L1077.6,419.5 L1078.6,419.7 L1079.6,419.7 L1080.6,419.6 L1081.6,419.8 L1082.6,420.2 L1083.6,419.6 L1084.6,419.9 L1085.6,419.9 L1086.6,419.9 L1087.6,419.7 L1088.6,420.0 L1089.6,419.9 L1090.6,419.8 L1091.6,419.8 L1092.6,419.9 L1093.6,420.0 L1094.6,420.0 L1095.6,420.2 L1096.6,419.8 L1097.6,420.0 L1098.6,419.9 L1099.0,420.0 L1099.6,420.0 L1100.6,419.9 L1101.6,419.9 L1102.6,420.0 L1103.6,420.3 L1104.6,420.5 L1105.6,420.5 L1106.6,420.3 L1107.6,420.4 L1108.6,420.6 L1109.6,420.6 L1110.6,420.7 L1111.6,420.9 L1112.6,420.9 L1113.6,420.8 L1114.6,420.7 L1115.6,421.0 L1116.6,420.8 L1117.6,421.1 L1118.6,421.3 L1119.6,421.1 L1120.0,421.3 L1120.6,421.3 L1121.6,421.7 L1122.6,421.6 L1123.6,421.4 L1124.6,421.8 L1125.6,421.9 L1126.6,421.9 L1127.6,422.0 L1128.6,422.2 L1129.6,422.4 L1130.6,422.4 L1131.6,422.3 L1132.6,422.5 L1133.6,422.4 L1134.0,422.5 L1134.6,422.5 L1135.6,422.2 L1136.6,422.1 L1137.6,422.3 L1138.6,421.8 L1139.6,421.4 L1140.6,421.0 L1141.0,421.2 L1141.6,421.1 L1142.6,421.1 L1143.6,421.7 L1144.6,421.6 L1145.6,421.9 L1146.6,422.4 L1147.6,422.1 L1148.6,422.2 L1149.6,422.3 L1150.6,422.3 L1151.6,422.4 L1152.6,422.6 L1153.6,422.9 L1154.6,422.8 L1155.6,422.7 L1156.6,422.9 L1157.6,423.0 L1158.6,423.3 L1159.6,423.5 L1160.6,423.6 L1161.6,423.8 L1162.6,423.7 L1163.6,424.0 L1164.6,424.0 L1165.6,424.2 L1166.6,423.9 L1167.6,424.5 L1168.6,424.2 L1169.0,424.3 L1169.6,424.7 L1170.6,424.6 L1171.6,425.0 L1172.6,424.9 L1173.6,424.8 L1174.6,425.1 L1175.6,425.1 L1176.6,425.5 L1177.6,425.6 L1178.6,425.5 L1179.6,425.4 L1180.6,425.6 L1181.6,425.9 L1182.6,425.7 L1183.6,425.8 L1184.6,426.1 L1185.6,426.2 L1186.6,426.1 L1187.6,426.2 L1188.6,426.1 L1189.6,426.6 L1190.0,426.5 L1190.6,426.2 L1191.6,426.2 L1192.6,426.1 L1193.6,426.5 L1194.6,426.2 L1195.6,425.8 L1196.6,426.2 L1197.6,426.1 L1198.6,425.6 L1199.6,425.3 L1200.6,425.8 L1201.6,425.4 L1202.6,425.4 L1203.6,425.3 L1204.6,425.5 L1205.6,425.4 L1206.6,425.2 L1206.8,425.1 L1207.6,425.2 L1208.6,425.2 L1209.6,424.9 L1210.6,425.4 L1211.6,425.2 L1212.6,425.3 L1213.6,425.3 L1214.6,425.5 L1215.6,425.5 L1216.6,425.7 L1217.6,425.4 L1218.6,425.3 L1219.6,425.5 L1220.6,425.4 L1221.6,425.6 L1222.6,425.4 L1223.6,425.6 L1224.6,425.7 L1225.6,425.8 L1226.6,425.7 L1227.6,425.9 L1228.6,425.9 L1229.6,425.5 L1230.6,425.8 L1231.6,425.8 L1232.6,425.8 L1233.6,425.8 L1234.6,425.9 L1235.6,426.0 L1236.6,426.0 L1237.6,426.2 L1238.6,426.1 L1239.6,425.9 L1240.6,425.9 L1241.6,426.2 L1242.6,426.0 L1243.6,426.2 L1244.6,426.2 L1245.6,426.3 L1246.0,426.3 L1246.6,426.5 L1247.6,426.2 L1248.6,426.5 L1249.6,426.3 L1250.6,426.5 L1251.6,426.5 L1252.6,426.4 L1253.6,426.2 L1254.6,426.8 L1255.6,426.8 L1256.6,426.8 L1257.6,426.7 L1258.6,426.9 L1259.6,427.0 L1260.6,427.0 L1261.6,427.2 L1262.6,427.1 L1263.6,427.1 L1264.6,427.3 L1265.6,427.2 L1266.6,427.4 L1267.6,427.1 L1268.6,427.4 L1269.6,427.6 L1270.6,427.5 L1271.2,427.6 L1271.6,427.7 L1272.6,427.5 L1273.6,427.7 L1274.6,427.4 L1275.6,427.3 L1276.6,427.3 L1277.6,427.0 L1278.6,427.0 L1279.6,427.2 L1280.6,427.1 L1281.6,427.3 L1282.6,427.0 L1283.6,426.9 L1284.6,427.1 L1285.6,426.9 L1286.6,427.0 L1287.6,426.6 L1288.6,426.8 L1289.6,426.7 L1290.6,426.7 L1291.6,426.7 L1292.6,426.6 L1293.6,426.4 L1294.6,426.3 L1295.6,426.5 L1296.6,426.3 L1297.6,426.4 L1298.6,426.4 L1299.6,426.2 L1300.0,426.0 L1300.6,426.1 L1301.6,426.2 L1302.6,426.0 L1303.6,426.2 L1304.6,426.0 L1305.6,425.9 L1306.6,425.8 L1307.6,425.8 L1308.6,426.0 L1309.6,425.7 L1310.6,425.7 L1311.6,425.6 L1312.6,425.8 L1313.6,425.4 L1314.6,425.5 L1315.6,425.7 L1316.6,425.7 L1317.6,425.5 L1318.6,425.6 L1319.6,425.1 L1320.6,425.5 L1321.6,425.4 L1322.6,425.1 L1323.6,425.0 L1324.6,425.2 L1325.6,425.3 L1326.6,425.2 L1327.6,425.2 L1328.6,425.2 L1328.8,425.2 L1329.6,424.7 L1330.6,424.5 L1331.6,424.2 L1332.6,424.2 L1333.6,423.7 L1334.6,423.6 L1335.6,423.2 L1336.6,423.2 L1337.6,422.6 L1338.6,422.3 L1339.6,422.0 L1340.6,421.8 L1341.6,421.8 L1342.6,421.1 L1343.6,420.7 L1344.6,420.6 L1345.6,420.4 L1346.6,419.9 L1347.6,419.8 L1348.0,419.7 L1348.6,419.5 L1349.6,419.2 L1350.6,418.9 L1351.6,418.8 L1352.6,418.5 L1353.6,418.6 L1354.6,418.4 L1355.6,417.9 L1356.6,417.8 L1357.6,417.3 L1358.6,417.3 L1359.6,417.2 L1360.6,417.0 L1361.6,416.7 L1362.6,416.6 L1363.6,416.3 L1364.6,416.0 L1365.6,416.1 L1366.6,415.3 L1367.2,415.3 L1367.6,415.4 L1368.6,415.3 L1369.6,415.3 L1370.6,415.3 L1371.6,415.2 L1372.6,415.2 L1373.6,415.3 L1374.6,415.2 L1375.6,415.1 L1376.6,414.9 L1377.6,414.8 L1378.6,414.9 L1379.6,415.0 L1380.6,414.9 L1381.6,415.0 L1382.6,414.9 L1383.6,414.9 L1384.6,414.5 L1385.6,414.8 L1386.6,414.7 L1387.6,414.8 L1388.6,414.6 L1389.6,414.5 L1390.6,414.4 L1391.6,414.4 L1392.6,414.0 L1393.6,414.2 L1394.6,414.2 L1395.6,414.3 L1396.6,414.0 L1397.6,414.1 L1398.6,414.3 L1399.6,413.9 L1400.6,414.0 L1401.6,413.8 L1402.6,413.8 L1403.6,413.8 L1404.6,413.8 L1405.6,413.6 L1406.6,413.5 L1407.6,413.8 L1408.6,413.5 L1409.6,413.6 L1410.6,413.6 L1411.6,413.5 L1412.6,413.3 L1413.6,413.3 L1414.6,413.0 L1415.6,413.2 L1416.6,413.1 L1417.6,413.1 L1418.6,413.3 L1419.6,413.1 L1420.6,413.0 L1421.6,412.7 L1422.6,413.0 L1423.6,413.0 L1424.6,412.6 L1425.6,412.8 L1426.6,412.6 L1427.6,412.6 L1428.6,412.5 L1429.6,412.3 L1430.6,412.4 L1431.6,412.2 L1432.0,412.6 L1432.6,412.4 L1433.6,412.0 L1434.6,411.7 L1435.6,411.4 L1436.6,411.1 L1437.6,410.9 L1438.6,410.5 L1439.6,410.3 L1440.6,409.8 L1441.6,409.6 L1442.6,409.4 L1443.6,409.2 L1444.6,408.8 L1445.6,408.9 L1446.6,408.3 L1447.6,408.0 L1448.6,407.8 L1449.6,407.6 L1450.6,407.5 L1451.6,407.1 L1452.6,406.6 L1453.5,406.4 L1453.6,406.5 L1454.6,405.5 L1455.6,404.8 L1456.6,403.8 L1457.6,403.2 L1458.6,402.4 L1459.6,401.5 L1460.6,400.6 L1461.6,399.5 L1462.6,398.7 L1463.6,398.1 L1464.6,397.3 L1465.6,396.0 L1466.6,395.5 L1467.6,394.9 L1468.0,394.5 L1468.6,393.9 L1469.6,393.4 L1470.6,392.6 L1471.6,391.9 L1472.6,391.4 L1473.6,390.7 L1474.6,389.8 L1475.6,389.0 L1476.6,388.3 L1477.6,387.6 L1478.6,387.3 L1479.6,386.7 L1480.6,385.7 L1481.6,385.2 L1482.6,384.2 L1483.6,383.6 L1484.6,383.1 L1485.6,382.3 L1486.6,381.5 L1487.1,381.0 L1487.6,380.8 L1488.6,380.6 L1489.6,380.2 L1490.6,379.8 L1491.6,379.4 L1492.6,379.0 L1493.6,378.7 L1494.6,378.4 L1495.6,377.9 L1496.6,377.4 L1497.6,377.1 L1498.6,376.9 L1499.6,376.3 L1500.6,375.8 L1501.6,375.4 L1502.6,375.2 L1503.6,374.9 L1503.9,374.9 L1504.6,374.3 L1505.6,374.0 L1506.6,373.1 L1507.6,372.6 L1508.6,372.0 L1509.6,371.6 L1510.6,371.1 L1511.6,370.4 L1512.6,369.8 L1513.6,369.1 L1514.6,368.8 L1515.6,368.1 L1515.9,368.0 L1516.6,367.8 L1517.6,367.5 L1518.6,367.3 L1519.6,367.2 L1520.6,367.1 L1521.6,366.7 L1522.6,366.5 L1523.6,366.2 L1524.6,366.0 L1525.6,365.6 L1526.6,365.7 L1527.6,365.5 L1528.6,365.4 L1529.6,364.8 L1530.6,364.7 L1531.6,364.4 L1532.6,364.3 L1533.6,364.0 L1534.6,363.9 L1535.6,363.6 L1536.6,363.5 L1537.6,363.1 L1538.6,363.0 L1539.6,362.6 L1540.0,362.5 L1540.6,362.5 L1541.6,362.5 L1542.6,362.1 L1543.6,361.9 L1544.6,362.0 L1545.6,361.9 L1546.6,361.5 L1547.6,361.4 L1548.6,361.4 L1549.6,361.4 L1550.6,361.3 L1551.6,361.3 L1552.6,361.2 L1553.6,361.2 L1554.6,360.5 L1555.6,360.6 L1556.6,360.6 L1557.6,360.2 L1558.6,360.0 L1559.6,360.1 L1560.6,359.8 L1561.6,359.4 L1562.6,358.6 L1563.6,358.2 L1564.6,357.9 L1565.6,357.5 L1566.6,357.2 L1567.6,356.7 L1568.6,356.5 L1569.4,355.9 L1569.6,355.9 L1570.6,355.8 L1571.6,355.9 L1572.6,355.4 L1573.6,355.6 L1574.6,355.3 L1575.6,355.1 L1576.6,355.4 L1577.6,355.2 L1578.6,355.2 L1579.6,355.0 L1580.6,355.0 L1581.6,354.8 L1582.6,354.8 L1583.6,354.5 L1584.6,354.7 L1585.6,354.3 L1586.6,354.5 L1587.6,354.2 L1588.6,354.0 L1589.6,353.6 L1590.6,353.4 L1591.6,353.3 L1592.6,352.8 L1593.6,352.3 L1594.6,352.2 L1595.6,352.0 L1596.6,351.2 L1597.6,351.4 L1598.6,351.2 L1599.6,350.5 L1600.6,350.4 L1601.6,350.3 L1602.6,349.7 L1603.6,349.5 L1604.6,349.2 L1605.6,349.0 L1605.8,349.1 L1606.6,348.8 L1607.6,348.8 L1608.6,348.8 L1609.6,348.6 L1610.6,348.5 L1611.6,348.6 L1612.6,348.1 L1613.6,348.2 L1614.6,348.1 L1615.6,348.0 L1616.6,348.0 L1617.0,347.9 L1617.6,348.2 L1618.6,347.9 L1619.6,347.8 L1620.6,348.0 L1621.6,347.9 L1622.6,347.4 L1623.6,347.6 L1624.6,347.7 L1625.6,347.4 L1626.6,347.5 L1627.6,347.4 L1628.6,347.5 L1629.6,347.1 L1630.6,347.0 L1631.6,347.2 L1632.6,347.3 L1633.6,347.4 L1634.6,347.1 L1635.6,347.0 L1636.6,347.2 L1637.6,347.0 L1638.6,347.2 L1639.6,346.9 L1640.6,346.6 L1641.6,346.7 L1642.6,346.7 L1643.6,346.5 L1644.6,346.6 L1645.6,346.6 L1646.6,346.6 L1647.6,346.5 L1648.6,346.6 L1649.2,346.6 L1649.6,346.4 L1650.6,346.1 L1651.6,345.4 L1652.6,345.1 L1653.6,344.9 L1654.6,344.8 L1655.6,344.2 L1656.6,344.0 L1657.6,343.8 L1658.6,343.7 L1659.6,343.1 L1660.6,342.7 L1661.6,342.6 L1662.6,342.1 L1663.2,341.9 L1663.6,342.1 L1664.6,341.7 L1665.6,341.8 L1666.6,341.8 L1667.6,341.9 L1668.6,341.5 L1669.6,341.5 L1670.6,341.6 L1671.6,341.6 L1672.6,341.6 L1673.6,341.5 L1674.6,341.6 L1675.6,341.6 L1676.6,341.5 L1677.6,341.2 L1678.6,341.5 L1679.6,341.1 L1680.0,341.3 L1680.6,341.4 L1681.6,341.2 L1682.6,341.4 L1683.6,341.5 L1684.6,341.4 L1685.6,341.2 L1686.6,341.3 L1687.6,341.0 L1688.6,341.1 L1689.6,341.1 L1690.6,341.0 L1691.6,341.0 L1692.6,340.9 L1693.6,340.6 L1694.6,340.9 L1695.6,340.9 L1696.6,341.1 L1697.6,340.9 L1698.6,340.8 L1699.6,340.9 L1700.6,340.8 L1701.6,340.7 L1702.6,340.6 L1703.6,340.4 L1704.6,340.6 L1705.6,340.8 L1706.6,340.3 L1707.6,340.4 L1708.0,340.6 L1708.6,340.4 L1709.6,340.3 L1710.6,339.8 L1711.6,339.8 L1712.6,339.8 L1713.6,339.6 L1714.6,340.0 L1715.6,340.2 L1716.6,340.8 L1717.6,341.0 L1718.6,341.4 L1719.6,341.8 L1720.6,342.6 L1721.6,342.8 L1722.0,343.0 L1722.6,342.4 L1723.6,342.5 L1724.6,342.0 L1724.8,341.7 L1725.6,342.0 L1726.6,342.9 L1727.6,342.9 L1728.6,343.7 L1729.6,343.7 L1730.4,343.7" stroke="#9467bd" stroke-width="2.7"/>
<path d="M319.6,374.4 L320.6,374.4 L321.6,373.6 L322.6,373.9 L323.6,374.0 L324.6,373.9 L325.6,373.7 L326.6,373.8 L327.6,373.5 L328.6,373.4 L329.6,373.3 L330.6,373.0 L331.6,372.9 L332.6,373.0 L333.6,372.8 L334.6,372.9 L335.6,372.9 L336.6,372.8 L337.6,372.5 L338.6,372.6 L339.6,372.1 L340.6,372.1 L341.6,372.1 L342.6,372.0 L343.6,371.6 L344.6,371.5 L345.6,371.8 L346.6,371.5 L347.6,371.7 L348.6,371.5 L349.6,371.4 L350.6,371.2 L351.6,371.3 L351.8,371.1 L352.6,371.0 L353.6,370.4 L354.6,370.1 L355.6,369.6 L356.6,369.5 L357.6,369.0 L358.6,368.5 L358.8,368.9 L359.6,368.5 L360.6,368.4 L361.6,368.5 L362.6,368.6 L363.6,368.2 L364.6,368.3 L365.6,368.1 L366.6,367.8 L367.6,368.1 L368.6,368.0 L369.6,367.8 L370.6,367.7 L371.6,367.4 L372.6,367.3 L373.6,367.4 L374.6,367.5 L375.6,367.3 L376.6,367.3 L377.6,367.3 L378.6,367.1 L379.6,367.1 L380.6,367.2 L381.6,366.7 L382.6,366.9 L383.6,366.5 L384.6,366.7 L385.6,366.6 L386.6,366.5 L387.6,366.3 L388.6,366.4 L389.6,366.2 L390.6,366.2 L391.6,366.0 L392.4,366.2 L392.6,365.9 L393.6,365.7 L394.6,365.3 L395.6,365.2 L396.6,364.5 L397.6,364.3 L398.6,364.2 L399.6,363.6 L400.6,363.2 L400.8,363.3 L401.6,363.1 L402.6,363.2 L403.6,362.8 L404.6,362.8 L405.6,362.7 L406.6,362.6 L407.6,362.2 L408.6,362.4 L409.6,361.9 L410.6,361.7 L411.6,361.6 L412.6,361.6 L413.6,361.4 L414.6,361.4 L414.8,361.4 L415.6,361.3 L416.6,361.1 L417.6,361.4 L418.6,360.7 L419.6,360.7 L420.6,360.8 L421.6,360.6 L422.6,360.4 L423.6,360.6 L424.6,360.5 L425.6,360.2 L426.6,360.6 L427.6,360.6 L428.6,360.5 L429.6,360.2 L430.2,360.2 L430.6,359.8 L431.6,359.5 L432.6,358.9 L433.6,358.6 L434.6,357.9 L435.6,357.7 L436.6,357.1 L437.6,356.7 L438.6,355.8 L439.6,355.5 L440.6,355.6 L441.6,355.2 L442.6,355.1 L443.6,354.9 L444.6,354.6 L445.6,354.5 L446.6,354.2 L447.6,353.9 L448.6,353.5 L449.6,353.7 L450.6,353.2 L451.6,353.1 L452.6,352.7 L453.6,352.6 L454.6,352.2 L455.6,352.0 L456.6,351.8 L457.6,351.4 L458.6,351.2 L459.6,351.0 L460.6,350.8 L461.6,350.4 L462.6,350.7 L463.6,349.9 L464.6,349.8 L465.2,350.1 L465.6,349.5 L466.6,349.6 L467.6,349.5 L468.6,349.2 L469.6,348.9 L470.6,348.7 L471.6,348.8 L472.6,348.7 L473.6,348.2 L474.6,348.4 L475.0,348.2 L475.6,348.5 L476.6,348.6 L477.6,348.6 L478.6,348.8 L479.6,349.0 L480.6,349.4 L481.6,349.8 L482.6,349.5 L483.6,349.6 L484.6,349.9 L485.6,349.9 L486.6,350.2 L487.6,350.3 L488.6,350.4 L489.6,350.4 L490.6,350.7 L491.6,351.0 L492.6,351.0 L493.6,351.4 L494.6,351.4 L495.6,351.4 L496.0,351.8 L496.6,351.5 L497.6,352.0 L498.6,352.4 L499.6,352.2 L500.6,352.5 L501.6,352.9 L502.6,353.1 L503.6,353.2 L504.6,353.4 L505.6,353.7 L506.6,353.8 L507.2,353.7 L507.6,353.9 L508.6,354.0 L509.6,353.8 L510.6,354.2 L511.6,354.1 L512.6,354.4 L513.6,354.1 L514.6,354.2 L515.6,354.2 L516.6,354.7 L517.6,354.7 L518.6,354.8 L519.6,354.9 L520.6,354.9 L521.6,354.9 L522.6,354.6 L523.6,354.9 L524.0,354.8 L524.6,354.8 L525.6,354.6 L526.6,354.9 L527.6,354.7 L528.6,354.4 L529.6,354.6 L530.6,354.4 L531.6,354.2 L532.6,354.3 L533.6,354.1 L534.6,353.8 L535.6,353.9 L536.6,354.1 L537.6,354.0 L538.0,353.9 L538.6,353.6 L539.6,353.6 L540.6,353.5 L541.6,353.4 L542.6,353.0 L543.6,352.9 L544.6,353.0 L545.6,352.7 L546.6,352.5 L547.6,352.3 L548.6,352.1 L549.6,352.3 L550.0,352.1 L550.6,351.9 L551.6,351.8 L552.6,352.2 L553.6,352.2 L554.6,352.1 L555.6,352.0 L556.3,351.6 L556.6,351.8 L557.6,352.4 L558.6,352.6 L559.6,353.0 L560.6,353.2 L561.6,353.5 L562.6,353.9 L563.6,354.1 L564.0,354.3 L564.6,354.4 L565.6,354.5 L566.6,354.8 L567.6,354.9 L568.6,354.6 L569.6,354.9 L570.6,354.9 L571.6,355.3 L572.6,355.1 L573.6,355.5 L574.6,355.6 L575.6,355.7 L576.6,355.6 L577.6,356.1 L578.6,356.4 L579.6,357.1 L580.6,357.6 L581.6,357.7 L582.6,358.3 L583.6,358.8 L584.6,359.2 L585.6,359.9 L586.6,360.1 L587.6,360.6 L587.8,360.5 L588.6,361.0 L589.6,360.9 L590.6,361.1 L591.6,361.1 L592.6,360.8 L593.6,361.0 L594.6,361.1 L595.6,361.5 L596.6,361.4 L597.6,361.7 L598.6,361.8 L599.6,361.8 L600.6,362.0 L601.6,362.0 L602.6,361.8 L603.6,362.1 L604.6,362.5 L605.6,362.2 L606.0,362.6 L606.6,362.8 L607.6,362.8 L608.6,363.3 L609.6,363.3 L610.6,364.0 L611.6,364.0 L612.6,364.3 L613.6,364.7 L614.6,365.0 L615.6,365.3 L616.6,365.7 L617.2,365.9 L617.6,365.8 L618.6,366.1 L619.6,366.4 L620.6,366.2 L621.6,366.1 L622.6,366.2 L623.6,366.5 L624.6,366.4 L625.6,366.5 L626.6,366.3 L627.6,366.5 L628.6,366.6 L629.6,367.0 L630.6,366.9 L631.6,366.6 L632.6,367.1 L633.6,367.3 L634.6,367.4 L635.6,366.9 L636.6,367.4 L637.6,367.6 L638.6,367.6 L639.6,367.6 L640.6,367.4 L641.0,367.6 L641.6,367.8 L642.6,368.1 L643.6,368.4 L644.6,368.4 L645.6,368.8 L646.6,368.7 L647.6,369.0 L648.6,369.3 L649.6,369.6 L650.6,369.7 L651.6,370.2 L652.2,370.2 L652.6,370.0 L653.6,370.4 L654.6,370.4 L655.6,370.6 L656.6,370.7 L657.6,371.3 L658.6,371.5 L659.6,371.3 L660.6,371.9 L661.6,372.0 L662.6,372.0 L663.6,372.3 L664.6,372.8 L665.6,372.7 L666.6,372.9 L667.6,373.2 L668.6,373.1 L669.0,373.1 L669.6,373.1 L670.6,373.4 L671.6,373.6 L672.6,373.3 L673.6,373.3 L674.6,373.6 L675.6,373.6 L676.6,373.8 L677.6,373.7 L678.6,373.7 L679.6,373.8 L680.6,373.9 L681.6,373.8 L682.6,373.8 L683.6,374.3 L684.6,374.5 L685.6,374.3 L686.6,373.9 L687.6,374.2 L688.6,374.4 L689.6,374.1 L690.6,374.3 L691.6,374.3 L692.6,374.3 L693.6,374.4 L694.6,374.7 L695.6,374.5 L696.6,374.6 L697.6,375.0 L698.6,374.6 L699.6,374.5 L700.6,374.9 L701.6,375.2 L702.6,375.0 L703.6,375.0 L704.0,374.8 L704.6,375.0 L705.6,375.6 L706.6,375.8 L707.6,376.0 L708.6,376.1 L709.6,376.2 L710.6,376.5 L711.6,376.7 L712.4,377.2 L712.6,377.0 L713.6,377.2 L714.6,377.4 L715.6,377.5 L716.6,377.6 L717.6,377.7 L718.6,377.8 L719.6,377.6 L720.6,378.0 L721.6,378.0 L722.6,378.1 L723.6,378.3 L724.6,378.3 L725.6,378.7 L726.6,378.6 L727.6,378.8 L728.6,378.9 L729.6,378.9 L730.6,379.1 L731.6,379.3 L732.0,379.3 L732.6,379.1 L733.6,379.2 L734.6,379.3 L735.6,379.4 L736.6,379.2 L737.6,379.4 L738.6,379.4 L739.6,379.6 L740.6,379.6 L741.6,379.9 L742.6,379.9 L743.6,380.0 L744.6,379.8 L745.6,379.9 L746.6,380.0 L747.6,380.4 L748.6,380.5 L749.6,380.2 L750.6,380.4 L751.6,380.7 L752.6,380.3 L753.6,380.5 L754.6,380.8 L755.6,380.7 L756.6,380.5 L757.6,381.0 L758.6,381.0 L759.6,381.0 L760.0,380.7 L760.6,380.9 L761.6,381.2 L762.6,381.1 L763.6,381.2 L764.6,381.1 L765.6,381.4 L766.6,381.2 L767.6,381.4 L768.6,381.4 L769.6,381.3 L770.6,381.7 L771.6,381.3 L772.6,381.5 L773.6,381.6 L774.6,381.5 L775.6,381.5 L776.6,381.8 L777.6,381.8 L778.6,381.9 L779.6,382.0 L780.6,382.3 L781.6,382.0 L782.6,382.5 L783.6,382.2 L784.6,382.2 L785.6,381.9 L786.6,382.1 L787.6,382.4 L788.6,382.5 L789.6,382.4 L790.6,382.6 L791.6,382.7 L792.6,382.6 L793.6,382.5 L794.6,382.8 L795.6,383.2 L796.6,383.6 L797.6,383.9 L798.6,384.0 L799.6,384.4 L800.0,384.5 L800.6,384.5 L801.6,384.6 L802.6,384.7 L803.6,384.4 L804.6,384.3 L805.6,384.3 L806.6,384.3 L807.6,384.3 L808.6,384.3 L809.6,384.3 L810.6,384.2 L811.6,384.2 L812.6,384.3 L813.6,384.7 L814.0,384.4 L814.6,384.6 L815.6,384.9 L816.6,385.1 L817.6,385.8 L818.2,385.6 L818.6,385.5 L819.6,385.5 L820.6,385.6 L821.6,385.4 L822.6,385.4 L823.6,385.4 L824.6,385.3 L825.6,385.5 L826.6,385.2 L827.6,385.7 L828.6,385.0 L829.6,385.1 L830.6,385.3 L831.6,385.3 L832.6,385.2 L833.6,385.3 L834.6,385.2 L835.6,385.2 L836.6,385.2 L837.6,385.1 L837.8,385.1 L838.6,385.3 L839.6,385.8 L840.6,386.0 L841.6,386.5 L842.0,386.7 L842.6,386.6 L843.6,386.8 L844.6,386.6 L845.6,386.7 L846.6,386.8 L847.6,386.8 L848.6,386.9 L849.6,387.1 L850.6,386.9 L851.6,386.9 L852.6,387.1 L853.6,386.8 L854.6,387.1 L855.6,387.3 L856.6,387.2 L857.6,387.3 L858.6,387.3 L859.6,387.5 L860.6,387.5 L861.6,387.5 L862.6,387.0 L863.0,387.4 L863.6,387.6 L864.6,387.5 L865.6,387.4 L866.6,387.7 L867.6,387.4 L868.6,387.5 L869.6,387.7 L870.6,387.5 L871.6,387.6 L872.6,387.6 L873.6,387.5 L874.6,387.6 L875.6,387.6 L876.6,387.6 L877.6,387.9 L878.6,387.7 L879.6,387.6 L880.6,387.5 L881.6,387.7 L882.6,388.0 L883.6,387.7 L884.6,387.9 L885.6,387.9 L886.6,387.7 L887.6,387.7 L888.6,387.9 L889.6,387.6 L890.6,388.0 L891.0,387.7 L891.6,388.0 L892.6,387.7 L893.6,387.7 L894.6,387.8 L895.6,387.4 L896.6,387.4 L897.6,387.3 L898.6,387.3 L899.6,387.3 L900.6,387.2 L900.8,387.1 L901.6,387.0 L902.6,387.2 L903.6,387.1 L904.6,387.2 L905.6,387.2 L906.6,387.0 L907.6,387.1 L908.6,387.3 L909.6,387.3 L910.6,387.5 L911.6,386.9 L912.6,387.3 L913.6,387.5 L914.6,387.4 L915.6,387.5 L916.6,387.4 L917.6,387.4 L918.6,387.6 L919.6,387.3 L920.6,387.1 L921.6,387.6 L922.6,387.5 L923.6,387.5 L924.6,387.6 L925.6,387.7 L926.6,387.5 L927.6,387.7 L928.6,387.7 L929.6,387.5 L930.6,387.6 L931.6,387.7 L932.6,387.6 L933.6,387.9 L934.6,387.7 L935.6,387.9 L936.6,388.0 L937.6,387.6 L938.6,387.6 L939.6,387.9 L940.6,387.8 L941.6,387.9 L942.6,388.1 L943.6,387.8 L944.6,388.0 L945.6,387.9 L946.6,387.9 L947.6,388.0 L948.6,388.0 L949.6,388.2 L950.6,388.1 L951.6,388.2 L952.6,388.1 L953.6,387.8 L954.6,388.1 L955.6,388.1 L956.6,388.3 L957.6,388.0 L958.6,388.2 L959.6,388.1 L960.6,388.5 L961.6,389.3 L962.6,389.9 L963.6,390.3 L964.6,391.0 L965.6,391.5 L966.6,392.0 L967.6,392.5 L968.6,393.0 L969.4,393.6 L969.6,393.5 L970.6,393.4 L971.6,393.6 L972.6,393.7 L973.6,393.8 L974.6,393.8 L975.6,393.6 L976.6,393.9 L977.6,393.6 L978.6,393.8 L979.6,393.8 L980.6,394.2 L981.6,394.1 L982.6,394.1 L983.6,394.0 L984.6,394.3 L984.8,394.1 L985.6,394.4 L986.6,394.7 L987.6,394.8 L988.6,395.1 L989.6,395.0 L990.6,395.6 L991.6,395.5 L992.6,396.1 L993.6,396.3 L994.6,396.6 L995.6,397.1 L996.6,396.7 L997.6,397.4 L998.6,397.5 L999.6,397.9 L1000.6,398.1 L1001.6,398.3 L1002.6,398.5 L1003.6,398.7 L1004.6,399.1 L1005.6,399.1 L1006.6,399.7 L1007.2,399.6 L1007.6,399.8 L1008.6,399.6 L1009.6,400.0 L1010.6,399.9 L1011.6,400.2 L1012.6,400.3 L1013.6,400.1 L1014.6,400.3 L1015.6,400.4 L1016.6,400.7 L1017.6,400.3 L1018.6,400.7 L1019.6,400.7 L1020.6,400.6 L1021.6,400.8 L1022.6,400.8 L1023.6,401.2 L1024.6,400.9 L1025.6,401.3 L1026.6,401.2 L1027.6,401.4 L1028.6,401.1 L1029.6,401.4 L1030.6,401.6 L1031.6,401.5 L1032.6,401.5 L1033.6,401.8 L1034.6,402.0 L1035.2,401.9 L1035.6,402.0 L1036.6,402.3 L1037.6,402.4 L1038.6,402.9 L1039.6,403.2 L1040.6,403.1 L1041.6,403.7 L1042.6,403.9 L1043.6,404.0 L1044.6,404.4 L1045.6,404.7 L1046.6,405.0 L1047.6,405.2 L1048.6,405.2 L1049.6,405.7 L1050.0,405.4 L1050.6,405.8 L1051.6,405.9 L1052.6,406.0 L1053.6,405.8 L1054.6,406.3 L1055.6,406.4 L1056.6,406.3 L1057.6,406.2 L1058.6,406.5 L1059.6,406.5 L1060.6,406.4 L1061.6,406.7 L1062.6,407.2 L1063.6,406.8 L1064.6,407.0 L1065.6,407.2 L1066.6,407.4 L1066.8,407.2 L1067.6,407.1 L1068.6,407.2 L1069.6,407.0 L1070.6,407.0 L1071.6,406.5 L1072.6,406.6 L1073.6,406.6 L1074.6,406.3 L1075.6,406.0 L1076.6,406.1 L1077.6,405.7 L1078.0,405.8 L1078.6,406.0 L1079.6,406.1 L1080.6,406.0 L1081.6,406.1 L1082.6,405.8 L1083.6,406.0 L1084.6,406.2 L1085.6,406.5 L1086.6,406.2 L1087.6,406.0 L1088.6,406.1 L1089.6,406.4 L1090.6,406.4 L1091.6,406.1 L1092.6,406.3 L1093.6,406.6 L1094.6,406.6 L1095.6,406.3 L1096.6,406.4 L1097.6,406.5 L1098.6,406.3 L1099.6,406.3 L1100.6,406.4 L1101.6,406.8 L1102.6,406.8 L1103.6,406.7 L1104.6,406.5 L1105.6,406.4 L1106.6,406.6 L1107.6,406.7 L1108.6,406.9 L1109.6,406.7 L1110.6,406.8 L1111.6,406.6 L1112.6,406.6 L1113.0,406.9 L1113.6,406.8 L1114.6,407.0 L1115.6,406.9 L1116.6,407.6 L1117.6,407.3 L1118.6,407.7 L1119.6,407.7 L1120.6,408.0 L1121.6,408.4 L1122.6,408.4 L1123.6,408.5 L1124.6,408.8 L1125.6,408.9 L1126.6,409.2 L1127.6,408.9 L1128.6,409.5 L1129.6,409.4 L1130.6,409.4 L1131.6,409.8 L1132.6,409.9 L1133.6,410.0 L1134.0,410.2 L1134.6,409.8 L1135.6,409.6 L1136.6,409.6 L1137.6,409.7 L1138.6,409.5 L1139.6,409.3 L1140.6,409.0 L1141.0,409.1 L1141.6,409.4 L1142.6,409.3 L1143.6,409.4 L1144.6,409.7 L1145.6,409.9 L1146.6,410.0 L1147.6,410.3 L1148.6,410.3 L1149.6,410.3 L1150.6,410.2 L1151.6,410.9 L1152.6,410.9 L1153.6,411.1 L1154.6,411.3 L1155.6,411.5 L1156.6,411.7 L1157.6,411.8 L1158.6,411.8 L1159.2,411.9 L1159.6,412.0 L1160.6,411.9 L1161.6,412.1 L1162.6,412.3 L1163.6,412.3 L1164.6,412.2 L1165.6,412.1 L1166.6,412.2 L1167.6,412.3 L1168.6,412.4 L1169.6,412.5 L1170.6,412.6 L1171.6,412.7 L1172.6,412.8 L1173.6,412.6 L1174.6,412.7 L1175.6,412.9 L1176.6,413.0 L1177.6,412.8 L1178.6,412.9 L1179.6,413.2 L1180.6,413.2 L1181.6,413.2 L1182.6,413.2 L1183.6,413.1 L1184.6,413.3 L1185.6,413.4 L1186.6,413.5 L1187.6,413.6 L1188.6,413.5 L1189.6,413.8 L1190.0,413.6 L1190.6,413.6 L1191.6,413.5 L1192.6,413.2 L1193.6,413.2 L1194.6,413.2 L1195.6,413.3 L1196.6,413.2 L1197.6,413.3 L1198.6,413.0 L1199.6,412.9 L1200.6,413.0 L1201.6,412.7 L1202.6,412.7 L1203.6,412.6 L1204.6,412.7 L1205.6,412.5 L1206.6,412.4 L1206.8,412.8 L1207.6,412.7 L1208.6,412.9 L1209.6,412.6 L1210.6,412.5 L1211.6,412.5 L1212.6,412.6 L1213.6,412.4 L1214.6,412.7 L1215.6,412.6 L1216.6,412.5 L1217.6,412.4 L1218.6,412.6 L1219.6,412.7 L1220.6,412.8 L1221.6,412.6 L1222.6,412.8 L1223.6,412.9 L1224.6,413.2 L1225.6,412.9 L1226.6,413.0 L1227.6,412.8 L1228.6,412.9 L1229.6,412.9 L1230.6,412.9 L1231.6,413.1 L1232.6,413.0 L1233.6,413.3 L1234.6,413.1 L1235.6,413.1 L1236.6,412.9 L1237.6,413.0 L1238.6,413.2 L1239.6,413.1 L1240.6,413.4 L1241.6,413.1 L1242.6,413.1 L1243.6,413.5 L1244.6,413.0 L1245.6,413.2 L1246.0,413.4 L1246.6,413.4 L1247.6,413.2 L1248.6,413.8 L1249.6,413.4 L1250.6,413.3 L1251.6,413.8 L1252.6,413.6 L1253.6,413.8 L1254.6,413.9 L1255.6,413.7 L1256.6,413.8 L1257.6,414.0 L1258.6,414.2 L1259.6,413.9 L1260.6,414.4 L1261.6,414.3 L1262.6,414.1 L1262.8,414.3 L1263.6,414.4 L1264.6,414.5 L1265.6,414.4 L1266.6,414.5 L1267.6,414.3 L1268.6,414.4 L1269.6,413.9 L1270.6,414.5 L1271.6,414.3 L1272.6,414.5 L1273.6,414.2 L1274.6,414.2 L1275.6,414.3 L1276.6,414.4 L1277.6,414.3 L1278.6,414.5 L1279.6,414.3 L1280.6,414.5 L1281.6,414.7 L1282.6,414.5 L1283.6,414.4 L1284.6,414.1 L1285.2,414.4 L1285.6,414.4 L1286.6,414.2 L1287.6,414.3 L1288.6,413.8 L1289.6,414.0 L1290.6,413.9 L1291.6,414.0 L1292.6,413.8 L1293.6,413.7 L1294.6,414.0 L1295.6,413.5 L1296.6,413.8 L1297.6,413.8 L1298.6,413.5 L1299.6,413.4 L1300.0,413.5 L1300.6,413.4 L1301.6,413.4 L1302.6,413.5 L1303.6,413.4 L1304.6,413.9 L1305.6,413.6 L1306.6,413.4 L1307.6,413.5 L1308.6,413.6 L1309.6,413.5 L1310.6,413.3 L1311.6,413.2 L1312.6,413.6 L1313.6,413.3 L1314.6,413.3 L1315.6,413.4 L1316.6,413.3 L1317.6,413.4 L1318.6,413.2 L1319.6,413.2 L1320.6,413.1 L1321.6,413.5 L1322.6,412.9 L1323.6,413.1 L1324.0,413.0 L1324.6,412.8 L1325.6,412.5 L1326.6,412.3 L1327.6,412.3 L1328.6,412.0 L1329.6,411.4 L1330.6,411.1 L1331.6,410.9 L1332.6,410.9 L1333.6,410.4 L1334.6,409.8 L1335.6,410.0 L1336.6,409.6 L1337.6,409.4 L1338.6,409.1 L1339.6,408.5 L1340.6,408.6 L1341.6,408.3 L1342.6,407.8 L1343.6,407.3 L1344.6,407.2 L1345.6,406.9 L1346.6,406.9 L1347.6,406.4 L1348.0,406.3 L1348.6,406.3 L1349.6,405.9 L1350.6,405.8 L1351.6,405.5 L1352.6,405.4 L1353.6,404.8 L1354.6,404.8 L1355.6,404.5 L1356.6,404.6 L1357.6,404.2 L1358.6,403.7 L1359.6,403.6 L1360.6,403.0 L1361.6,402.8 L1362.6,402.7 L1363.6,402.5 L1364.6,402.1 L1365.6,402.0 L1366.6,401.9 L1367.2,401.4 L1367.6,401.4 L1368.6,401.3 L1369.6,401.7 L1370.6,401.4 L1371.6,401.4 L1372.6,401.3 L1373.6,401.4 L1374.6,401.4 L1375.6,401.4 L1376.6,401.4 L1377.6,401.6 L1378.6,401.2 L1379.6,401.3 L1380.6,401.3 L1381.6,401.1 L1382.6,401.4 L1383.6,401.5 L1384.6,401.0 L1385.6,401.5 L1386.6,401.1 L1387.6,401.1 L1388.6,400.7 L1389.6,401.1 L1390.6,401.0 L1391.6,401.0 L1392.6,401.1 L1393.6,401.0 L1394.6,401.0 L1395.6,400.8 L1396.6,400.8 L1397.6,400.9 L1398.6,401.0 L1399.6,401.0 L1400.6,400.8 L1401.6,400.7 L1402.6,400.8 L1403.6,400.7 L1404.6,400.6 L1405.6,400.8 L1406.6,400.7 L1407.6,400.5 L1408.6,400.6 L1409.6,400.7 L1410.6,400.8 L1411.6,400.3 L1412.6,400.5 L1413.6,400.6 L1414.6,400.7 L1415.6,400.6 L1416.6,400.3 L1417.6,400.4 L1418.6,400.4 L1419.6,400.3 L1420.0,400.2 L1420.6,400.1 L1421.6,400.4 L1422.6,399.8 L1423.6,399.5 L1424.6,399.4 L1425.6,399.1 L1426.6,398.8 L1427.6,398.7 L1428.6,398.3 L1429.6,398.1 L1430.6,398.1 L1431.6,397.8 L1432.6,397.3 L1433.6,397.5 L1434.6,397.0 L1435.6,396.6 L1436.6,396.7 L1437.6,396.4 L1438.6,396.2 L1439.6,395.7 L1440.6,395.8 L1441.6,395.5 L1442.6,395.2 L1443.6,395.0 L1444.6,394.8 L1445.6,394.8 L1446.6,394.2 L1447.6,394.1 L1448.6,394.0 L1449.6,393.7 L1450.6,393.2 L1451.2,393.2 L1451.6,392.8 L1452.6,391.9 L1453.6,391.3 L1454.6,390.7 L1455.6,389.8 L1456.6,389.1 L1457.6,388.2 L1458.6,387.3 L1459.6,386.6 L1460.6,385.5 L1461.6,385.2 L1462.6,384.1 L1463.6,383.7 L1464.6,382.4 L1465.5,381.8 L1465.6,381.8 L1466.6,381.1 L1467.6,380.3 L1468.6,379.7 L1469.6,379.3 L1470.6,378.4 L1471.6,378.0 L1472.6,377.4 L1473.6,376.3 L1474.6,375.8 L1475.6,375.5 L1476.6,374.7 L1477.6,373.7 L1478.6,373.3 L1479.6,372.8 L1480.6,371.6 L1481.6,371.3 L1482.6,370.8 L1483.6,369.9 L1484.6,369.2 L1484.7,369.3 L1485.6,368.6 L1486.6,368.5 L1487.6,368.2 L1488.6,367.6 L1489.6,366.9 L1490.6,367.0 L1491.6,366.4 L1492.6,366.0 L1493.6,365.4 L1494.6,365.1 L1495.6,364.9 L1496.6,364.1 L1497.6,363.7 L1498.6,363.2 L1499.6,363.1 L1500.6,362.7 L1501.6,362.1 L1502.6,361.9 L1503.6,361.4 L1503.9,361.6 L1504.6,360.8 L1505.6,360.5 L1506.6,359.9 L1507.6,359.8 L1508.6,359.1 L1509.6,358.4 L1510.6,358.1 L1511.6,357.6 L1512.6,356.9 L1513.6,356.7 L1514.6,356.1 L1515.6,355.5 L1515.9,355.4 L1516.6,355.6 L1517.6,355.5 L1518.6,355.2 L1519.6,355.1 L1520.6,355.1 L1521.6,354.9 L1522.6,354.7 L1523.6,354.8 L1524.6,354.5 L1525.6,354.8 L1526.6,354.5 L1527.6,354.4 L1528.6,354.2 L1529.6,354.2 L1530.6,354.0 L1531.6,353.9 L1532.6,353.7 L1533.6,354.0 L1534.6,353.5 L1535.1,353.9 L1535.6,353.5 L1536.6,352.7 L1537.6,352.5 L1538.6,351.9 L1539.6,351.2 L1540.0,351.1 L1540.6,350.8 L1541.6,350.4 L1542.6,350.1 L1543.6,349.7 L1544.6,349.2 L1545.6,348.9 L1546.6,349.0 L1547.6,348.9 L1548.6,348.8 L1549.6,348.7 L1550.6,348.9 L1551.6,348.8 L1552.6,348.9 L1553.6,349.0 L1554.6,349.0 L1555.6,348.9 L1556.6,348.8 L1557.6,348.9 L1558.2,348.9 L1558.6,348.9 L1559.6,348.6 L1560.6,348.8 L1561.6,348.6 L1562.6,348.7 L1563.6,348.7 L1564.6,348.6 L1565.6,348.7 L1566.6,348.5 L1567.6,348.5 L1568.6,348.2 L1569.6,348.3 L1570.6,348.2 L1571.6,348.2 L1572.6,348.2 L1573.6,347.8 L1574.6,348.2 L1575.6,348.1 L1576.6,347.7 L1577.6,348.0 L1578.6,348.0 L1579.6,347.9 L1580.6,347.9 L1581.6,347.7 L1582.6,347.6 L1583.6,347.9 L1584.6,347.6 L1585.6,347.8 L1586.2,347.5 L1586.6,347.5 L1587.6,347.1 L1588.6,346.8 L1589.6,346.2 L1590.6,346.4 L1591.6,345.7 L1592.6,345.3 L1593.2,345.1 L1593.6,344.7 L1594.6,345.0 L1595.6,344.5 L1596.6,344.4 L1597.6,344.1 L1598.6,343.6 L1599.6,343.6 L1600.6,343.6 L1601.6,343.1 L1602.6,343.0 L1603.6,342.9 L1604.6,342.7 L1605.6,342.2 L1606.6,342.2 L1607.2,342.0 L1607.6,342.0 L1608.6,342.0 L1609.6,341.9 L1610.6,341.6 L1611.6,341.7 L1612.6,341.5 L1613.6,341.6 L1614.6,341.4 L1615.6,341.6 L1616.6,341.5 L1617.6,341.4 L1618.6,341.1 L1619.6,341.2 L1620.6,341.0 L1621.6,340.9 L1622.6,340.7 L1623.6,341.1 L1624.0,340.8 L1624.6,341.0 L1625.6,341.1 L1626.6,341.0 L1627.6,340.8 L1628.6,341.1 L1629.6,341.0 L1630.6,340.7 L1631.6,340.9 L1632.6,340.7 L1633.6,340.8 L1634.6,341.0 L1635.6,340.8 L1636.6,341.0 L1637.6,340.9 L1638.6,340.9 L1639.6,341.0 L1640.6,340.9 L1641.6,340.8 L1642.6,340.9 L1643.6,340.9 L1644.6,340.5 L1645.6,340.5 L1646.6,340.7 L1647.6,340.8 L1648.6,340.5 L1649.6,340.4 L1650.6,340.6 L1651.6,340.5 L1652.6,340.8 L1653.6,340.2 L1654.6,340.7 L1655.6,340.7 L1656.6,340.1 L1657.6,340.4 L1658.6,340.5 L1659.0,340.6 L1659.6,340.2 L1660.6,339.8 L1661.6,339.3 L1662.6,338.6 L1663.6,338.5 L1664.6,337.8 L1665.6,337.2 L1666.0,337.2 L1666.6,337.0 L1667.6,336.9 L1668.6,336.8 L1669.6,336.5 L1670.6,336.5 L1671.6,336.4 L1672.6,336.2 L1673.6,336.4 L1674.6,336.3 L1675.6,336.1 L1676.6,335.9 L1677.2,335.9 L1677.6,336.2 L1678.6,335.9 L1679.6,336.1 L1680.6,336.1 L1681.6,336.1 L1682.6,335.9 L1683.6,336.0 L1684.6,336.0 L1685.6,335.8 L1686.6,336.2 L1687.6,335.9 L1688.6,336.0 L1689.6,336.3 L1690.6,336.2 L1691.6,335.9 L1692.6,336.1 L1693.6,336.2 L1694.6,335.7 L1695.6,336.3 L1696.6,336.1 L1697.6,336.0 L1698.6,336.0 L1699.6,335.7 L1700.6,336.1 L1701.6,336.2 L1702.6,336.0 L1703.6,336.3 L1704.6,336.1 L1705.6,335.8 L1706.6,336.1 L1707.6,335.7 L1708.0,335.7 L1708.6,336.0 L1709.6,335.7 L1710.6,335.3 L1711.6,335.1 L1712.6,334.6 L1713.6,334.8 L1714.6,334.7 L1715.6,334.7 L1716.6,335.4 L1717.6,335.0 L1718.6,335.0 L1719.6,335.4 L1720.6,335.2 L1721.6,335.2 L1722.0,335.5 L1722.6,335.8 L1723.6,336.6 L1724.6,337.5 L1724.8,337.7 L1725.6,337.3 L1726.6,336.6 L1727.6,335.5 L1728.6,336.4 L1729.6,336.6 L1730.4,337.1" stroke="#8c564b" stroke-width="2.7"/>
</g>
<rect x="250.5" y="60.5" width="1550" height="385" fill="none" stroke="#000" stroke-width="1"/>
<path d="M430.50,445 V451.00 M622.50,445 V451.00 M815.50,445 V451.00 M1007.50,445 V451.00 M1200.50,445 V451.00 M1392.50,445 V451.00 M1584.50,445 V451.00 M1777.50,445 V451.00 M251,420.50 H245.00 M251,354.50 H245.00 M251,289.50 H245.00 M251,224.50 H245.00 M251,158.50 H245.00 M251,93.50 H245.00" stroke="#000" stroke-width="1" fill="none"/>
<text x="430.40" y="466.0" font-size="13.89" text-anchor="middle" textLength="20.47" lengthAdjust="spacingAndGlyphs">−1</text>
<text x="622.83" y="466.0" font-size="13.89" text-anchor="middle" textLength="8.83" lengthAdjust="spacingAndGlyphs">0</text>
<text x="815.26" y="466.0" font-size="13.89" text-anchor="middle" textLength="8.83" lengthAdjust="spacingAndGlyphs">1</text>
<text x="1007.69" y="466.0" font-size="13.89" text-anchor="middle" textLength="8.83" lengthAdjust="spacingAndGlyphs">2</text>
<text x="1200.12" y="466.0" font-size="13.89" text-anchor="middle" textLength="8.83" lengthAdjust="spacingAndGlyphs">3</text>
<text x="1392.55" y="466.0" font-size="13.89" text-anchor="middle" textLength="8.83" lengthAdjust="spacingAndGlyphs">4</text>
<text x="1584.98" y="466.0" font-size="13.89" text-anchor="middle" textLength="8.83" lengthAdjust="spacingAndGlyphs">5</text>
<text x="1777.41" y="466.0" font-size="13.89" text-anchor="middle" textLength="8.83" lengthAdjust="spacingAndGlyphs">6</text>
<text x="240.3" y="425.00" font-size="13.89" text-anchor="end" textLength="26.50" lengthAdjust="spacingAndGlyphs">330</text>
<text x="240.3" y="359.68" font-size="13.89" text-anchor="end" textLength="26.50" lengthAdjust="spacingAndGlyphs">340</text>
<text x="240.3" y="294.36" font-size="13.89" text-anchor="end" textLength="26.50" lengthAdjust="spacingAndGlyphs">350</text>
<text x="240.3" y="229.04" font-size="13.89" text-anchor="end" textLength="26.50" lengthAdjust="spacingAndGlyphs">360</text>
<text x="240.3" y="163.72" font-size="13.89" text-anchor="end" textLength="26.50" lengthAdjust="spacingAndGlyphs">370</text>
<text x="240.3" y="98.40" font-size="13.89" text-anchor="end" textLength="26.50" lengthAdjust="spacingAndGlyphs">380</text>
<text x="1025" y="484.5" font-size="13.89" text-anchor="middle">ra</text>
<text transform="translate(203.7,253.8) rotate(-90)" x="0" y="0" font-size="13.89" text-anchor="middle" textLength="32.85" lengthAdjust="spacingAndGlyphs">T [K]</text>
<rect x="1687.5" y="67.5" width="106" height="129" rx="2.8" ry="2.8" fill="#fff" fill-opacity="0.8" stroke="#cccccc" stroke-width="1.11"/>
<path d="M1691,79.00 H1721" stroke="#1f77b4" stroke-width="2.08"/>
<text x="1732" y="83.70" font-size="13.89">FPGA3</text>
<path d="M1691,99.80 H1721" stroke="#ff7f0e" stroke-width="2.08"/>
<text x="1732" y="104.56" font-size="13.89">FPGA4</text>
<path d="M1691,120.60 H1721" stroke="#2ca02c" stroke-width="2.08"/>
<text x="1731.2" y="125.42" font-size="13.89">ADC3</text>
<path d="M1691,141.40 H1721" stroke="#d62728" stroke-width="2.08"/>
<text x="1731.2" y="146.28" font-size="13.89">ADC4</text>
<path d="M1691,162.20 H1721" stroke="#9467bd" stroke-width="2.08"/>
<text x="1732" y="167.14" font-size="13.89">FRONT3</text>
<path d="M1691,183.00 H1721" stroke="#8c564b" stroke-width="2.08"/>
<text x="1732" y="188.00" font-size="13.89">FRONT4</text>
</svg></body></html>
